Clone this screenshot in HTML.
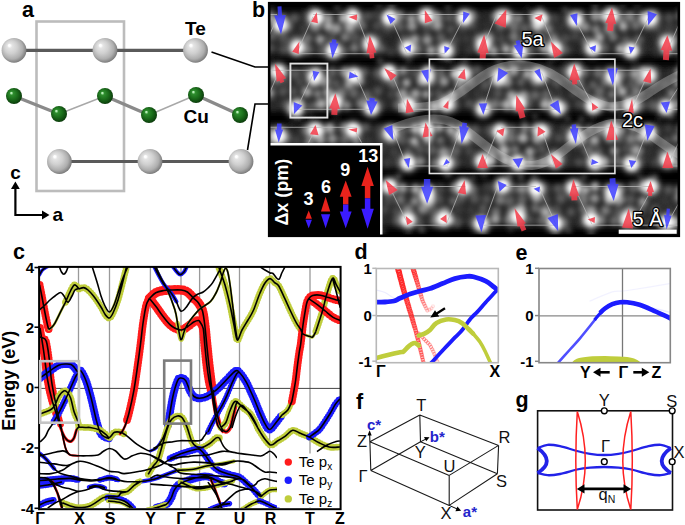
<!DOCTYPE html>
<html><head><meta charset="utf-8"><title>CuTe</title><style>
html,body{margin:0;padding:0;background:#fff;width:685px;height:525px;overflow:hidden}
svg{display:block}
text{font-family:"Liberation Sans",sans-serif}
.lab{font-weight:bold;font-size:21.5px;fill:#000}
.lab2{font-weight:bold;font-size:19px;fill:#000}
.tk{font-weight:bold;font-size:15px}
.kp{font-weight:bold;font-size:16px}
.kp2{font-weight:bold;font-size:16px}
.el{font-weight:bold;font-size:18px}
.lg{font-size:15px}
.bz{font-size:16.5px;fill:#111}
.bs{font-size:15px;font-weight:bold;fill:#2424cc}
.wl{font-size:20px;fill:#fff;stroke:#000;stroke-width:2.6px;paint-order:stroke;stroke-linejoin:round}
.il{font-size:18px;font-weight:bold;fill:#fff}
.in{font-size:18px;font-weight:bold;fill:#fff}
</style></head>
<body><svg width="685" height="525" viewBox="0 0 685 525">
<defs>
<radialGradient id="gte" cx="0.46" cy="0.46" r="0.58" fx="0.3" fy="0.29">
 <stop offset="0" stop-color="#ffffff"/>
 <stop offset="0.07" stop-color="#ffffff"/>
 <stop offset="0.17" stop-color="#e4e4e4"/>
 <stop offset="0.45" stop-color="#d0d0d0"/>
 <stop offset="0.75" stop-color="#aeaeae"/>
 <stop offset="0.92" stop-color="#848484"/>
 <stop offset="1" stop-color="#686868"/>
</radialGradient>
<radialGradient id="gcu" cx="0.46" cy="0.46" r="0.58" fx="0.32" fy="0.3">
 <stop offset="0" stop-color="#e8ffe8"/>
 <stop offset="0.08" stop-color="#a8e8a8"/>
 <stop offset="0.2" stop-color="#2e8e2e"/>
 <stop offset="0.55" stop-color="#1b6e1b"/>
 <stop offset="0.85" stop-color="#0f4a0f"/>
 <stop offset="1" stop-color="#083008"/>
</radialGradient>

<clipPath id="clipb"><rect x="268" y="2" width="412" height="235"/></clipPath>
<filter id="blur4" x="-10%" y="-50%" width="120%" height="200%"><feGaussianBlur stdDeviation="3.5"/></filter>
<filter id="blur2" x="-50%" y="-50%" width="200%" height="200%"><feGaussianBlur stdDeviation="2.9"/></filter>
<filter id="blur3" x="-80%" y="-80%" width="260%" height="260%"><feGaussianBlur stdDeviation="3.5"/></filter>
<clipPath id="clipc"><rect x="39" y="267" width="301.5" height="241"/></clipPath><clipPath id="clipd"><rect x="376.3" y="268.5" width="122" height="94.2"/></clipPath>
<clipPath id="clipe"><rect x="539" y="268.5" width="131.3" height="94.2"/></clipPath></defs>
<rect width="685" height="525" fill="#fff"/>
<text x="22" y="16.6" class="lab">a</text>
<rect x="36.5" y="21.5" width="87.5" height="169.5" fill="none" stroke="#bcbcbc" stroke-width="2.6"/>
<line x1="14" y1="50.3" x2="196" y2="50.3" stroke="#5a5a5a" stroke-width="3.2"/>
<line x1="59" y1="161.5" x2="241" y2="161.5" stroke="#5a5a5a" stroke-width="3.2"/>
<line x1="14" y1="96" x2="59" y2="114" stroke="#8a8a8a" stroke-width="3.4"/>
<line x1="59" y1="114" x2="105" y2="96" stroke="#a8a8a8" stroke-width="1.4"/>
<line x1="105" y1="96" x2="149" y2="115" stroke="#8a8a8a" stroke-width="3.4"/>
<line x1="149" y1="115" x2="196" y2="95" stroke="#a8a8a8" stroke-width="1.4"/>
<line x1="196" y1="95" x2="240" y2="115" stroke="#8a8a8a" stroke-width="3.4"/>
<polyline points="211.5,52 255,67 268.5,67" fill="none" stroke="#000" stroke-width="1.6"/>
<polyline points="247.5,150 255,104 268.5,104" fill="none" stroke="#000" stroke-width="1.6"/>
<circle cx="14" cy="50.3" r="12.4" fill="url(#gte)"/>
<circle cx="105" cy="50.3" r="12.4" fill="url(#gte)"/>
<circle cx="195.5" cy="50.3" r="12.4" fill="url(#gte)"/>
<circle cx="59.4" cy="161.5" r="12.4" fill="url(#gte)"/>
<circle cx="150" cy="161.5" r="12.4" fill="url(#gte)"/>
<circle cx="241" cy="161.5" r="12.4" fill="url(#gte)"/>
<circle cx="14" cy="96" r="8" fill="url(#gcu)"/>
<circle cx="59" cy="114" r="8" fill="url(#gcu)"/>
<circle cx="105" cy="96" r="8" fill="url(#gcu)"/>
<circle cx="149" cy="115" r="8" fill="url(#gcu)"/>
<circle cx="196" cy="95" r="8" fill="url(#gcu)"/>
<circle cx="240" cy="115" r="8" fill="url(#gcu)"/>
<text x="185" y="34.7" class="lab2">Te</text>
<text x="183.5" y="123" class="lab2">Cu</text>
<polyline points="15.4,186 15.4,215 45,215" fill="none" stroke="#000" stroke-width="2.2"/>
<polygon points="15.4,181.5 11,189 19.8,189" fill="#000"/>
<polygon points="49.5,215 42,210.6 42,219.4" fill="#000"/>
<text x="10.3" y="179" class="lab2">c</text>
<text x="52.5" y="221" class="lab2">a</text>
<text x="252" y="17.2" class="lab">b</text>
<g clip-path="url(#clipb)">
<rect x="268" y="2" width="412" height="235" fill="#000"/>
<g filter="url(#blur4)">
<rect x="262" y="11.5" width="425" height="44.2" fill="#262626"/>
<rect x="262" y="67.3" width="425" height="44.0" fill="#262626"/>
<rect x="262" y="124.3" width="425" height="43.7" fill="#262626"/>
<rect x="262" y="183.5" width="425" height="43.7" fill="#262626"/>
</g>
<g filter="url(#blur2)">
<circle cx="270.5" cy="17.9" r="4.6" fill="rgb(164,164,164)"/>
<circle cx="282.2" cy="18.3" r="4.2" fill="rgb(68,68,68)"/>
<circle cx="294.5" cy="18.0" r="4.4" fill="rgb(92,92,92)"/>
<circle cx="305.0" cy="15.4" r="4.9" fill="rgb(41,41,41)"/>
<circle cx="317.3" cy="17.7" r="5.1" fill="rgb(181,181,181)"/>
<circle cx="328.5" cy="18.4" r="4.7" fill="rgb(149,149,149)"/>
<circle cx="342.9" cy="18.0" r="4.5" fill="rgb(169,169,169)"/>
<circle cx="353.4" cy="15.3" r="4.8" fill="rgb(95,95,95)"/>
<circle cx="367.9" cy="16.0" r="4.4" fill="rgb(79,79,79)"/>
<circle cx="375.7" cy="14.8" r="4.4" fill="rgb(61,61,61)"/>
<circle cx="389.3" cy="17.3" r="4.9" fill="rgb(147,147,147)"/>
<circle cx="400.0" cy="15.8" r="5.2" fill="rgb(115,115,115)"/>
<circle cx="411.3" cy="18.3" r="4.4" fill="rgb(160,160,160)"/>
<circle cx="423.7" cy="17.7" r="5.2" fill="rgb(115,115,115)"/>
<circle cx="437.4" cy="17.3" r="5.2" fill="rgb(144,144,144)"/>
<circle cx="449.1" cy="17.8" r="4.3" fill="rgb(95,95,95)"/>
<circle cx="462.4" cy="17.6" r="4.6" fill="rgb(135,135,135)"/>
<circle cx="473.0" cy="15.7" r="5.1" fill="rgb(82,82,82)"/>
<circle cx="485.7" cy="16.0" r="4.5" fill="rgb(40,40,40)"/>
<circle cx="497.2" cy="15.7" r="5.3" fill="rgb(105,105,105)"/>
<circle cx="509.3" cy="17.4" r="5.2" fill="rgb(92,92,92)"/>
<circle cx="518.7" cy="18.4" r="4.4" fill="rgb(131,131,131)"/>
<circle cx="533.8" cy="15.9" r="4.2" fill="rgb(121,121,121)"/>
<circle cx="542.7" cy="18.2" r="4.7" fill="rgb(153,153,153)"/>
<circle cx="554.4" cy="18.4" r="4.6" fill="rgb(66,66,66)"/>
<circle cx="569.1" cy="14.9" r="5.0" fill="rgb(43,43,43)"/>
<circle cx="579.8" cy="15.1" r="4.3" fill="rgb(89,89,89)"/>
<circle cx="595.3" cy="16.3" r="5.2" fill="rgb(149,149,149)"/>
<circle cx="604.7" cy="16.4" r="4.6" fill="rgb(163,163,163)"/>
<circle cx="620.8" cy="18.3" r="4.7" fill="rgb(84,84,84)"/>
<circle cx="630.1" cy="16.5" r="5.2" fill="rgb(133,133,133)"/>
<circle cx="643.2" cy="17.6" r="5.2" fill="rgb(140,140,140)"/>
<circle cx="654.8" cy="15.7" r="4.9" fill="rgb(79,79,79)"/>
<circle cx="669.0" cy="17.6" r="4.5" fill="rgb(77,77,77)"/>
<circle cx="681.1" cy="15.2" r="5.3" fill="rgb(107,107,107)"/>
<circle cx="276.5" cy="28.5" r="5.0" fill="rgb(55,55,55)"/>
<circle cx="288.4" cy="26.6" r="4.6" fill="rgb(86,86,86)"/>
<circle cx="304.0" cy="28.7" r="4.6" fill="rgb(61,61,61)"/>
<circle cx="315.4" cy="27.3" r="5.3" fill="rgb(116,116,116)"/>
<circle cx="328.2" cy="26.3" r="4.6" fill="rgb(177,177,177)"/>
<circle cx="336.6" cy="28.3" r="5.1" fill="rgb(155,155,155)"/>
<circle cx="349.6" cy="27.4" r="5.3" fill="rgb(155,155,155)"/>
<circle cx="361.7" cy="25.9" r="5.1" fill="rgb(104,104,104)"/>
<circle cx="376.7" cy="25.9" r="4.4" fill="rgb(76,76,76)"/>
<circle cx="387.1" cy="28.8" r="5.4" fill="rgb(65,65,65)"/>
<circle cx="399.9" cy="26.9" r="4.8" fill="rgb(93,93,93)"/>
<circle cx="412.0" cy="26.2" r="4.9" fill="rgb(154,154,154)"/>
<circle cx="426.7" cy="28.6" r="4.6" fill="rgb(70,70,70)"/>
<circle cx="437.5" cy="25.4" r="5.2" fill="rgb(158,158,158)"/>
<circle cx="450.6" cy="29.0" r="4.6" fill="rgb(82,82,82)"/>
<circle cx="462.0" cy="28.5" r="5.2" fill="rgb(57,57,57)"/>
<circle cx="473.5" cy="26.7" r="4.8" fill="rgb(58,58,58)"/>
<circle cx="487.5" cy="26.6" r="5.4" fill="rgb(47,47,47)"/>
<circle cx="499.6" cy="28.9" r="4.7" fill="rgb(70,70,70)"/>
<circle cx="514.2" cy="26.7" r="5.0" fill="rgb(111,111,111)"/>
<circle cx="524.7" cy="28.0" r="4.8" fill="rgb(98,98,98)"/>
<circle cx="537.1" cy="26.3" r="5.3" fill="rgb(179,179,179)"/>
<circle cx="548.3" cy="29.0" r="4.5" fill="rgb(133,133,133)"/>
<circle cx="560.0" cy="27.9" r="4.4" fill="rgb(53,53,53)"/>
<circle cx="576.5" cy="28.5" r="4.6" fill="rgb(50,50,50)"/>
<circle cx="585.4" cy="27.1" r="4.9" fill="rgb(138,138,138)"/>
<circle cx="596.1" cy="29.2" r="4.5" fill="rgb(132,132,132)"/>
<circle cx="609.3" cy="28.7" r="5.4" fill="rgb(147,147,147)"/>
<circle cx="623.4" cy="26.4" r="4.3" fill="rgb(184,184,184)"/>
<circle cx="635.7" cy="25.3" r="4.9" fill="rgb(113,113,113)"/>
<circle cx="647.0" cy="25.4" r="5.1" fill="rgb(78,78,78)"/>
<circle cx="656.7" cy="28.0" r="5.0" fill="rgb(64,64,64)"/>
<circle cx="669.4" cy="27.5" r="5.1" fill="rgb(62,62,62)"/>
<circle cx="683.9" cy="28.6" r="5.0" fill="rgb(150,150,150)"/>
<circle cx="271.6" cy="36.5" r="4.6" fill="rgb(92,92,92)"/>
<circle cx="283.7" cy="38.8" r="5.1" fill="rgb(79,79,79)"/>
<circle cx="295.5" cy="38.4" r="4.4" fill="rgb(54,54,54)"/>
<circle cx="307.5" cy="38.4" r="4.8" fill="rgb(112,112,112)"/>
<circle cx="320.2" cy="39.4" r="4.5" fill="rgb(163,163,163)"/>
<circle cx="331.3" cy="36.5" r="4.6" fill="rgb(73,73,73)"/>
<circle cx="345.0" cy="37.1" r="4.3" fill="rgb(132,132,132)"/>
<circle cx="354.8" cy="37.4" r="5.1" fill="rgb(84,84,84)"/>
<circle cx="368.3" cy="39.4" r="4.4" fill="rgb(89,89,89)"/>
<circle cx="379.1" cy="37.8" r="4.3" fill="rgb(48,48,48)"/>
<circle cx="390.4" cy="37.8" r="4.9" fill="rgb(38,38,38)"/>
<circle cx="403.7" cy="38.6" r="4.7" fill="rgb(71,71,71)"/>
<circle cx="414.9" cy="39.0" r="4.6" fill="rgb(153,153,153)"/>
<circle cx="427.2" cy="40.0" r="5.0" fill="rgb(150,150,150)"/>
<circle cx="440.6" cy="37.3" r="4.5" fill="rgb(98,98,98)"/>
<circle cx="454.5" cy="39.7" r="5.4" fill="rgb(68,68,68)"/>
<circle cx="466.3" cy="38.9" r="4.4" fill="rgb(59,59,59)"/>
<circle cx="478.1" cy="38.3" r="4.2" fill="rgb(77,77,77)"/>
<circle cx="488.7" cy="37.5" r="5.3" fill="rgb(119,119,119)"/>
<circle cx="501.3" cy="39.6" r="4.9" fill="rgb(73,73,73)"/>
<circle cx="514.0" cy="36.7" r="5.0" fill="rgb(124,124,124)"/>
<circle cx="527.4" cy="39.0" r="4.8" fill="rgb(155,155,155)"/>
<circle cx="539.8" cy="38.7" r="4.5" fill="rgb(176,176,176)"/>
<circle cx="553.3" cy="37.7" r="4.7" fill="rgb(119,119,119)"/>
<circle cx="565.5" cy="38.3" r="4.7" fill="rgb(75,75,75)"/>
<circle cx="575.3" cy="36.5" r="4.5" fill="rgb(71,71,71)"/>
<circle cx="585.8" cy="39.8" r="4.4" fill="rgb(93,93,93)"/>
<circle cx="599.6" cy="37.4" r="4.6" fill="rgb(167,167,167)"/>
<circle cx="613.1" cy="37.0" r="4.6" fill="rgb(124,124,124)"/>
<circle cx="625.4" cy="39.8" r="4.6" fill="rgb(79,79,79)"/>
<circle cx="638.5" cy="39.2" r="4.3" fill="rgb(102,102,102)"/>
<circle cx="648.0" cy="39.9" r="4.8" fill="rgb(37,37,37)"/>
<circle cx="662.5" cy="38.1" r="5.0" fill="rgb(38,38,38)"/>
<circle cx="674.5" cy="38.1" r="5.1" fill="rgb(85,85,85)"/>
<circle cx="271.1" cy="48.0" r="4.2" fill="rgb(80,80,80)"/>
<circle cx="283.5" cy="49.6" r="4.6" fill="rgb(80,80,80)"/>
<circle cx="295.8" cy="50.8" r="5.4" fill="rgb(81,81,81)"/>
<circle cx="307.9" cy="49.4" r="5.3" fill="rgb(96,96,96)"/>
<circle cx="320.6" cy="50.5" r="4.8" fill="rgb(70,70,70)"/>
<circle cx="334.2" cy="49.8" r="4.9" fill="rgb(74,74,74)"/>
<circle cx="343.0" cy="50.9" r="5.1" fill="rgb(82,82,82)"/>
<circle cx="354.3" cy="47.9" r="4.3" fill="rgb(130,130,130)"/>
<circle cx="368.6" cy="49.5" r="4.3" fill="rgb(77,77,77)"/>
<circle cx="381.8" cy="48.4" r="4.2" fill="rgb(91,91,91)"/>
<circle cx="391.1" cy="51.4" r="4.4" fill="rgb(60,60,60)"/>
<circle cx="406.8" cy="50.1" r="4.9" fill="rgb(81,81,81)"/>
<circle cx="418.1" cy="49.2" r="4.9" fill="rgb(97,97,97)"/>
<circle cx="430.9" cy="50.6" r="4.7" fill="rgb(168,168,168)"/>
<circle cx="445.2" cy="51.7" r="5.0" fill="rgb(109,109,109)"/>
<circle cx="454.4" cy="50.8" r="4.6" fill="rgb(43,43,43)"/>
<circle cx="469.2" cy="49.6" r="4.4" fill="rgb(55,55,55)"/>
<circle cx="482.1" cy="48.7" r="4.7" fill="rgb(172,172,172)"/>
<circle cx="493.8" cy="50.9" r="4.5" fill="rgb(159,159,159)"/>
<circle cx="505.9" cy="49.0" r="4.3" fill="rgb(183,183,183)"/>
<circle cx="518.2" cy="51.5" r="4.2" fill="rgb(141,141,141)"/>
<circle cx="531.7" cy="50.3" r="4.7" fill="rgb(73,73,73)"/>
<circle cx="543.5" cy="48.2" r="4.3" fill="rgb(163,163,163)"/>
<circle cx="555.1" cy="48.4" r="4.4" fill="rgb(141,141,141)"/>
<circle cx="566.6" cy="49.9" r="4.6" fill="rgb(78,78,78)"/>
<circle cx="579.5" cy="48.2" r="4.2" fill="rgb(36,36,36)"/>
<circle cx="595.0" cy="47.8" r="4.5" fill="rgb(180,180,180)"/>
<circle cx="604.8" cy="47.8" r="4.6" fill="rgb(86,86,86)"/>
<circle cx="619.9" cy="48.8" r="4.4" fill="rgb(175,175,175)"/>
<circle cx="630.3" cy="51.5" r="5.1" fill="rgb(150,150,150)"/>
<circle cx="643.3" cy="48.6" r="4.6" fill="rgb(42,42,42)"/>
<circle cx="657.0" cy="51.5" r="4.7" fill="rgb(45,45,45)"/>
<circle cx="666.7" cy="51.0" r="4.9" fill="rgb(132,132,132)"/>
<circle cx="678.3" cy="51.4" r="4.4" fill="rgb(76,76,76)"/>
<circle cx="267.2" cy="71.1" r="4.5" fill="rgb(129,129,129)"/>
<circle cx="281.7" cy="71.8" r="5.1" fill="rgb(57,57,57)"/>
<circle cx="294.9" cy="73.7" r="5.4" fill="rgb(87,87,87)"/>
<circle cx="304.7" cy="71.3" r="4.6" fill="rgb(60,60,60)"/>
<circle cx="316.4" cy="73.2" r="4.4" fill="rgb(82,82,82)"/>
<circle cx="332.3" cy="72.2" r="5.2" fill="rgb(95,95,95)"/>
<circle cx="344.7" cy="71.8" r="4.9" fill="rgb(138,138,138)"/>
<circle cx="355.0" cy="73.6" r="4.9" fill="rgb(135,135,135)"/>
<circle cx="364.8" cy="71.8" r="4.2" fill="rgb(78,78,78)"/>
<circle cx="377.5" cy="73.5" r="5.0" fill="rgb(80,80,80)"/>
<circle cx="388.4" cy="70.9" r="4.9" fill="rgb(158,158,158)"/>
<circle cx="403.3" cy="71.1" r="4.2" fill="rgb(145,145,145)"/>
<circle cx="413.4" cy="72.6" r="4.3" fill="rgb(73,73,73)"/>
<circle cx="428.7" cy="70.4" r="4.7" fill="rgb(161,161,161)"/>
<circle cx="441.2" cy="73.0" r="4.3" fill="rgb(100,100,100)"/>
<circle cx="454.8" cy="74.0" r="4.6" fill="rgb(184,184,184)"/>
<circle cx="466.2" cy="73.9" r="4.5" fill="rgb(70,70,70)"/>
<circle cx="477.3" cy="70.3" r="4.9" fill="rgb(85,85,85)"/>
<circle cx="489.8" cy="71.1" r="5.1" fill="rgb(46,46,46)"/>
<circle cx="500.8" cy="73.1" r="4.7" fill="rgb(55,55,55)"/>
<circle cx="513.7" cy="70.7" r="5.4" fill="rgb(161,161,161)"/>
<circle cx="527.0" cy="73.9" r="4.5" fill="rgb(172,172,172)"/>
<circle cx="536.6" cy="72.9" r="4.7" fill="rgb(150,150,150)"/>
<circle cx="551.8" cy="73.2" r="5.2" fill="rgb(75,75,75)"/>
<circle cx="562.7" cy="71.3" r="4.8" fill="rgb(62,62,62)"/>
<circle cx="576.3" cy="71.0" r="4.9" fill="rgb(80,80,80)"/>
<circle cx="585.7" cy="72.6" r="4.6" fill="rgb(84,84,84)"/>
<circle cx="598.1" cy="73.1" r="4.9" fill="rgb(111,111,111)"/>
<circle cx="608.9" cy="72.4" r="5.3" fill="rgb(77,77,77)"/>
<circle cx="622.1" cy="74.0" r="5.2" fill="rgb(94,94,94)"/>
<circle cx="634.3" cy="73.7" r="4.9" fill="rgb(159,159,159)"/>
<circle cx="642.5" cy="70.9" r="4.4" fill="rgb(156,156,156)"/>
<circle cx="656.4" cy="71.6" r="4.9" fill="rgb(41,41,41)"/>
<circle cx="671.3" cy="74.1" r="5.1" fill="rgb(46,46,46)"/>
<circle cx="680.6" cy="70.6" r="4.3" fill="rgb(181,181,181)"/>
<circle cx="275.8" cy="81.8" r="5.4" fill="rgb(78,78,78)"/>
<circle cx="286.6" cy="83.2" r="4.7" fill="rgb(64,64,64)"/>
<circle cx="299.6" cy="82.2" r="4.2" fill="rgb(78,78,78)"/>
<circle cx="313.8" cy="82.0" r="5.1" fill="rgb(132,132,132)"/>
<circle cx="325.2" cy="81.6" r="5.4" fill="rgb(131,131,131)"/>
<circle cx="336.0" cy="83.6" r="4.5" fill="rgb(88,88,88)"/>
<circle cx="348.7" cy="84.6" r="4.3" fill="rgb(143,143,143)"/>
<circle cx="359.9" cy="81.8" r="4.3" fill="rgb(125,125,125)"/>
<circle cx="374.7" cy="83.1" r="4.4" fill="rgb(39,39,39)"/>
<circle cx="384.5" cy="84.6" r="4.8" fill="rgb(46,46,46)"/>
<circle cx="394.5" cy="84.1" r="4.4" fill="rgb(115,115,115)"/>
<circle cx="406.5" cy="82.7" r="4.2" fill="rgb(173,173,173)"/>
<circle cx="421.4" cy="81.6" r="4.3" fill="rgb(136,136,136)"/>
<circle cx="430.8" cy="82.0" r="4.8" fill="rgb(71,71,71)"/>
<circle cx="444.0" cy="81.5" r="4.8" fill="rgb(157,157,157)"/>
<circle cx="459.2" cy="84.5" r="4.7" fill="rgb(134,134,134)"/>
<circle cx="470.3" cy="82.5" r="4.9" fill="rgb(75,75,75)"/>
<circle cx="485.5" cy="84.5" r="5.2" fill="rgb(86,86,86)"/>
<circle cx="497.7" cy="81.5" r="5.1" fill="rgb(174,174,174)"/>
<circle cx="507.4" cy="82.3" r="5.2" fill="rgb(124,124,124)"/>
<circle cx="521.0" cy="82.0" r="4.5" fill="rgb(94,94,94)"/>
<circle cx="534.8" cy="81.2" r="5.1" fill="rgb(85,85,85)"/>
<circle cx="548.0" cy="81.6" r="5.3" fill="rgb(37,37,37)"/>
<circle cx="556.8" cy="82.7" r="4.8" fill="rgb(88,88,88)"/>
<circle cx="571.4" cy="81.0" r="5.3" fill="rgb(39,39,39)"/>
<circle cx="579.7" cy="83.5" r="4.3" fill="rgb(124,124,124)"/>
<circle cx="593.1" cy="84.8" r="4.4" fill="rgb(97,97,97)"/>
<circle cx="604.2" cy="82.5" r="4.5" fill="rgb(81,81,81)"/>
<circle cx="617.3" cy="84.3" r="4.9" fill="rgb(131,131,131)"/>
<circle cx="631.1" cy="83.8" r="4.5" fill="rgb(87,87,87)"/>
<circle cx="640.5" cy="80.9" r="5.0" fill="rgb(131,131,131)"/>
<circle cx="654.2" cy="84.0" r="4.8" fill="rgb(49,49,49)"/>
<circle cx="665.7" cy="84.4" r="4.5" fill="rgb(67,67,67)"/>
<circle cx="677.7" cy="83.5" r="4.6" fill="rgb(141,141,141)"/>
<circle cx="269.6" cy="93.0" r="4.9" fill="rgb(161,161,161)"/>
<circle cx="282.9" cy="91.7" r="4.4" fill="rgb(89,89,89)"/>
<circle cx="293.7" cy="91.8" r="4.5" fill="rgb(82,82,82)"/>
<circle cx="306.8" cy="92.0" r="4.9" fill="rgb(174,174,174)"/>
<circle cx="317.7" cy="93.7" r="4.2" fill="rgb(133,133,133)"/>
<circle cx="327.9" cy="92.0" r="4.3" fill="rgb(164,164,164)"/>
<circle cx="341.9" cy="92.0" r="5.2" fill="rgb(103,103,103)"/>
<circle cx="353.7" cy="93.0" r="5.2" fill="rgb(102,102,102)"/>
<circle cx="366.2" cy="94.9" r="5.0" fill="rgb(101,101,101)"/>
<circle cx="377.7" cy="91.6" r="4.4" fill="rgb(88,88,88)"/>
<circle cx="391.8" cy="94.2" r="4.3" fill="rgb(70,70,70)"/>
<circle cx="402.6" cy="93.8" r="5.2" fill="rgb(156,156,156)"/>
<circle cx="415.5" cy="93.7" r="4.8" fill="rgb(162,162,162)"/>
<circle cx="426.4" cy="94.2" r="4.3" fill="rgb(159,159,159)"/>
<circle cx="438.6" cy="93.5" r="5.1" fill="rgb(78,78,78)"/>
<circle cx="452.3" cy="94.8" r="4.3" fill="rgb(177,177,177)"/>
<circle cx="462.8" cy="92.6" r="4.6" fill="rgb(83,83,83)"/>
<circle cx="477.8" cy="93.3" r="4.8" fill="rgb(55,55,55)"/>
<circle cx="486.8" cy="93.9" r="5.3" fill="rgb(48,48,48)"/>
<circle cx="498.0" cy="93.1" r="4.6" fill="rgb(89,89,89)"/>
<circle cx="511.1" cy="95.1" r="4.7" fill="rgb(153,153,153)"/>
<circle cx="524.0" cy="95.1" r="4.7" fill="rgb(134,134,134)"/>
<circle cx="535.1" cy="95.2" r="4.9" fill="rgb(104,104,104)"/>
<circle cx="546.3" cy="94.6" r="5.0" fill="rgb(100,100,100)"/>
<circle cx="558.5" cy="93.1" r="4.9" fill="rgb(53,53,53)"/>
<circle cx="573.3" cy="94.0" r="4.5" fill="rgb(68,68,68)"/>
<circle cx="584.7" cy="91.8" r="5.0" fill="rgb(84,84,84)"/>
<circle cx="599.7" cy="91.6" r="5.2" fill="rgb(106,106,106)"/>
<circle cx="612.2" cy="94.5" r="4.4" fill="rgb(119,119,119)"/>
<circle cx="622.4" cy="91.7" r="4.6" fill="rgb(179,179,179)"/>
<circle cx="636.5" cy="91.7" r="5.4" fill="rgb(122,122,122)"/>
<circle cx="649.2" cy="95.0" r="5.3" fill="rgb(37,37,37)"/>
<circle cx="658.6" cy="93.1" r="4.8" fill="rgb(41,41,41)"/>
<circle cx="672.1" cy="93.5" r="4.5" fill="rgb(139,139,139)"/>
<circle cx="273.8" cy="105.3" r="4.4" fill="rgb(41,41,41)"/>
<circle cx="286.2" cy="104.6" r="5.4" fill="rgb(76,76,76)"/>
<circle cx="299.0" cy="103.0" r="4.7" fill="rgb(140,140,140)"/>
<circle cx="311.5" cy="106.5" r="4.7" fill="rgb(87,87,87)"/>
<circle cx="321.0" cy="104.1" r="5.1" fill="rgb(173,173,173)"/>
<circle cx="335.6" cy="106.5" r="4.8" fill="rgb(152,152,152)"/>
<circle cx="347.0" cy="105.4" r="4.5" fill="rgb(134,134,134)"/>
<circle cx="360.9" cy="103.4" r="5.1" fill="rgb(121,121,121)"/>
<circle cx="373.0" cy="104.6" r="5.3" fill="rgb(79,79,79)"/>
<circle cx="381.9" cy="104.6" r="4.4" fill="rgb(50,50,50)"/>
<circle cx="397.3" cy="104.8" r="5.0" fill="rgb(89,89,89)"/>
<circle cx="407.3" cy="103.0" r="4.5" fill="rgb(183,183,183)"/>
<circle cx="418.7" cy="105.1" r="4.4" fill="rgb(85,85,85)"/>
<circle cx="434.3" cy="106.5" r="4.8" fill="rgb(177,177,177)"/>
<circle cx="443.7" cy="104.9" r="4.3" fill="rgb(112,112,112)"/>
<circle cx="454.8" cy="105.5" r="5.4" fill="rgb(58,58,58)"/>
<circle cx="469.1" cy="103.5" r="4.2" fill="rgb(81,81,81)"/>
<circle cx="482.3" cy="106.2" r="5.0" fill="rgb(61,61,61)"/>
<circle cx="495.4" cy="104.1" r="5.3" fill="rgb(113,113,113)"/>
<circle cx="506.6" cy="104.8" r="5.2" fill="rgb(171,171,171)"/>
<circle cx="518.9" cy="104.3" r="4.8" fill="rgb(171,171,171)"/>
<circle cx="529.0" cy="103.6" r="4.8" fill="rgb(70,70,70)"/>
<circle cx="544.7" cy="104.4" r="4.8" fill="rgb(179,179,179)"/>
<circle cx="554.2" cy="103.9" r="5.0" fill="rgb(123,123,123)"/>
<circle cx="564.6" cy="106.6" r="4.5" fill="rgb(77,77,77)"/>
<circle cx="579.2" cy="104.3" r="4.6" fill="rgb(72,72,72)"/>
<circle cx="591.8" cy="105.7" r="5.2" fill="rgb(166,166,166)"/>
<circle cx="602.5" cy="103.1" r="5.2" fill="rgb(137,137,137)"/>
<circle cx="613.7" cy="106.4" r="4.4" fill="rgb(168,168,168)"/>
<circle cx="628.3" cy="102.9" r="4.8" fill="rgb(130,130,130)"/>
<circle cx="641.1" cy="105.3" r="4.9" fill="rgb(84,84,84)"/>
<circle cx="652.5" cy="105.4" r="5.2" fill="rgb(89,89,89)"/>
<circle cx="664.1" cy="104.2" r="4.4" fill="rgb(67,67,67)"/>
<circle cx="675.8" cy="104.4" r="5.3" fill="rgb(117,117,117)"/>
<circle cx="265.8" cy="131.1" r="4.7" fill="rgb(181,181,181)"/>
<circle cx="278.9" cy="130.9" r="4.4" fill="rgb(79,79,79)"/>
<circle cx="291.8" cy="128.1" r="4.5" fill="rgb(36,36,36)"/>
<circle cx="305.5" cy="130.8" r="5.0" fill="rgb(88,88,88)"/>
<circle cx="319.0" cy="130.9" r="5.2" fill="rgb(171,171,171)"/>
<circle cx="329.9" cy="128.1" r="5.1" fill="rgb(175,175,175)"/>
<circle cx="343.4" cy="127.5" r="5.1" fill="rgb(102,102,102)"/>
<circle cx="355.5" cy="130.1" r="4.4" fill="rgb(177,177,177)"/>
<circle cx="366.2" cy="127.3" r="4.4" fill="rgb(87,87,87)"/>
<circle cx="379.4" cy="130.1" r="5.3" fill="rgb(62,62,62)"/>
<circle cx="389.9" cy="131.0" r="5.2" fill="rgb(88,88,88)"/>
<circle cx="403.8" cy="130.2" r="4.6" fill="rgb(89,89,89)"/>
<circle cx="415.0" cy="129.1" r="4.8" fill="rgb(183,183,183)"/>
<circle cx="426.7" cy="128.9" r="5.4" fill="rgb(147,147,147)"/>
<circle cx="439.4" cy="127.7" r="4.2" fill="rgb(175,175,175)"/>
<circle cx="450.6" cy="130.0" r="4.8" fill="rgb(169,169,169)"/>
<circle cx="463.5" cy="128.0" r="4.3" fill="rgb(82,82,82)"/>
<circle cx="475.3" cy="130.0" r="5.1" fill="rgb(84,84,84)"/>
<circle cx="488.5" cy="130.8" r="5.3" fill="rgb(68,68,68)"/>
<circle cx="500.2" cy="129.2" r="4.2" fill="rgb(80,80,80)"/>
<circle cx="512.7" cy="129.6" r="4.7" fill="rgb(89,89,89)"/>
<circle cx="524.8" cy="127.7" r="4.5" fill="rgb(136,136,136)"/>
<circle cx="535.8" cy="128.7" r="4.6" fill="rgb(118,118,118)"/>
<circle cx="552.2" cy="128.7" r="5.4" fill="rgb(40,40,40)"/>
<circle cx="563.5" cy="128.6" r="4.3" fill="rgb(55,55,55)"/>
<circle cx="576.5" cy="129.7" r="5.0" fill="rgb(127,127,127)"/>
<circle cx="589.3" cy="129.3" r="4.5" fill="rgb(109,109,109)"/>
<circle cx="599.9" cy="130.8" r="4.3" fill="rgb(134,134,134)"/>
<circle cx="611.5" cy="129.0" r="4.9" fill="rgb(95,95,95)"/>
<circle cx="621.3" cy="130.4" r="4.6" fill="rgb(126,126,126)"/>
<circle cx="633.3" cy="127.9" r="4.3" fill="rgb(145,145,145)"/>
<circle cx="648.0" cy="130.9" r="4.3" fill="rgb(142,142,142)"/>
<circle cx="657.3" cy="129.0" r="4.6" fill="rgb(40,40,40)"/>
<circle cx="668.4" cy="128.6" r="4.7" fill="rgb(62,62,62)"/>
<circle cx="682.1" cy="129.2" r="4.9" fill="rgb(135,135,135)"/>
<circle cx="272.5" cy="139.1" r="5.2" fill="rgb(110,110,110)"/>
<circle cx="286.4" cy="137.8" r="4.6" fill="rgb(85,85,85)"/>
<circle cx="296.4" cy="140.3" r="5.4" fill="rgb(63,63,63)"/>
<circle cx="309.4" cy="141.3" r="4.6" fill="rgb(128,128,128)"/>
<circle cx="320.7" cy="139.8" r="4.7" fill="rgb(157,157,157)"/>
<circle cx="332.3" cy="138.9" r="4.8" fill="rgb(148,148,148)"/>
<circle cx="344.3" cy="139.4" r="5.0" fill="rgb(94,94,94)"/>
<circle cx="356.2" cy="139.6" r="4.2" fill="rgb(134,134,134)"/>
<circle cx="367.7" cy="141.1" r="4.9" fill="rgb(56,56,56)"/>
<circle cx="380.0" cy="138.2" r="4.2" fill="rgb(66,66,66)"/>
<circle cx="392.3" cy="139.2" r="5.1" fill="rgb(56,56,56)"/>
<circle cx="402.9" cy="140.1" r="5.1" fill="rgb(85,85,85)"/>
<circle cx="414.2" cy="141.3" r="4.3" fill="rgb(185,185,185)"/>
<circle cx="428.0" cy="139.0" r="4.6" fill="rgb(176,176,176)"/>
<circle cx="440.3" cy="140.2" r="4.3" fill="rgb(109,109,109)"/>
<circle cx="453.7" cy="138.3" r="5.1" fill="rgb(71,71,71)"/>
<circle cx="466.6" cy="139.6" r="5.1" fill="rgb(82,82,82)"/>
<circle cx="476.9" cy="140.1" r="4.3" fill="rgb(71,71,71)"/>
<circle cx="486.2" cy="138.3" r="4.3" fill="rgb(44,44,44)"/>
<circle cx="501.2" cy="140.3" r="4.8" fill="rgb(148,148,148)"/>
<circle cx="511.7" cy="138.4" r="4.8" fill="rgb(111,111,111)"/>
<circle cx="523.0" cy="138.0" r="5.1" fill="rgb(177,177,177)"/>
<circle cx="536.5" cy="139.6" r="4.4" fill="rgb(144,144,144)"/>
<circle cx="546.8" cy="139.7" r="4.4" fill="rgb(50,50,50)"/>
<circle cx="558.9" cy="138.0" r="4.4" fill="rgb(81,81,81)"/>
<circle cx="571.3" cy="139.3" r="5.0" fill="rgb(74,74,74)"/>
<circle cx="582.5" cy="139.7" r="4.6" fill="rgb(150,150,150)"/>
<circle cx="594.4" cy="140.3" r="4.9" fill="rgb(172,172,172)"/>
<circle cx="609.8" cy="137.4" r="5.3" fill="rgb(130,130,130)"/>
<circle cx="619.5" cy="138.6" r="4.9" fill="rgb(91,91,91)"/>
<circle cx="631.0" cy="138.7" r="5.2" fill="rgb(130,130,130)"/>
<circle cx="640.8" cy="137.8" r="4.9" fill="rgb(140,140,140)"/>
<circle cx="654.1" cy="139.5" r="5.3" fill="rgb(36,36,36)"/>
<circle cx="666.5" cy="141.0" r="4.4" fill="rgb(80,80,80)"/>
<circle cx="676.5" cy="138.3" r="4.6" fill="rgb(115,115,115)"/>
<circle cx="269.9" cy="150.7" r="4.7" fill="rgb(118,118,118)"/>
<circle cx="284.6" cy="152.7" r="4.7" fill="rgb(44,44,44)"/>
<circle cx="298.2" cy="151.2" r="5.1" fill="rgb(38,38,38)"/>
<circle cx="306.5" cy="150.8" r="5.1" fill="rgb(134,134,134)"/>
<circle cx="319.4" cy="151.5" r="4.9" fill="rgb(125,125,125)"/>
<circle cx="333.7" cy="152.5" r="5.2" fill="rgb(160,160,160)"/>
<circle cx="342.9" cy="151.8" r="4.9" fill="rgb(170,170,170)"/>
<circle cx="357.6" cy="149.5" r="4.8" fill="rgb(132,132,132)"/>
<circle cx="369.0" cy="151.0" r="5.3" fill="rgb(65,65,65)"/>
<circle cx="381.6" cy="149.4" r="5.1" fill="rgb(55,55,55)"/>
<circle cx="394.2" cy="151.9" r="5.0" fill="rgb(63,63,63)"/>
<circle cx="408.0" cy="151.5" r="4.2" fill="rgb(88,88,88)"/>
<circle cx="419.9" cy="149.0" r="5.2" fill="rgb(84,84,84)"/>
<circle cx="431.6" cy="150.1" r="5.3" fill="rgb(93,93,93)"/>
<circle cx="443.6" cy="151.8" r="5.4" fill="rgb(138,138,138)"/>
<circle cx="455.4" cy="150.7" r="5.4" fill="rgb(98,98,98)"/>
<circle cx="469.1" cy="151.1" r="4.6" fill="rgb(70,70,70)"/>
<circle cx="479.3" cy="149.8" r="4.4" fill="rgb(37,37,37)"/>
<circle cx="491.5" cy="151.4" r="5.2" fill="rgb(99,99,99)"/>
<circle cx="503.8" cy="150.4" r="5.3" fill="rgb(184,184,184)"/>
<circle cx="514.9" cy="149.4" r="4.2" fill="rgb(125,125,125)"/>
<circle cx="529.9" cy="151.8" r="4.5" fill="rgb(168,168,168)"/>
<circle cx="541.6" cy="149.2" r="5.0" fill="rgb(83,83,83)"/>
<circle cx="554.7" cy="152.2" r="4.3" fill="rgb(52,52,52)"/>
<circle cx="565.5" cy="152.3" r="5.1" fill="rgb(54,54,54)"/>
<circle cx="578.7" cy="150.5" r="4.3" fill="rgb(46,46,46)"/>
<circle cx="588.2" cy="150.3" r="5.2" fill="rgb(103,103,103)"/>
<circle cx="598.5" cy="150.6" r="4.2" fill="rgb(82,82,82)"/>
<circle cx="614.5" cy="151.0" r="4.4" fill="rgb(150,150,150)"/>
<circle cx="626.2" cy="148.8" r="4.7" fill="rgb(80,80,80)"/>
<circle cx="636.4" cy="150.0" r="5.3" fill="rgb(164,164,164)"/>
<circle cx="647.9" cy="151.1" r="5.4" fill="rgb(50,50,50)"/>
<circle cx="662.2" cy="151.5" r="4.9" fill="rgb(67,67,67)"/>
<circle cx="673.6" cy="151.6" r="4.8" fill="rgb(136,136,136)"/>
<circle cx="274.7" cy="163.3" r="4.8" fill="rgb(78,78,78)"/>
<circle cx="289.2" cy="161.6" r="4.5" fill="rgb(51,51,51)"/>
<circle cx="300.8" cy="161.9" r="4.9" fill="rgb(80,80,80)"/>
<circle cx="313.9" cy="163.4" r="4.3" fill="rgb(125,125,125)"/>
<circle cx="325.1" cy="163.2" r="4.5" fill="rgb(76,76,76)"/>
<circle cx="334.7" cy="161.8" r="4.5" fill="rgb(114,114,114)"/>
<circle cx="349.8" cy="162.3" r="5.3" fill="rgb(127,127,127)"/>
<circle cx="362.1" cy="163.2" r="4.4" fill="rgb(180,180,180)"/>
<circle cx="370.8" cy="161.5" r="4.8" fill="rgb(183,183,183)"/>
<circle cx="386.9" cy="162.6" r="5.2" fill="rgb(58,58,58)"/>
<circle cx="395.9" cy="160.9" r="5.0" fill="rgb(52,52,52)"/>
<circle cx="408.0" cy="160.4" r="4.6" fill="rgb(165,165,165)"/>
<circle cx="420.6" cy="161.4" r="4.7" fill="rgb(136,136,136)"/>
<circle cx="434.3" cy="163.4" r="4.9" fill="rgb(98,98,98)"/>
<circle cx="445.5" cy="163.3" r="4.3" fill="rgb(182,182,182)"/>
<circle cx="456.4" cy="162.6" r="4.9" fill="rgb(68,68,68)"/>
<circle cx="468.1" cy="162.0" r="4.6" fill="rgb(47,47,47)"/>
<circle cx="479.9" cy="161.3" r="5.3" fill="rgb(55,55,55)"/>
<circle cx="491.5" cy="160.6" r="4.6" fill="rgb(170,170,170)"/>
<circle cx="505.3" cy="160.6" r="4.3" fill="rgb(184,184,184)"/>
<circle cx="516.4" cy="160.3" r="5.4" fill="rgb(115,115,115)"/>
<circle cx="530.6" cy="161.6" r="4.8" fill="rgb(159,159,159)"/>
<circle cx="542.3" cy="162.3" r="5.4" fill="rgb(126,126,126)"/>
<circle cx="557.3" cy="160.5" r="5.1" fill="rgb(36,36,36)"/>
<circle cx="569.3" cy="162.0" r="4.8" fill="rgb(45,45,45)"/>
<circle cx="579.3" cy="162.4" r="4.2" fill="rgb(84,84,84)"/>
<circle cx="594.7" cy="160.2" r="5.0" fill="rgb(125,125,125)"/>
<circle cx="604.2" cy="162.0" r="5.4" fill="rgb(155,155,155)"/>
<circle cx="616.9" cy="161.3" r="5.0" fill="rgb(106,106,106)"/>
<circle cx="628.6" cy="162.2" r="5.2" fill="rgb(147,147,147)"/>
<circle cx="641.6" cy="159.8" r="5.1" fill="rgb(55,55,55)"/>
<circle cx="654.3" cy="162.3" r="4.8" fill="rgb(60,60,60)"/>
<circle cx="664.0" cy="160.1" r="5.2" fill="rgb(39,39,39)"/>
<circle cx="679.1" cy="163.6" r="4.9" fill="rgb(152,152,152)"/>
<circle cx="269.5" cy="187.5" r="4.6" fill="rgb(117,117,117)"/>
<circle cx="282.5" cy="187.3" r="5.1" fill="rgb(68,68,68)"/>
<circle cx="293.8" cy="189.4" r="4.3" fill="rgb(80,80,80)"/>
<circle cx="307.6" cy="187.4" r="5.0" fill="rgb(43,43,43)"/>
<circle cx="319.4" cy="187.4" r="4.4" fill="rgb(84,84,84)"/>
<circle cx="332.0" cy="186.9" r="4.3" fill="rgb(159,159,159)"/>
<circle cx="345.2" cy="187.4" r="4.9" fill="rgb(96,96,96)"/>
<circle cx="356.1" cy="186.9" r="4.8" fill="rgb(125,125,125)"/>
<circle cx="369.1" cy="188.9" r="4.9" fill="rgb(66,66,66)"/>
<circle cx="381.2" cy="189.0" r="4.4" fill="rgb(76,76,76)"/>
<circle cx="389.2" cy="187.2" r="4.7" fill="rgb(74,74,74)"/>
<circle cx="402.9" cy="188.2" r="4.7" fill="rgb(157,157,157)"/>
<circle cx="415.5" cy="189.2" r="4.6" fill="rgb(174,174,174)"/>
<circle cx="428.3" cy="189.5" r="5.1" fill="rgb(183,183,183)"/>
<circle cx="440.5" cy="188.6" r="4.4" fill="rgb(72,72,72)"/>
<circle cx="454.2" cy="188.1" r="4.6" fill="rgb(112,112,112)"/>
<circle cx="462.3" cy="189.2" r="4.7" fill="rgb(104,104,104)"/>
<circle cx="473.3" cy="190.1" r="4.8" fill="rgb(89,89,89)"/>
<circle cx="487.7" cy="187.5" r="5.1" fill="rgb(62,62,62)"/>
<circle cx="500.9" cy="190.4" r="4.3" fill="rgb(94,94,94)"/>
<circle cx="513.6" cy="188.9" r="5.1" fill="rgb(74,74,74)"/>
<circle cx="522.1" cy="188.9" r="4.6" fill="rgb(148,148,148)"/>
<circle cx="532.8" cy="186.5" r="5.0" fill="rgb(126,126,126)"/>
<circle cx="546.5" cy="188.3" r="4.8" fill="rgb(51,51,51)"/>
<circle cx="558.0" cy="188.6" r="4.6" fill="rgb(90,90,90)"/>
<circle cx="568.8" cy="187.8" r="4.3" fill="rgb(71,71,71)"/>
<circle cx="585.6" cy="189.8" r="4.3" fill="rgb(175,175,175)"/>
<circle cx="595.0" cy="186.6" r="4.5" fill="rgb(184,184,184)"/>
<circle cx="607.8" cy="189.3" r="4.3" fill="rgb(114,114,114)"/>
<circle cx="620.8" cy="188.8" r="4.5" fill="rgb(104,104,104)"/>
<circle cx="633.3" cy="187.2" r="5.4" fill="rgb(100,100,100)"/>
<circle cx="643.4" cy="186.6" r="4.9" fill="rgb(163,163,163)"/>
<circle cx="654.2" cy="186.6" r="4.8" fill="rgb(73,73,73)"/>
<circle cx="668.5" cy="190.0" r="4.4" fill="rgb(92,92,92)"/>
<circle cx="679.7" cy="190.4" r="4.3" fill="rgb(138,138,138)"/>
<circle cx="278.9" cy="200.7" r="4.6" fill="rgb(79,79,79)"/>
<circle cx="288.7" cy="200.5" r="4.6" fill="rgb(86,86,86)"/>
<circle cx="303.6" cy="201.6" r="5.4" fill="rgb(53,53,53)"/>
<circle cx="314.2" cy="200.7" r="4.3" fill="rgb(79,79,79)"/>
<circle cx="329.3" cy="201.5" r="5.2" fill="rgb(77,77,77)"/>
<circle cx="340.7" cy="199.6" r="4.8" fill="rgb(180,180,180)"/>
<circle cx="352.1" cy="200.3" r="5.2" fill="rgb(103,103,103)"/>
<circle cx="361.1" cy="198.8" r="4.7" fill="rgb(154,154,154)"/>
<circle cx="376.6" cy="200.6" r="4.3" fill="rgb(58,58,58)"/>
<circle cx="388.6" cy="200.5" r="5.3" fill="rgb(71,71,71)"/>
<circle cx="400.2" cy="199.7" r="5.1" fill="rgb(113,113,113)"/>
<circle cx="414.6" cy="201.1" r="4.3" fill="rgb(140,140,140)"/>
<circle cx="428.2" cy="201.7" r="5.3" fill="rgb(175,175,175)"/>
<circle cx="439.0" cy="199.5" r="5.3" fill="rgb(75,75,75)"/>
<circle cx="453.3" cy="200.9" r="4.4" fill="rgb(102,102,102)"/>
<circle cx="461.4" cy="199.2" r="4.3" fill="rgb(82,82,82)"/>
<circle cx="474.7" cy="198.8" r="4.9" fill="rgb(88,88,88)"/>
<circle cx="486.5" cy="199.3" r="4.5" fill="rgb(87,87,87)"/>
<circle cx="499.9" cy="200.3" r="4.7" fill="rgb(126,126,126)"/>
<circle cx="509.4" cy="201.1" r="5.4" fill="rgb(96,96,96)"/>
<circle cx="522.0" cy="199.4" r="4.7" fill="rgb(104,104,104)"/>
<circle cx="536.3" cy="198.1" r="4.4" fill="rgb(147,147,147)"/>
<circle cx="545.6" cy="200.4" r="4.7" fill="rgb(77,77,77)"/>
<circle cx="560.9" cy="198.2" r="5.2" fill="rgb(92,92,92)"/>
<circle cx="573.9" cy="199.7" r="4.4" fill="rgb(53,53,53)"/>
<circle cx="583.5" cy="199.1" r="4.8" fill="rgb(126,126,126)"/>
<circle cx="594.6" cy="198.4" r="4.7" fill="rgb(150,150,150)"/>
<circle cx="609.4" cy="199.2" r="5.0" fill="rgb(168,168,168)"/>
<circle cx="619.2" cy="200.3" r="5.3" fill="rgb(141,141,141)"/>
<circle cx="630.4" cy="199.4" r="5.0" fill="rgb(88,88,88)"/>
<circle cx="643.0" cy="201.6" r="4.5" fill="rgb(161,161,161)"/>
<circle cx="656.5" cy="200.1" r="4.4" fill="rgb(44,44,44)"/>
<circle cx="665.2" cy="200.6" r="5.4" fill="rgb(53,53,53)"/>
<circle cx="679.4" cy="197.8" r="4.9" fill="rgb(146,146,146)"/>
<circle cx="273.0" cy="211.8" r="4.3" fill="rgb(92,92,92)"/>
<circle cx="284.9" cy="209.0" r="4.8" fill="rgb(39,39,39)"/>
<circle cx="297.5" cy="209.6" r="4.4" fill="rgb(63,63,63)"/>
<circle cx="310.8" cy="211.0" r="4.4" fill="rgb(144,144,144)"/>
<circle cx="320.6" cy="209.2" r="4.3" fill="rgb(88,88,88)"/>
<circle cx="336.5" cy="211.3" r="4.5" fill="rgb(98,98,98)"/>
<circle cx="346.5" cy="211.5" r="5.2" fill="rgb(125,125,125)"/>
<circle cx="361.9" cy="211.3" r="4.8" fill="rgb(101,101,101)"/>
<circle cx="370.5" cy="211.8" r="5.2" fill="rgb(77,77,77)"/>
<circle cx="384.4" cy="209.7" r="4.3" fill="rgb(72,72,72)"/>
<circle cx="396.5" cy="211.4" r="4.9" fill="rgb(70,70,70)"/>
<circle cx="407.9" cy="208.9" r="5.2" fill="rgb(112,112,112)"/>
<circle cx="423.0" cy="208.9" r="5.2" fill="rgb(143,143,143)"/>
<circle cx="432.9" cy="210.3" r="5.4" fill="rgb(79,79,79)"/>
<circle cx="445.0" cy="211.1" r="4.4" fill="rgb(106,106,106)"/>
<circle cx="458.3" cy="209.6" r="5.0" fill="rgb(58,58,58)"/>
<circle cx="471.2" cy="210.4" r="4.4" fill="rgb(59,59,59)"/>
<circle cx="483.1" cy="208.6" r="4.4" fill="rgb(91,91,91)"/>
<circle cx="495.9" cy="211.7" r="4.7" fill="rgb(113,113,113)"/>
<circle cx="511.8" cy="212.1" r="4.9" fill="rgb(101,101,101)"/>
<circle cx="520.9" cy="208.7" r="4.7" fill="rgb(153,153,153)"/>
<circle cx="535.5" cy="208.3" r="4.7" fill="rgb(108,108,108)"/>
<circle cx="545.5" cy="211.6" r="5.1" fill="rgb(175,175,175)"/>
<circle cx="556.2" cy="210.0" r="5.2" fill="rgb(79,79,79)"/>
<circle cx="571.0" cy="212.0" r="4.4" fill="rgb(88,88,88)"/>
<circle cx="584.2" cy="208.5" r="5.3" fill="rgb(106,106,106)"/>
<circle cx="591.8" cy="209.5" r="4.3" fill="rgb(144,144,144)"/>
<circle cx="605.6" cy="210.5" r="4.8" fill="rgb(127,127,127)"/>
<circle cx="617.6" cy="211.6" r="5.2" fill="rgb(75,75,75)"/>
<circle cx="630.0" cy="211.1" r="5.1" fill="rgb(118,118,118)"/>
<circle cx="641.2" cy="209.2" r="4.9" fill="rgb(88,88,88)"/>
<circle cx="655.0" cy="209.7" r="5.2" fill="rgb(83,83,83)"/>
<circle cx="670.0" cy="208.9" r="4.3" fill="rgb(53,53,53)"/>
<circle cx="682.3" cy="209.1" r="5.3" fill="rgb(86,86,86)"/>
<circle cx="274.4" cy="220.8" r="4.9" fill="rgb(76,76,76)"/>
<circle cx="284.2" cy="222.2" r="4.4" fill="rgb(79,79,79)"/>
<circle cx="298.6" cy="222.2" r="4.4" fill="rgb(170,170,170)"/>
<circle cx="309.7" cy="220.1" r="4.8" fill="rgb(109,109,109)"/>
<circle cx="325.6" cy="219.5" r="4.4" fill="rgb(137,137,137)"/>
<circle cx="336.4" cy="221.3" r="4.8" fill="rgb(108,108,108)"/>
<circle cx="349.7" cy="219.0" r="4.6" fill="rgb(132,132,132)"/>
<circle cx="358.9" cy="220.8" r="5.1" fill="rgb(81,81,81)"/>
<circle cx="372.8" cy="219.6" r="4.4" fill="rgb(48,48,48)"/>
<circle cx="381.7" cy="219.5" r="4.7" fill="rgb(46,46,46)"/>
<circle cx="397.1" cy="220.4" r="5.0" fill="rgb(80,80,80)"/>
<circle cx="409.4" cy="221.0" r="5.1" fill="rgb(101,101,101)"/>
<circle cx="419.7" cy="221.6" r="4.8" fill="rgb(70,70,70)"/>
<circle cx="434.4" cy="221.0" r="5.3" fill="rgb(88,88,88)"/>
<circle cx="448.2" cy="219.6" r="4.4" fill="rgb(181,181,181)"/>
<circle cx="457.1" cy="222.1" r="5.3" fill="rgb(84,84,84)"/>
<circle cx="470.2" cy="221.6" r="4.2" fill="rgb(56,56,56)"/>
<circle cx="481.1" cy="222.4" r="4.9" fill="rgb(62,62,62)"/>
<circle cx="495.5" cy="219.2" r="4.6" fill="rgb(167,167,167)"/>
<circle cx="509.3" cy="219.7" r="5.4" fill="rgb(114,114,114)"/>
<circle cx="517.4" cy="220.1" r="4.5" fill="rgb(94,94,94)"/>
<circle cx="530.8" cy="220.2" r="4.3" fill="rgb(72,72,72)"/>
<circle cx="541.4" cy="220.8" r="4.3" fill="rgb(108,108,108)"/>
<circle cx="550.9" cy="220.3" r="5.0" fill="rgb(139,139,139)"/>
<circle cx="565.5" cy="222.6" r="4.4" fill="rgb(81,81,81)"/>
<circle cx="578.9" cy="222.3" r="4.9" fill="rgb(42,42,42)"/>
<circle cx="589.5" cy="219.6" r="5.3" fill="rgb(124,124,124)"/>
<circle cx="601.7" cy="220.4" r="4.7" fill="rgb(111,111,111)"/>
<circle cx="614.1" cy="220.8" r="4.8" fill="rgb(103,103,103)"/>
<circle cx="626.1" cy="222.0" r="5.2" fill="rgb(155,155,155)"/>
<circle cx="635.3" cy="222.6" r="4.2" fill="rgb(151,151,151)"/>
<circle cx="648.5" cy="222.5" r="5.0" fill="rgb(58,58,58)"/>
<circle cx="660.7" cy="221.5" r="4.9" fill="rgb(85,85,85)"/>
<circle cx="675.2" cy="222.2" r="4.6" fill="rgb(160,160,160)"/>
<circle cx="271.7" cy="9.3" r="3.1" fill="rgb(47,47,47)"/>
<circle cx="312.6" cy="8.8" r="3.0" fill="rgb(38,38,38)"/>
<circle cx="337.3" cy="8.6" r="2.8" fill="rgb(73,73,73)"/>
<circle cx="351.5" cy="9.0" r="2.6" fill="rgb(67,67,67)"/>
<circle cx="379.0" cy="6.4" r="2.9" fill="rgb(56,56,56)"/>
<circle cx="391.8" cy="6.6" r="3.5" fill="rgb(70,70,70)"/>
<circle cx="448.1" cy="8.4" r="3.1" fill="rgb(64,64,64)"/>
<circle cx="527.6" cy="9.3" r="2.8" fill="rgb(32,32,32)"/>
<circle cx="540.1" cy="9.4" r="2.8" fill="rgb(66,66,66)"/>
<circle cx="564.7" cy="10.0" r="3.1" fill="rgb(69,69,69)"/>
<circle cx="595.1" cy="6.5" r="3.3" fill="rgb(71,71,71)"/>
<circle cx="622.8" cy="7.0" r="3.0" fill="rgb(54,54,54)"/>
<circle cx="637.1" cy="7.5" r="3.1" fill="rgb(46,46,46)"/>
<circle cx="679.6" cy="10.2" r="3.2" fill="rgb(37,37,37)"/>
<circle cx="269.5" cy="60.3" r="3.2" fill="rgb(31,31,31)"/>
<circle cx="380.0" cy="61.2" r="3.1" fill="rgb(79,79,79)"/>
<circle cx="408.8" cy="61.1" r="2.8" fill="rgb(53,53,53)"/>
<circle cx="450.3" cy="60.7" r="3.1" fill="rgb(34,34,34)"/>
<circle cx="464.6" cy="60.3" r="3.5" fill="rgb(54,54,54)"/>
<circle cx="499.0" cy="61.6" r="3.1" fill="rgb(80,80,80)"/>
<circle cx="509.8" cy="60.4" r="2.8" fill="rgb(67,67,67)"/>
<circle cx="550.0" cy="63.6" r="2.7" fill="rgb(53,53,53)"/>
<circle cx="565.4" cy="63.1" r="2.7" fill="rgb(35,35,35)"/>
<circle cx="579.8" cy="63.1" r="2.7" fill="rgb(43,43,43)"/>
<circle cx="634.9" cy="62.9" r="2.7" fill="rgb(40,40,40)"/>
<circle cx="681.8" cy="61.0" r="3.6" fill="rgb(61,61,61)"/>
<circle cx="299.4" cy="119.4" r="2.8" fill="rgb(32,32,32)"/>
<circle cx="310.6" cy="117.0" r="2.6" fill="rgb(34,34,34)"/>
<circle cx="336.5" cy="117.9" r="2.8" fill="rgb(37,37,37)"/>
<circle cx="434.2" cy="119.0" r="3.3" fill="rgb(65,65,65)"/>
<circle cx="524.0" cy="117.1" r="3.1" fill="rgb(45,45,45)"/>
<circle cx="534.8" cy="116.5" r="2.9" fill="rgb(66,66,66)"/>
<circle cx="567.8" cy="118.8" r="2.9" fill="rgb(75,75,75)"/>
<circle cx="581.2" cy="119.5" r="3.5" fill="rgb(66,66,66)"/>
<circle cx="591.9" cy="118.0" r="2.9" fill="rgb(32,32,32)"/>
<circle cx="620.0" cy="117.0" r="2.8" fill="rgb(61,61,61)"/>
<circle cx="659.0" cy="119.4" r="2.9" fill="rgb(33,33,33)"/>
<circle cx="671.4" cy="116.7" r="2.7" fill="rgb(74,74,74)"/>
<circle cx="681.6" cy="119.1" r="3.2" fill="rgb(31,31,31)"/>
<circle cx="268.2" cy="174.3" r="2.6" fill="rgb(62,62,62)"/>
<circle cx="291.7" cy="175.6" r="3.5" fill="rgb(33,33,33)"/>
<circle cx="372.5" cy="177.2" r="3.0" fill="rgb(48,48,48)"/>
<circle cx="398.6" cy="176.4" r="3.4" fill="rgb(76,76,76)"/>
<circle cx="448.2" cy="174.7" r="3.3" fill="rgb(74,74,74)"/>
<circle cx="473.5" cy="177.6" r="3.2" fill="rgb(54,54,54)"/>
<circle cx="484.0" cy="175.4" r="3.5" fill="rgb(49,49,49)"/>
<circle cx="509.4" cy="176.5" r="3.5" fill="rgb(74,74,74)"/>
<circle cx="520.8" cy="177.4" r="3.5" fill="rgb(77,77,77)"/>
<circle cx="533.9" cy="177.5" r="3.6" fill="rgb(65,65,65)"/>
<circle cx="583.8" cy="177.3" r="3.4" fill="rgb(66,66,66)"/>
<circle cx="639.9" cy="177.4" r="3.1" fill="rgb(60,60,60)"/>
<circle cx="654.8" cy="177.1" r="3.1" fill="rgb(69,69,69)"/>
<circle cx="268.1" cy="232.1" r="3.0" fill="rgb(37,37,37)"/>
<circle cx="302.5" cy="230.4" r="2.7" fill="rgb(80,80,80)"/>
<circle cx="344.8" cy="230.1" r="3.1" fill="rgb(72,72,72)"/>
<circle cx="359.4" cy="230.9" r="3.5" fill="rgb(36,36,36)"/>
<circle cx="381.8" cy="231.6" r="3.1" fill="rgb(67,67,67)"/>
<circle cx="408.8" cy="232.3" r="3.3" fill="rgb(43,43,43)"/>
<circle cx="421.7" cy="229.3" r="3.6" fill="rgb(78,78,78)"/>
<circle cx="484.1" cy="231.7" r="3.1" fill="rgb(70,70,70)"/>
<circle cx="510.5" cy="229.3" r="2.7" fill="rgb(55,55,55)"/>
<circle cx="555.3" cy="232.8" r="2.8" fill="rgb(52,52,52)"/>
<circle cx="568.5" cy="230.0" r="3.3" fill="rgb(77,77,77)"/>
<circle cx="591.1" cy="233.0" r="3.4" fill="rgb(69,69,69)"/>
<circle cx="679.7" cy="232.0" r="3.5" fill="rgb(52,52,52)"/>
</g>
<g filter="url(#blur3)">
<circle cx="280.5" cy="24.9" r="8" fill="#ffffff"/>
<circle cx="315.6" cy="17.4" r="8" fill="#ffffff"/>
<circle cx="352.8" cy="17.2" r="8" fill="#ffffff"/>
<circle cx="297.4" cy="47.1" r="8" fill="#ffffff"/>
<circle cx="333.1" cy="50.6" r="8" fill="#ffffff"/>
<circle cx="370.6" cy="44.1" r="8" fill="#ffffff"/>
<circle cx="389.8" cy="18.1" r="8" fill="#ffffff"/>
<circle cx="426.7" cy="16.0" r="8" fill="#ffffff"/>
<circle cx="464.8" cy="17.8" r="8" fill="#ffffff"/>
<circle cx="407.9" cy="47.9" r="8" fill="#ffffff"/>
<circle cx="445.9" cy="50.3" r="8" fill="#ffffff"/>
<circle cx="503.3" cy="17.4" r="8" fill="#ffffff"/>
<circle cx="539.7" cy="18.8" r="8" fill="#ffffff"/>
<circle cx="483.6" cy="43.7" r="8" fill="#ffffff"/>
<circle cx="520.1" cy="51.4" r="8" fill="#ffffff"/>
<circle cx="554.6" cy="48.5" r="8" fill="#ffffff"/>
<circle cx="575.3" cy="20.1" r="8" fill="#ffffff"/>
<circle cx="611.4" cy="15.6" r="8" fill="#ffffff"/>
<circle cx="650.2" cy="18.9" r="8" fill="#ffffff"/>
<circle cx="592.5" cy="48.2" r="8" fill="#ffffff"/>
<circle cx="631.1" cy="50.4" r="8" fill="#ffffff"/>
<circle cx="667.0" cy="42.8" r="8" fill="#ffffff"/>
<circle cx="278.1" cy="71.7" r="8" fill="#ffffff"/>
<circle cx="315.0" cy="76.2" r="8" fill="#ffffff"/>
<circle cx="353.8" cy="75.9" r="8" fill="#ffffff"/>
<circle cx="296.0" cy="108.8" r="8" fill="#ffffff"/>
<circle cx="335.0" cy="100.9" r="8" fill="#ffffff"/>
<circle cx="371.5" cy="108.0" r="8" fill="#ffffff"/>
<circle cx="388.9" cy="73.0" r="8" fill="#ffffff"/>
<circle cx="426.9" cy="76.3" r="8" fill="#ffffff"/>
<circle cx="463.2" cy="73.8" r="8" fill="#ffffff"/>
<circle cx="408.4" cy="105.6" r="8" fill="#ffffff"/>
<circle cx="447.1" cy="104.1" r="8" fill="#ffffff"/>
<circle cx="500.2" cy="76.0" r="8" fill="#ffffff"/>
<circle cx="539.7" cy="75.9" r="8" fill="#ffffff"/>
<circle cx="483.2" cy="109.0" r="8" fill="#ffffff"/>
<circle cx="518.4" cy="102.6" r="8" fill="#ffffff"/>
<circle cx="557.4" cy="108.2" r="8" fill="#ffffff"/>
<circle cx="574.4" cy="71.8" r="8" fill="#ffffff"/>
<circle cx="612.6" cy="76.8" r="8" fill="#ffffff"/>
<circle cx="648.9" cy="75.3" r="8" fill="#ffffff"/>
<circle cx="593.6" cy="106.0" r="8" fill="#ffffff"/>
<circle cx="631.5" cy="105.8" r="8" fill="#ffffff"/>
<circle cx="666.0" cy="107.5" r="8" fill="#ffffff"/>
<circle cx="278.9" cy="136.0" r="8" fill="#ffffff"/>
<circle cx="314.9" cy="129.9" r="8" fill="#ffffff"/>
<circle cx="352.8" cy="129.9" r="8" fill="#ffffff"/>
<circle cx="390.7" cy="133.5" r="8" fill="#ffffff"/>
<circle cx="426.5" cy="129.6" r="8" fill="#ffffff"/>
<circle cx="462.9" cy="135.4" r="8" fill="#ffffff"/>
<circle cx="407.9" cy="163.2" r="8" fill="#ffffff"/>
<circle cx="445.6" cy="163.2" r="8" fill="#ffffff"/>
<circle cx="500.1" cy="131.6" r="8" fill="#ffffff"/>
<circle cx="541.6" cy="131.6" r="8" fill="#ffffff"/>
<circle cx="482.6" cy="161.0" r="8" fill="#ffffff"/>
<circle cx="518.2" cy="163.2" r="8" fill="#ffffff"/>
<circle cx="555.0" cy="160.2" r="8" fill="#ffffff"/>
<circle cx="575.0" cy="136.2" r="8" fill="#ffffff"/>
<circle cx="611.6" cy="130.3" r="8" fill="#ffffff"/>
<circle cx="648.5" cy="132.9" r="8" fill="#ffffff"/>
<circle cx="595.0" cy="162.3" r="8" fill="#ffffff"/>
<circle cx="631.9" cy="164.2" r="8" fill="#ffffff"/>
<circle cx="667.6" cy="159.8" r="8" fill="#ffffff"/>
<circle cx="389.5" cy="186.2" r="8" fill="#ffffff"/>
<circle cx="427.1" cy="195.2" r="8" fill="#ffffff"/>
<circle cx="463.4" cy="186.8" r="8" fill="#ffffff"/>
<circle cx="407.8" cy="219.7" r="8" fill="#ffffff"/>
<circle cx="443.4" cy="218.8" r="8" fill="#ffffff"/>
<circle cx="502.8" cy="185.7" r="8" fill="#ffffff"/>
<circle cx="536.7" cy="189.2" r="8" fill="#ffffff"/>
<circle cx="481.1" cy="223.8" r="8" fill="#ffffff"/>
<circle cx="518.1" cy="216.4" r="8" fill="#ffffff"/>
<circle cx="555.4" cy="223.5" r="8" fill="#ffffff"/>
<circle cx="573.8" cy="187.7" r="8" fill="#ffffff"/>
<circle cx="613.2" cy="192.7" r="8" fill="#ffffff"/>
<circle cx="650.4" cy="186.4" r="8" fill="#ffffff"/>
<circle cx="591.2" cy="219.8" r="8" fill="#ffffff"/>
<circle cx="628.1" cy="218.3" r="8" fill="#ffffff"/>
<circle cx="667.2" cy="222.5" r="8" fill="#ffffff"/>
</g>
<g filter="url(#blur2)">
<circle cx="280.5" cy="24.9" r="4.5" fill="#ffffff"/>
<circle cx="315.6" cy="17.4" r="4.5" fill="#ffffff"/>
<circle cx="352.8" cy="17.2" r="4.5" fill="#ffffff"/>
<circle cx="297.4" cy="47.1" r="4.5" fill="#ffffff"/>
<circle cx="333.1" cy="50.6" r="4.5" fill="#ffffff"/>
<circle cx="370.6" cy="44.1" r="4.5" fill="#ffffff"/>
<circle cx="389.8" cy="18.1" r="4.5" fill="#ffffff"/>
<circle cx="426.7" cy="16.0" r="4.5" fill="#ffffff"/>
<circle cx="464.8" cy="17.8" r="4.5" fill="#ffffff"/>
<circle cx="407.9" cy="47.9" r="4.5" fill="#ffffff"/>
<circle cx="445.9" cy="50.3" r="4.5" fill="#ffffff"/>
<circle cx="503.3" cy="17.4" r="4.5" fill="#ffffff"/>
<circle cx="539.7" cy="18.8" r="4.5" fill="#ffffff"/>
<circle cx="483.6" cy="43.7" r="4.5" fill="#ffffff"/>
<circle cx="520.1" cy="51.4" r="4.5" fill="#ffffff"/>
<circle cx="554.6" cy="48.5" r="4.5" fill="#ffffff"/>
<circle cx="575.3" cy="20.1" r="4.5" fill="#ffffff"/>
<circle cx="611.4" cy="15.6" r="4.5" fill="#ffffff"/>
<circle cx="650.2" cy="18.9" r="4.5" fill="#ffffff"/>
<circle cx="592.5" cy="48.2" r="4.5" fill="#ffffff"/>
<circle cx="631.1" cy="50.4" r="4.5" fill="#ffffff"/>
<circle cx="667.0" cy="42.8" r="4.5" fill="#ffffff"/>
<circle cx="278.1" cy="71.7" r="4.5" fill="#ffffff"/>
<circle cx="315.0" cy="76.2" r="4.5" fill="#ffffff"/>
<circle cx="353.8" cy="75.9" r="4.5" fill="#ffffff"/>
<circle cx="296.0" cy="108.8" r="4.5" fill="#ffffff"/>
<circle cx="335.0" cy="100.9" r="4.5" fill="#ffffff"/>
<circle cx="371.5" cy="108.0" r="4.5" fill="#ffffff"/>
<circle cx="388.9" cy="73.0" r="4.5" fill="#ffffff"/>
<circle cx="426.9" cy="76.3" r="4.5" fill="#ffffff"/>
<circle cx="463.2" cy="73.8" r="4.5" fill="#ffffff"/>
<circle cx="408.4" cy="105.6" r="4.5" fill="#ffffff"/>
<circle cx="447.1" cy="104.1" r="4.5" fill="#ffffff"/>
<circle cx="500.2" cy="76.0" r="4.5" fill="#ffffff"/>
<circle cx="539.7" cy="75.9" r="4.5" fill="#ffffff"/>
<circle cx="483.2" cy="109.0" r="4.5" fill="#ffffff"/>
<circle cx="518.4" cy="102.6" r="4.5" fill="#ffffff"/>
<circle cx="557.4" cy="108.2" r="4.5" fill="#ffffff"/>
<circle cx="574.4" cy="71.8" r="4.5" fill="#ffffff"/>
<circle cx="612.6" cy="76.8" r="4.5" fill="#ffffff"/>
<circle cx="648.9" cy="75.3" r="4.5" fill="#ffffff"/>
<circle cx="593.6" cy="106.0" r="4.5" fill="#ffffff"/>
<circle cx="631.5" cy="105.8" r="4.5" fill="#ffffff"/>
<circle cx="666.0" cy="107.5" r="4.5" fill="#ffffff"/>
<circle cx="278.9" cy="136.0" r="4.5" fill="#ffffff"/>
<circle cx="314.9" cy="129.9" r="4.5" fill="#ffffff"/>
<circle cx="352.8" cy="129.9" r="4.5" fill="#ffffff"/>
<circle cx="390.7" cy="133.5" r="4.5" fill="#ffffff"/>
<circle cx="426.5" cy="129.6" r="4.5" fill="#ffffff"/>
<circle cx="462.9" cy="135.4" r="4.5" fill="#ffffff"/>
<circle cx="407.9" cy="163.2" r="4.5" fill="#ffffff"/>
<circle cx="445.6" cy="163.2" r="4.5" fill="#ffffff"/>
<circle cx="500.1" cy="131.6" r="4.5" fill="#ffffff"/>
<circle cx="541.6" cy="131.6" r="4.5" fill="#ffffff"/>
<circle cx="482.6" cy="161.0" r="4.5" fill="#ffffff"/>
<circle cx="518.2" cy="163.2" r="4.5" fill="#ffffff"/>
<circle cx="555.0" cy="160.2" r="4.5" fill="#ffffff"/>
<circle cx="575.0" cy="136.2" r="4.5" fill="#ffffff"/>
<circle cx="611.6" cy="130.3" r="4.5" fill="#ffffff"/>
<circle cx="648.5" cy="132.9" r="4.5" fill="#ffffff"/>
<circle cx="595.0" cy="162.3" r="4.5" fill="#ffffff"/>
<circle cx="631.9" cy="164.2" r="4.5" fill="#ffffff"/>
<circle cx="667.6" cy="159.8" r="4.5" fill="#ffffff"/>
<circle cx="389.5" cy="186.2" r="4.5" fill="#ffffff"/>
<circle cx="427.1" cy="195.2" r="4.5" fill="#ffffff"/>
<circle cx="463.4" cy="186.8" r="4.5" fill="#ffffff"/>
<circle cx="407.8" cy="219.7" r="4.5" fill="#ffffff"/>
<circle cx="443.4" cy="218.8" r="4.5" fill="#ffffff"/>
<circle cx="502.8" cy="185.7" r="4.5" fill="#ffffff"/>
<circle cx="536.7" cy="189.2" r="4.5" fill="#ffffff"/>
<circle cx="481.1" cy="223.8" r="4.5" fill="#ffffff"/>
<circle cx="518.1" cy="216.4" r="4.5" fill="#ffffff"/>
<circle cx="555.4" cy="223.5" r="4.5" fill="#ffffff"/>
<circle cx="573.8" cy="187.7" r="4.5" fill="#ffffff"/>
<circle cx="613.2" cy="192.7" r="4.5" fill="#ffffff"/>
<circle cx="650.4" cy="186.4" r="4.5" fill="#ffffff"/>
<circle cx="591.2" cy="219.8" r="4.5" fill="#ffffff"/>
<circle cx="628.1" cy="218.3" r="4.5" fill="#ffffff"/>
<circle cx="667.2" cy="222.5" r="4.5" fill="#ffffff"/>
</g>
<path d="M268,14.5H277M313,14.5H357M388,14.5H464.6M498.7,14.5H541.6M572.6,14.5H649M297,53.7H373M406.4,53.7H444.7M480.3,53.7H560M592.7,53.7H631.3M665.7,53.7H680M277,18.4L268,38.3M313,16.5L297,52.7M357,16.5L371,52.7M390,16.5L406.4,52.7M464.6,16.5L446,52.7M496,16.5L480.3,52.7M541.6,16.5L557,52.7M573.4,16.5L592.7,52.7M649,16.5L631.3,52.7M679,24.3L667.4,50.4M268,70.3H354M385,70.3H464.6M506,70.3H537M575,70.3H650.6M297,109.3H371M408.7,109.3H446.2M483.4,109.3H557M594.4,109.3H633.8M667.4,109.3H680M276,78L268,97M314,72.3L297,108.3M354.6,72.3L370.7,108.3M391,72.3L406.4,108.3M461.6,72.3L446.2,108.3M494.9,72.3L483.4,108.3M541.6,72.3L555.4,108.3M575,72.3L594.4,108.3M649,72.3L632,108.3M680,85L665.7,107M268,127.3H357M392.6,127.3H463M501,127.3H538.6M570,127.3H650.6M406.4,166.0H447.8M483.4,166.0H553.9M591.9,166.0H633.8M664,166.0H680M313,134L308.6,142.5M356,132.5L361.5,142.5M392.6,129.3L406.4,165.0M460,129.3L447.8,165.0M498,129.3L483.4,165.0M541.6,129.3L553.9,165.0M576.8,129.3L591.9,165.0M648,129.3L633.8,165.0M680,140L670,160M387,186.5H465.4M504.5,186.5H536M572.6,186.5H650.6M408,225.2H446.3M483.8,225.2H555.8M592.7,225.2H680M390.3,188.5L408,224.2M460.8,188.5L446.3,224.2M496.8,188.5L483.8,224.2M539.7,188.5L555.8,224.2M575,188.5L591.9,224.2M648,196L637.2,215.4M680,201L670,218.7" fill="none" stroke="#b8b8b8" stroke-opacity="0.75" stroke-width="1"/>
<path d="M398,108 C410,107.5 425,108.5 440,104 C455,98 468,86 483,76 C495,68 508,65 519,65 C531,65 545,69 560,79 C575,90 592,104 608,106.5 C622,108 636,102 650,92 C662,84 672,78 684,73" fill="none" stroke="#dcdcdc" stroke-opacity="0.32" stroke-width="9"/>
<path d="M388,131 C398,126 412,121 426,119.5 C436,118.5 446,119 456,124 C470,132 484,146 500,156 C512,163 522,165.5 532,165.5 C544,165 556,157 568,147 C582,136 596,126 612,123.5 C626,122 640,127 652,136 C664,145 674,152 684,157" fill="none" stroke="#dcdcdc" stroke-opacity="0.32" stroke-width="9"/>
<polygon points="281.0,34.5 274.2,15.6 278.0,15.4 277.5,6.4 281.5,6.2 282.0,15.2 285.8,15.0" fill="#3c3cff" fill-opacity="0.85"/>
<polygon points="316.7,12.3 317.9,23.2 311.1,21.8" fill="#f23a48" fill-opacity="0.85"/>
<polygon points="348.5,16.9 357.2,14.6 356.8,20.6" fill="#f23a48" fill-opacity="0.85"/>
<polygon points="299.4,41.4 298.8,53.9 292.2,51.7" fill="#f23a48" fill-opacity="0.85"/>
<polygon points="332.4,58.2 329.3,42.5 331.6,42.8 332.0,39.3 336.5,39.7 336.2,43.2 338.5,43.5" fill="#3c3cff" fill-opacity="0.85"/>
<polygon points="369.6,35.3 376.5,52.4 373.8,52.7 374.4,57.9 369.8,58.4 369.2,53.1 366.5,53.4" fill="#f23a48" fill-opacity="0.85"/>
<polygon points="386.5,14.6 395.5,19.1 390.5,23.9" fill="#3c3cff" fill-opacity="0.85"/>
<polygon points="424.8,10.0 432.4,20.8 424.8,23.2" fill="#f23a48" fill-opacity="0.85"/>
<polygon points="463.0,23.0 463.2,11.5 469.8,13.7" fill="#3c3cff" fill-opacity="0.85"/>
<polygon points="404.9,47.5 411.2,44.5 410.4,51.9" fill="#3c3cff" fill-opacity="0.85"/>
<polygon points="444.7,53.6 444.2,46.0 449.8,48.0" fill="#3c3cff" fill-opacity="0.85"/>
<polygon points="506.4,9.2 505.8,27.8 494.6,23.6" fill="#f23a48" fill-opacity="0.85"/>
<polygon points="540.9,21.5 534.4,17.9 542.6,14.3" fill="#f23a48" fill-opacity="0.85"/>
<polygon points="484.2,34.5 488.7,53.3 486.0,53.1 485.6,59.1 479.6,58.7 480.0,52.7 477.3,52.5" fill="#f23a48" fill-opacity="0.85"/>
<polygon points="521.7,58.2 513.6,45.6 516.6,45.0 515.6,41.1 519.5,40.1 520.4,44.0 523.4,43.4" fill="#3c3cff" fill-opacity="0.85"/>
<polygon points="550.8,41.4 562.9,53.1 554.1,57.9" fill="#f23a48" fill-opacity="0.85"/>
<polygon points="576.8,26.0 570.1,15.1 577.5,13.3" fill="#3c3cff" fill-opacity="0.85"/>
<polygon points="612.0,7.6 616.2,23.9 613.7,23.7 613.1,31.2 607.1,30.7 607.7,23.3 605.2,23.1" fill="#f23a48" fill-opacity="0.85"/>
<polygon points="648.1,25.2 647.6,11.0 657.0,14.2" fill="#3c3cff" fill-opacity="0.85"/>
<polygon points="589.3,47.8 596.0,45.3 595.2,51.9" fill="#3c3cff" fill-opacity="0.85"/>
<polygon points="630.5,53.7 628.7,46.5 634.7,47.5" fill="#3c3cff" fill-opacity="0.85"/>
<polygon points="667.4,35.3 672.3,50.7 669.5,50.6 668.9,60.2 662.9,59.8 663.5,50.2 660.7,50.1" fill="#f23a48" fill-opacity="0.85"/>
<polygon points="274.9,63.4 286.1,78.2 283.3,79.3 284.2,81.7 280.5,83.2 279.5,80.7 276.7,81.8" fill="#f23a48" fill-opacity="0.85"/>
<polygon points="314.0,81.0 312.6,70.7 319.4,72.1" fill="#3c3cff" fill-opacity="0.85"/>
<polygon points="358.4,76.5 348.7,78.8 349.7,71.8" fill="#3c3cff" fill-opacity="0.85"/>
<polygon points="294.0,114.0 293.7,102.0 302.3,105.4" fill="#3c3cff" fill-opacity="0.85"/>
<polygon points="335.4,93.3 339.9,108.9 337.6,108.8 337.3,115.1 331.3,114.8 331.6,108.4 329.3,108.3" fill="#f23a48" fill-opacity="0.85"/>
<polygon points="371.0,115.0 366.3,100.6 369.4,100.8 369.6,97.8 374.9,98.2 374.6,101.2 377.7,101.4" fill="#3c3cff" fill-opacity="0.85"/>
<polygon points="384.2,68.0 396.6,75.2 390.8,80.8" fill="#f23a48" fill-opacity="0.85"/>
<polygon points="427.8,82.6 421.1,70.7 430.9,69.3" fill="#3c3cff" fill-opacity="0.85"/>
<polygon points="464.6,68.8 465.8,79.8 457.8,77.6" fill="#f23a48" fill-opacity="0.85"/>
<polygon points="407.0,98.7 413.9,111.7 405.7,113.3" fill="#f23a48" fill-opacity="0.85"/>
<polygon points="448.5,100.2 448.3,108.9 443.1,107.1" fill="#f23a48" fill-opacity="0.85"/>
<polygon points="497.2,81.8 498.4,67.7 508.2,72.9" fill="#3c3cff" fill-opacity="0.85"/>
<polygon points="542.4,81.8 534.3,71.2 539.7,68.8" fill="#3c3cff" fill-opacity="0.85"/>
<polygon points="483.4,114.8 478.8,103.4 487.2,103.2" fill="#3c3cff" fill-opacity="0.85"/>
<polygon points="516.3,94.9 525.3,108.9 523.4,109.4 525.5,117.1 519.7,118.7 517.6,111.0 515.7,111.5" fill="#f23a48" fill-opacity="0.85"/>
<polygon points="560.8,114.0 549.7,105.0 558.3,100.0" fill="#3c3cff" fill-opacity="0.85"/>
<polygon points="574.2,63.4 580.0,80.1 577.1,80.1 577.2,84.3 572.2,84.5 572.1,80.3 569.2,80.3" fill="#f23a48" fill-opacity="0.85"/>
<polygon points="612.8,85.2 607.1,68.5 617.9,68.3" fill="#3c3cff" fill-opacity="0.85"/>
<polygon points="650.6,68.4 651.3,83.3 643.1,81.3" fill="#f23a48" fill-opacity="0.85"/>
<polygon points="591.9,102.8 598.4,107.6 592.2,110.8" fill="#f23a48" fill-opacity="0.85"/>
<polygon points="632.1,98.6 633.8,113.2 628.0,112.8" fill="#f23a48" fill-opacity="0.85"/>
<polygon points="666.6,113.0 660.8,102.5 670.0,101.5" fill="#3c3cff" fill-opacity="0.85"/>
<polygon points="278.7,142.5 275.0,129.4 276.8,129.4 277.0,123.4 281.6,123.6 281.4,129.6 283.2,129.6" fill="#3c3cff" fill-opacity="0.85"/>
<polygon points="315.5,124.9 318.6,135.3 310.0,134.3" fill="#f23a48" fill-opacity="0.85"/>
<polygon points="348.5,129.5 357.2,128.1 356.8,132.5" fill="#f23a48" fill-opacity="0.85"/>
<polygon points="393.4,140.2 383.7,128.5 392.3,125.1" fill="#3c3cff" fill-opacity="0.85"/>
<polygon points="425.5,122.6 432.5,136.0 422.5,137.4" fill="#f23a48" fill-opacity="0.85"/>
<polygon points="461.6,144.0 459.3,126.1 461.9,126.4 462.5,122.5 467.1,123.2 466.5,127.2 469.1,127.5" fill="#3c3cff" fill-opacity="0.85"/>
<polygon points="408.7,168.0 404.0,159.0 410.2,158.0" fill="#3c3cff" fill-opacity="0.85"/>
<polygon points="443.2,165.5 446.4,159.0 449.8,162.6" fill="#3c3cff" fill-opacity="0.85"/>
<polygon points="496.4,131.0 504.5,128.1 503.1,136.3" fill="#f23a48" fill-opacity="0.85"/>
<polygon points="545.5,131.8 537.4,136.4 538.0,126.4" fill="#f23a48" fill-opacity="0.85"/>
<polygon points="482.6,154.0 488.0,168.0 477.2,168.0" fill="#f23a48" fill-opacity="0.85"/>
<polygon points="518.6,168.0 512.5,158.9 523.1,158.1" fill="#3c3cff" fill-opacity="0.85"/>
<polygon points="550.8,154.0 562.5,164.0 555.9,168.6" fill="#f23a48" fill-opacity="0.85"/>
<polygon points="575.9,144.0 570.0,129.0 572.1,128.7 571.6,124.8 575.9,124.3 576.3,128.3 578.4,128.0" fill="#3c3cff" fill-opacity="0.85"/>
<polygon points="611.2,120.6 618.0,139.8 606.0,140.2" fill="#f23a48" fill-opacity="0.85"/>
<polygon points="647.3,140.7 644.8,124.4 654.6,126.0" fill="#3c3cff" fill-opacity="0.85"/>
<polygon points="598.6,162.6 591.2,165.0 591.8,159.0" fill="#3c3cff" fill-opacity="0.85"/>
<polygon points="631.3,168.0 628.8,159.9 636.2,161.1" fill="#3c3cff" fill-opacity="0.85"/>
<polygon points="667.4,151.6 673.3,167.9 662.3,168.1" fill="#f23a48" fill-opacity="0.85"/>
<polygon points="385.7,180.0 397.7,189.9 389.1,195.1" fill="#f23a48" fill-opacity="0.85"/>
<polygon points="427.1,203.7 421.0,186.8 423.9,186.8 423.9,179.0 430.3,179.0 430.3,186.8 433.2,186.8" fill="#3c3cff" fill-opacity="0.85"/>
<polygon points="464.7,180.0 466.1,194.5 457.9,192.9" fill="#f23a48" fill-opacity="0.85"/>
<polygon points="405.7,216.0 412.7,221.7 407.1,224.9" fill="#f23a48" fill-opacity="0.85"/>
<polygon points="440.1,219.0 446.4,214.5 446.8,222.9" fill="#f23a48" fill-opacity="0.85"/>
<polygon points="506.8,185.0 499.6,191.7 497.8,181.1" fill="#3c3cff" fill-opacity="0.85"/>
<polygon points="533.6,188.8 540.0,186.5 539.4,192.5" fill="#3c3cff" fill-opacity="0.85"/>
<polygon points="481.5,232.4 475.4,215.4 486.0,215.0" fill="#3c3cff" fill-opacity="0.85"/>
<polygon points="514.5,207.9 525.8,223.3 524.0,224.0 526.3,229.6 521.7,231.5 519.4,226.0 517.6,226.7" fill="#f23a48" fill-opacity="0.85"/>
<polygon points="558.1,231.0 547.5,217.9 557.9,214.1" fill="#3c3cff" fill-opacity="0.85"/>
<polygon points="573.4,179.3 579.2,195.8 577.1,195.9 577.4,200.2 571.5,200.4 571.3,196.1 569.2,196.2" fill="#f23a48" fill-opacity="0.85"/>
<polygon points="613.7,201.0 607.0,184.6 609.9,184.5 609.5,178.5 615.4,178.1 615.7,184.1 618.6,184.0" fill="#3c3cff" fill-opacity="0.85"/>
<polygon points="650.6,181.0 654.0,192.0 652.2,192.0 652.1,196.0 648.1,195.8 648.2,191.8 646.4,191.8" fill="#f23a48" fill-opacity="0.85"/>
<polygon points="587.7,219.6 595.0,217.0 594.6,223.0" fill="#f23a48" fill-opacity="0.85"/>
<polygon points="628.8,208.6 633.0,228.4 622.0,227.6" fill="#f23a48" fill-opacity="0.85"/>
<polygon points="666.6,229.6 664.0,215.1 666.2,215.3 666.7,208.5 670.0,208.8 669.4,215.5 671.6,215.7" fill="#3c3cff" fill-opacity="0.85"/>
<rect x="290.4" y="63.6" width="37" height="54" fill="none" stroke="#e0e0e0" stroke-width="1.9"/>
<rect x="429.4" y="59.2" width="185.5" height="114.3" fill="none" stroke="#e4e4e4" stroke-width="1.6"/>
<text x="521.5" y="45.8" class="wl">5a</text>
<text x="622" y="127.3" class="wl">2c</text>
<text x="632.5" y="226.3" class="wl">5 Å</text>
<rect x="618.7" y="229.6" width="58" height="4.2" fill="#fff"/>
<rect x="268" y="143" width="114.5" height="96" fill="#fff"/>
<rect x="268" y="145.5" width="112" height="93" fill="#000"/>
<text transform="translate(287.6,225.6) rotate(-90)" class="il">Δx (pm)</text>
<text x="303.6" y="205" class="in">3</text>
<text x="321" y="193.2" class="in">6</text>
<text x="340.2" y="175.8" class="in">9</text>
<text x="358.3" y="162.1" class="in">13</text>
<polygon points="308.7,210.6 311.9,218.8 305.5,218.8" fill="#e8231c"/>
<polygon points="308.7,228.2 311.9,219.8 305.5,219.8" fill="#3b1cff"/>
<polygon points="325.6,196.8 330.20000000000005,211.5 321.0,211.5" fill="#e8231c"/>
<polygon points="325.6,228.2 330.20000000000005,214.2 321.0,214.2" fill="#3b1cff"/>
<polygon points="345.7,180.4 351.65,196.8 348.4,196.8 348.4,204.6 343.0,204.6 343.0,196.8 339.75,196.8" fill="#e8231c"/>
<polygon points="345.7,228.2 351.65,211.5 348.4,211.5 348.4,204.6 343.0,204.6 343.0,211.5 339.75,211.5" fill="#3b1cff"/>
<polygon points="367.6,166.7 373.85,185.9 370.35,185.9 370.35,198.3 364.85,198.3 364.85,185.9 361.35,185.9" fill="#e8231c"/>
<polygon points="367.6,228.8 373.85,208.7 370.35,208.7 370.35,198.3 364.85,198.3 364.85,208.7 361.35,208.7" fill="#3b1cff"/>
</g>
<rect x="269.2" y="3.2" width="409.6" height="232.6" fill="none" stroke="#000" stroke-width="2.6"/>
<text x="13" y="258.5" class="lab">c</text>
<line x1="78.5" y1="267" x2="78.5" y2="508" stroke="#9a9a9a" stroke-width="1.3"/>
<line x1="109.5" y1="267" x2="109.5" y2="508" stroke="#9a9a9a" stroke-width="1.3"/>
<line x1="150.4" y1="267" x2="150.4" y2="508" stroke="#9a9a9a" stroke-width="1.3"/>
<line x1="181" y1="267" x2="181" y2="508" stroke="#9a9a9a" stroke-width="1.3"/>
<line x1="199.6" y1="267" x2="199.6" y2="508" stroke="#9a9a9a" stroke-width="1.3"/>
<line x1="239.5" y1="267" x2="239.5" y2="508" stroke="#9a9a9a" stroke-width="1.3"/>
<line x1="269.6" y1="267" x2="269.6" y2="508" stroke="#9a9a9a" stroke-width="1.3"/>
<line x1="310" y1="267" x2="310" y2="508" stroke="#9a9a9a" stroke-width="1.3"/>
<line x1="39" y1="388.4" x2="340.5" y2="388.4" stroke="#444" stroke-width="1"/>
<g clip-path="url(#clipc)">
<path d="M39.4,275.0C39.8,274.2 41.1,271.7 42.0,270.5C42.9,269.3 44.1,268.7 45.0,268.0C45.9,267.3 47.1,266.8 47.5,266.5" fill="none" stroke="#1c1cff" stroke-width="3.50" stroke-linecap="round" stroke-linejoin="round"/>
<path d="M79.0,289.0C79.8,288.8 82.3,287.4 83.8,287.6C85.3,287.8 86.4,288.6 88.0,290.0C89.6,291.4 91.3,293.2 93.5,296.0C95.7,298.8 99.0,303.8 101.0,307.0C103.0,310.2 104.1,313.2 105.5,315.0C106.9,316.8 108.2,318.3 109.4,318.0C110.7,317.7 111.6,316.0 113.0,313.0C114.4,310.0 116.5,304.7 118.0,300.0C119.5,295.3 120.8,289.5 122.0,285.0C123.2,280.5 124.2,276.0 125.0,273.0C125.8,270.0 126.2,268.0 126.5,267.0" fill="none" stroke="#bfcd3c" stroke-width="5.38" stroke-linecap="round" stroke-linejoin="round"/>
<path d="M79.0,289.0C79.8,288.8 82.3,287.4 83.8,287.6C85.3,287.8 86.4,288.6 88.0,290.0C89.6,291.4 91.3,293.2 93.5,296.0C95.7,298.8 99.0,303.8 101.0,307.0C103.0,310.2 104.1,313.2 105.5,315.0C106.9,316.8 108.2,318.3 109.4,318.0C110.7,317.7 111.6,316.0 113.0,313.0C114.4,310.0 116.5,304.7 118.0,300.0C119.5,295.3 120.8,289.5 122.0,285.0C123.2,280.5 124.2,276.0 125.0,273.0C125.8,270.0 126.2,268.0 126.5,267.0" fill="none" stroke="#bfcd3c" stroke-width="6.72" stroke-linecap="round" stroke-dasharray="0 2.8"/>
<path d="M39.6,285.0C40.0,287.0 41.1,292.3 42.0,297.0C42.9,301.7 44.1,308.3 45.0,313.0C45.9,317.7 46.9,322.2 47.5,325.0C48.1,327.8 48.6,328.8 48.8,329.5" fill="none" stroke="#ff1c1c" stroke-width="6.27" stroke-linecap="round" stroke-linejoin="round"/>
<path d="M39.6,285.0C40.0,287.0 41.1,292.3 42.0,297.0C42.9,301.7 44.1,308.3 45.0,313.0C45.9,317.7 46.9,322.2 47.5,325.0C48.1,327.8 48.6,328.8 48.8,329.5" fill="none" stroke="#ff1c1c" stroke-width="7.84" stroke-linecap="round" stroke-dasharray="0 2.8"/>
<path d="M48.8,329.5C49.3,329.1 51.0,328.1 52.0,327.0C53.0,325.9 53.6,325.4 55.1,322.8C56.6,320.2 59.1,314.8 60.8,311.4C62.5,308.0 64.6,303.8 65.4,302.3" fill="none" stroke="#bfcd3c" stroke-width="2.50" stroke-linecap="round" stroke-linejoin="round"/>
<path d="M65.4,302.3C66.2,300.6 68.6,294.9 70.0,292.0C71.4,289.1 72.9,286.2 74.0,285.2C75.1,284.2 75.7,285.4 76.5,286.0C77.3,286.6 78.6,288.5 79.0,289.0" fill="none" stroke="#bfcd3c" stroke-width="5.38" stroke-linecap="round" stroke-linejoin="round"/>
<path d="M65.4,302.3C66.2,300.6 68.6,294.9 70.0,292.0C71.4,289.1 72.9,286.2 74.0,285.2C75.1,284.2 75.7,285.4 76.5,286.0C77.3,286.6 78.6,288.5 79.0,289.0" fill="none" stroke="#bfcd3c" stroke-width="6.72" stroke-linecap="round" stroke-dasharray="0 2.8"/>
<path d="M40.0,328.0C40.6,331.7 42.2,341.3 43.5,350.0C44.8,358.7 46.2,371.7 47.6,380.0C49.0,388.3 50.3,393.7 52.0,400.0C53.7,406.3 56.7,414.8 57.6,417.7" fill="none" stroke="#ff1c1c" stroke-width="6.27" stroke-linecap="round" stroke-linejoin="round"/>
<path d="M40.0,328.0C40.6,331.7 42.2,341.3 43.5,350.0C44.8,358.7 46.2,371.7 47.6,380.0C49.0,388.3 50.3,393.7 52.0,400.0C53.7,406.3 56.7,414.8 57.6,417.7" fill="none" stroke="#ff1c1c" stroke-width="7.84" stroke-linecap="round" stroke-dasharray="0 2.8"/>
<path d="M57.6,417.7C58.2,419.6 59.7,425.6 61.0,429.0C62.3,432.4 63.7,435.8 65.2,437.9C66.7,440.0 68.7,441.6 70.2,441.6C71.7,441.6 73.0,439.9 74.0,438.0C75.0,436.1 75.7,431.8 76.5,430.0C77.3,428.2 78.6,427.5 79.0,427.0" fill="none" stroke="#ff1c1c" stroke-width="3.00" stroke-linecap="round" stroke-linejoin="round"/>
<path d="M40.0,337.0C40.8,337.3 43.8,337.8 45.0,339.0C46.2,340.2 46.3,340.5 47.0,344.0C47.7,347.5 48.7,354.0 49.4,360.0C50.1,366.0 50.5,373.3 51.4,380.0C52.3,386.7 53.9,394.2 55.0,400.0C56.1,405.8 57.0,410.8 58.0,415.0C59.0,419.2 60.2,423.3 60.7,425.0" fill="none" stroke="#ff1c1c" stroke-width="5.38" stroke-linecap="round" stroke-linejoin="round"/>
<path d="M40.0,337.0C40.8,337.3 43.8,337.8 45.0,339.0C46.2,340.2 46.3,340.5 47.0,344.0C47.7,347.5 48.7,354.0 49.4,360.0C50.1,366.0 50.5,373.3 51.4,380.0C52.3,386.7 53.9,394.2 55.0,400.0C56.1,405.8 57.0,410.8 58.0,415.0C59.0,419.2 60.2,423.3 60.7,425.0" fill="none" stroke="#ff1c1c" stroke-width="6.72" stroke-linecap="round" stroke-dasharray="0 2.8"/>
<path d="M60.7,425.0C61.0,426.5 61.5,430.2 62.3,434.0C63.1,437.8 64.5,444.8 65.5,448.0C66.5,451.2 67.2,451.8 68.0,453.0C68.8,454.2 68.7,454.5 70.4,455.0C72.2,455.5 77.2,455.7 78.5,455.8" fill="none" stroke="#ff1c1c" stroke-width="2.00" stroke-linecap="round" stroke-linejoin="round"/>
<path d="M40.0,378.0C41.4,377.0 45.2,374.1 48.3,372.0C51.4,369.9 55.6,366.6 58.6,365.3C61.6,364.0 63.9,364.1 66.0,364.0C68.1,363.9 69.7,364.1 71.0,364.6C72.3,365.1 73.0,365.9 74.0,367.0C75.0,368.1 76.2,370.1 77.0,371.0C77.8,371.9 78.7,372.2 79.0,372.5" fill="none" stroke="#1c1cff" stroke-width="6.27" stroke-linecap="round" stroke-linejoin="round"/>
<path d="M40.0,378.0C41.4,377.0 45.2,374.1 48.3,372.0C51.4,369.9 55.6,366.6 58.6,365.3C61.6,364.0 63.9,364.1 66.0,364.0C68.1,363.9 69.7,364.1 71.0,364.6C72.3,365.1 73.0,365.9 74.0,367.0C75.0,368.1 76.2,370.1 77.0,371.0C77.8,371.9 78.7,372.2 79.0,372.5" fill="none" stroke="#1c1cff" stroke-width="7.84" stroke-linecap="round" stroke-dasharray="0 2.8"/>
<path d="M54.0,421.3C54.8,420.0 56.7,416.9 58.6,413.3C60.5,409.7 63.1,404.5 65.4,399.6C67.7,394.7 70.5,387.9 72.3,384.0C74.1,380.1 74.9,377.9 76.0,376.0C77.1,374.1 78.5,373.1 79.0,372.5" fill="none" stroke="#1c1cff" stroke-width="5.38" stroke-linecap="round" stroke-linejoin="round"/>
<path d="M54.0,421.3C54.8,420.0 56.7,416.9 58.6,413.3C60.5,409.7 63.1,404.5 65.4,399.6C67.7,394.7 70.5,387.9 72.3,384.0C74.1,380.1 74.9,377.9 76.0,376.0C77.1,374.1 78.5,373.1 79.0,372.5" fill="none" stroke="#1c1cff" stroke-width="6.72" stroke-linecap="round" stroke-dasharray="0 2.8"/>
<path d="M79.0,372.5C79.3,372.2 79.8,369.6 81.0,371.0C82.2,372.4 84.3,376.2 86.0,380.7C87.7,385.2 89.4,391.3 91.1,397.9C92.8,404.5 94.8,414.3 96.3,420.1C97.8,425.9 99.0,430.0 100.4,432.8C101.9,435.6 103.5,436.1 105.0,437.0C106.5,437.9 108.7,438.2 109.4,438.5" fill="none" stroke="#1c1cff" stroke-width="6.27" stroke-linecap="round" stroke-linejoin="round"/>
<path d="M79.0,372.5C79.3,372.2 79.8,369.6 81.0,371.0C82.2,372.4 84.3,376.2 86.0,380.7C87.7,385.2 89.4,391.3 91.1,397.9C92.8,404.5 94.8,414.3 96.3,420.1C97.8,425.9 99.0,430.0 100.4,432.8C101.9,435.6 103.5,436.1 105.0,437.0C106.5,437.9 108.7,438.2 109.4,438.5" fill="none" stroke="#1c1cff" stroke-width="7.84" stroke-linecap="round" stroke-dasharray="0 2.8"/>
<path d="M40.0,414.0C41.1,413.6 44.6,412.4 46.6,411.6C48.6,410.8 50.3,410.1 51.7,409.0C53.1,407.9 53.9,406.9 55.1,404.7C56.3,402.5 57.6,398.3 59.0,396.0C60.4,393.7 62.4,391.7 63.7,391.0C65.0,390.3 65.8,390.9 67.0,392.0C68.2,393.1 69.4,394.6 70.6,397.9C71.8,401.2 72.9,407.9 74.0,411.6C75.1,415.3 76.6,417.4 77.4,420.0C78.2,422.6 78.7,425.8 79.0,427.0" fill="none" stroke="#bfcd3c" stroke-width="5.38" stroke-linecap="round" stroke-linejoin="round"/>
<path d="M40.0,414.0C41.1,413.6 44.6,412.4 46.6,411.6C48.6,410.8 50.3,410.1 51.7,409.0C53.1,407.9 53.9,406.9 55.1,404.7C56.3,402.5 57.6,398.3 59.0,396.0C60.4,393.7 62.4,391.7 63.7,391.0C65.0,390.3 65.8,390.9 67.0,392.0C68.2,393.1 69.4,394.6 70.6,397.9C71.8,401.2 72.9,407.9 74.0,411.6C75.1,415.3 76.6,417.4 77.4,420.0C78.2,422.6 78.7,425.8 79.0,427.0" fill="none" stroke="#bfcd3c" stroke-width="6.72" stroke-linecap="round" stroke-dasharray="0 2.8"/>
<path d="M79.0,427.0C80.0,427.1 83.5,427.4 85.3,427.5C87.1,427.6 87.6,427.1 90.0,427.5C92.4,427.9 96.8,428.7 99.5,429.9C102.2,431.1 104.3,433.4 106.0,434.7C107.7,436.0 108.0,437.9 109.4,437.5C110.8,437.1 112.6,433.2 114.5,432.3C116.4,431.4 119.4,432.0 121.0,432.3C122.6,432.6 123.5,433.7 124.0,434.0" fill="none" stroke="#bfcd3c" stroke-width="5.38" stroke-linecap="round" stroke-linejoin="round"/>
<path d="M79.0,427.0C80.0,427.1 83.5,427.4 85.3,427.5C87.1,427.6 87.6,427.1 90.0,427.5C92.4,427.9 96.8,428.7 99.5,429.9C102.2,431.1 104.3,433.4 106.0,434.7C107.7,436.0 108.0,437.9 109.4,437.5C110.8,437.1 112.6,433.2 114.5,432.3C116.4,431.4 119.4,432.0 121.0,432.3C122.6,432.6 123.5,433.7 124.0,434.0" fill="none" stroke="#bfcd3c" stroke-width="6.72" stroke-linecap="round" stroke-dasharray="0 2.8"/>
<path d="M120.0,434.0C120.4,433.5 121.7,432.3 122.5,431.0C123.3,429.7 124.2,427.8 125.0,426.0C125.8,424.2 126.7,421.0 127.0,420.0" fill="none" stroke="#ff1c1c" stroke-width="2.50" stroke-linecap="round" stroke-linejoin="round"/>
<path d="M127.0,420.0C127.3,418.8 127.8,417.9 129.0,413.0C130.2,408.1 132.6,397.6 133.9,390.3C135.2,383.0 136.0,376.9 137.1,369.3C138.2,361.8 139.4,352.9 140.4,345.0C141.4,337.1 142.2,328.7 143.2,322.0C144.2,315.3 145.2,308.9 146.3,305.0C147.4,301.1 149.0,299.5 149.5,298.4" fill="none" stroke="#ff1c1c" stroke-width="6.27" stroke-linecap="round" stroke-linejoin="round"/>
<path d="M127.0,420.0C127.3,418.8 127.8,417.9 129.0,413.0C130.2,408.1 132.6,397.6 133.9,390.3C135.2,383.0 136.0,376.9 137.1,369.3C138.2,361.8 139.4,352.9 140.4,345.0C141.4,337.1 142.2,328.7 143.2,322.0C144.2,315.3 145.2,308.9 146.3,305.0C147.4,301.1 149.0,299.5 149.5,298.4" fill="none" stroke="#ff1c1c" stroke-width="7.84" stroke-linecap="round" stroke-dasharray="0 2.8"/>
<path d="M149.5,298.4C150.6,297.5 153.4,294.1 155.8,292.8C158.2,291.5 161.1,291.0 163.7,290.5C166.3,290.0 168.7,290.1 171.6,290.0C174.5,289.9 178.5,289.7 181.1,290.0C183.7,290.3 185.3,290.6 187.4,292.0C189.5,293.4 192.0,296.6 193.8,298.4C195.7,300.2 197.1,300.9 198.5,303.0C199.9,305.1 201.4,307.0 202.5,311.0C203.6,315.0 204.3,321.3 205.0,327.0C205.7,332.7 206.1,338.5 206.8,345.0C207.5,351.5 208.1,358.5 209.0,366.0C209.9,373.5 211.5,386.0 212.0,390.0" fill="none" stroke="#ff1c1c" stroke-width="7.62" stroke-linecap="round" stroke-linejoin="round"/>
<path d="M149.5,298.4C150.6,297.5 153.4,294.1 155.8,292.8C158.2,291.5 161.1,291.0 163.7,290.5C166.3,290.0 168.7,290.1 171.6,290.0C174.5,289.9 178.5,289.7 181.1,290.0C183.7,290.3 185.3,290.6 187.4,292.0C189.5,293.4 192.0,296.6 193.8,298.4C195.7,300.2 197.1,300.9 198.5,303.0C199.9,305.1 201.4,307.0 202.5,311.0C203.6,315.0 204.3,321.3 205.0,327.0C205.7,332.7 206.1,338.5 206.8,345.0C207.5,351.5 208.1,358.5 209.0,366.0C209.9,373.5 211.5,386.0 212.0,390.0" fill="none" stroke="#ff1c1c" stroke-width="9.52" stroke-linecap="round" stroke-dasharray="0 2.8"/>
<path d="M213.0,390.0C213.4,392.5 214.0,399.1 215.2,405.0C216.4,410.9 218.5,420.9 220.2,425.3C221.9,429.7 223.7,431.2 225.3,431.6C226.9,432.1 228.8,430.3 230.0,428.0C231.2,425.7 231.9,421.4 232.8,417.7C233.7,414.0 234.7,408.8 235.5,406.0C236.3,403.2 237.2,401.8 237.5,401.0" fill="none" stroke="#ff1c1c" stroke-width="4.00" stroke-linecap="round" stroke-linejoin="round"/>
<path d="M149.5,298.4C150.6,299.7 153.4,303.1 155.8,306.3C158.2,309.5 161.1,314.0 163.7,317.3C166.3,320.6 168.7,323.9 171.6,326.0C174.5,328.1 178.5,329.9 181.1,330.0C183.7,330.1 185.3,328.1 187.4,326.8C189.5,325.5 192.0,323.1 193.8,322.0C195.7,320.9 197.5,320.5 198.5,320.5C199.5,320.5 199.2,320.7 200.0,322.0C200.8,323.3 202.4,324.6 203.2,328.4C204.0,332.2 204.2,339.0 204.8,345.0C205.4,351.0 206.1,358.7 206.8,364.5C207.5,370.3 208.2,375.4 209.0,380.0C209.8,384.6 211.2,390.0 211.7,392.0" fill="none" stroke="#ff1c1c" stroke-width="7.17" stroke-linecap="round" stroke-linejoin="round"/>
<path d="M149.5,298.4C150.6,299.7 153.4,303.1 155.8,306.3C158.2,309.5 161.1,314.0 163.7,317.3C166.3,320.6 168.7,323.9 171.6,326.0C174.5,328.1 178.5,329.9 181.1,330.0C183.7,330.1 185.3,328.1 187.4,326.8C189.5,325.5 192.0,323.1 193.8,322.0C195.7,320.9 197.5,320.5 198.5,320.5C199.5,320.5 199.2,320.7 200.0,322.0C200.8,323.3 202.4,324.6 203.2,328.4C204.0,332.2 204.2,339.0 204.8,345.0C205.4,351.0 206.1,358.7 206.8,364.5C207.5,370.3 208.2,375.4 209.0,380.0C209.8,384.6 211.2,390.0 211.7,392.0" fill="none" stroke="#ff1c1c" stroke-width="8.96" stroke-linecap="round" stroke-dasharray="0 2.8"/>
<path d="M211.7,392.0C212.2,395.0 213.5,404.4 214.5,410.0C215.5,415.6 216.3,421.6 217.7,425.3C219.1,429.0 222.0,430.9 222.8,432.0" fill="none" stroke="#ff1c1c" stroke-width="2.50" stroke-linecap="round" stroke-linejoin="round"/>
<path d="M155.8,266.7C156.7,268.6 159.2,274.3 161.0,278.0C162.8,281.7 164.6,283.7 166.9,288.9C169.2,294.1 173.0,303.7 174.8,309.4C176.6,315.1 177.1,320.7 177.5,323.0" fill="none" stroke="#bfcd3c" stroke-width="2.00" stroke-linecap="round" stroke-linejoin="round"/>
<path d="M177.5,323.0C178.1,325.8 179.7,338.0 180.8,339.5C181.9,341.0 183.5,333.2 184.0,332.0" fill="none" stroke="#bfcd3c" stroke-width="4.50" stroke-linecap="round" stroke-linejoin="round"/>
<path d="M184.0,332.0C184.3,331.2 185.0,328.9 186.0,327.0C187.0,325.1 187.8,323.4 190.0,320.5C192.2,317.6 196.1,312.6 199.5,309.4C202.9,306.2 207.8,304.2 210.5,301.5C213.2,298.8 214.3,296.2 216.0,293.0C217.7,289.8 219.2,285.5 220.5,282.0C221.8,278.5 222.6,274.3 223.5,272.0C224.4,269.7 225.1,268.1 225.8,268.3C226.6,268.5 227.2,269.7 228.0,273.0C228.8,276.3 229.7,282.2 230.5,288.0C231.3,293.8 232.2,301.5 233.0,308.0C233.8,314.5 234.6,321.7 235.3,327.0C236.0,332.3 237.0,337.8 237.3,340.0" fill="none" stroke="#bfcd3c" stroke-width="2.00" stroke-linecap="round" stroke-linejoin="round"/>
<path d="M154.2,266.7C154.8,267.9 156.4,271.1 158.0,274.0C159.6,276.9 161.4,280.8 163.7,284.1C166.0,287.4 169.5,290.7 171.6,293.6C173.7,296.5 175.6,300.2 176.4,301.5" fill="none" stroke="#1c1cff" stroke-width="4.00" stroke-linecap="round" stroke-linejoin="round"/>
<path d="M173.2,267.0C173.8,267.8 175.8,270.7 177.0,272.0C178.2,273.3 179.1,274.6 180.3,274.6C181.5,274.6 182.9,273.3 184.0,272.0C185.1,270.7 186.2,267.8 186.6,267.0" fill="none" stroke="#1c1cff" stroke-width="4.00" stroke-linecap="round" stroke-linejoin="round"/>
<path d="M219.0,268.0C220.0,270.8 223.2,278.8 225.0,285.0C226.8,291.2 228.5,298.3 230.0,305.0C231.5,311.7 232.8,319.2 234.0,325.0C235.2,330.8 236.0,339.2 237.3,340.0C238.6,340.8 240.2,333.3 242.0,330.0C243.8,326.7 246.1,323.2 248.0,320.0C249.9,316.8 251.2,315.3 253.2,310.8C255.2,306.3 258.0,297.6 260.0,293.0C262.0,288.4 263.3,285.4 265.0,283.0C266.7,280.6 268.4,278.7 270.0,278.6C271.6,278.5 273.2,281.4 274.6,282.6C276.0,283.8 277.0,283.3 278.6,285.7C280.2,288.1 282.0,292.6 284.0,296.8C286.0,301.0 288.4,306.5 290.5,311.0C292.6,315.5 295.1,320.7 296.8,323.7C298.5,326.7 300.1,328.3 300.7,329.2" fill="none" stroke="#bfcd3c" stroke-width="5.38" stroke-linecap="round" stroke-linejoin="round"/>
<path d="M219.0,268.0C220.0,270.8 223.2,278.8 225.0,285.0C226.8,291.2 228.5,298.3 230.0,305.0C231.5,311.7 232.8,319.2 234.0,325.0C235.2,330.8 236.0,339.2 237.3,340.0C238.6,340.8 240.2,333.3 242.0,330.0C243.8,326.7 246.1,323.2 248.0,320.0C249.9,316.8 251.2,315.3 253.2,310.8C255.2,306.3 258.0,297.6 260.0,293.0C262.0,288.4 263.3,285.4 265.0,283.0C266.7,280.6 268.4,278.7 270.0,278.6C271.6,278.5 273.2,281.4 274.6,282.6C276.0,283.8 277.0,283.3 278.6,285.7C280.2,288.1 282.0,292.6 284.0,296.8C286.0,301.0 288.4,306.5 290.5,311.0C292.6,315.5 295.1,320.7 296.8,323.7C298.5,326.7 300.1,328.3 300.7,329.2" fill="none" stroke="#bfcd3c" stroke-width="6.72" stroke-linecap="round" stroke-dasharray="0 2.8"/>
<path d="M300.7,329.2C301.1,330.0 301.6,332.8 303.0,334.0C304.4,335.2 307.8,335.8 309.4,336.3C311.0,336.8 311.5,337.8 312.6,337.0C313.7,336.2 315.3,332.5 315.8,331.6" fill="none" stroke="#bfcd3c" stroke-width="3.00" stroke-linecap="round" stroke-linejoin="round"/>
<path d="M315.8,331.6C316.8,328.4 320.1,318.9 322.0,312.6C323.9,306.3 325.2,299.3 327.0,293.6C328.8,287.9 330.9,279.8 332.5,278.3C334.1,276.8 335.0,282.4 336.3,284.7C337.6,287.0 339.6,290.8 340.3,292.0" fill="none" stroke="#bfcd3c" stroke-width="5.38" stroke-linecap="round" stroke-linejoin="round"/>
<path d="M315.8,331.6C316.8,328.4 320.1,318.9 322.0,312.6C323.9,306.3 325.2,299.3 327.0,293.6C328.8,287.9 330.9,279.8 332.5,278.3C334.1,276.8 335.0,282.4 336.3,284.7C337.6,287.0 339.6,290.8 340.3,292.0" fill="none" stroke="#bfcd3c" stroke-width="6.72" stroke-linecap="round" stroke-dasharray="0 2.8"/>
<path d="M309.4,299.2C310.7,300.1 314.7,302.7 317.3,304.7C319.9,306.7 322.6,308.9 325.2,311.0C327.8,313.1 330.6,315.7 333.1,317.3C335.6,318.9 339.1,320.0 340.3,320.5" fill="none" stroke="#ff1c1c" stroke-width="6.27" stroke-linecap="round" stroke-linejoin="round"/>
<path d="M309.4,299.2C310.7,300.1 314.7,302.7 317.3,304.7C319.9,306.7 322.6,308.9 325.2,311.0C327.8,313.1 330.6,315.7 333.1,317.3C335.6,318.9 339.1,320.0 340.3,320.5" fill="none" stroke="#ff1c1c" stroke-width="7.84" stroke-linecap="round" stroke-dasharray="0 2.8"/>
<path d="M150.4,451.0C151.4,450.4 154.5,449.9 156.6,447.7C158.7,445.5 161.1,441.8 163.0,438.0C164.9,434.2 167.2,427.2 168.0,425.0" fill="none" stroke="#1c1cff" stroke-width="3.00" stroke-linecap="round" stroke-linejoin="round"/>
<path d="M168.0,425.0C168.8,420.3 171.2,404.4 172.8,397.0C174.4,389.6 176.2,383.8 177.6,380.6C179.0,377.4 179.7,378.0 181.0,378.0C182.3,378.0 184.2,378.4 185.7,380.6C187.2,382.8 188.6,388.4 190.0,391.0C191.4,393.6 192.4,395.3 194.0,396.5C195.6,397.7 197.1,398.3 199.3,398.3C201.5,398.3 204.4,397.7 207.3,396.3C210.2,394.9 213.6,392.4 216.7,389.7C219.8,387.0 222.9,383.4 226.0,380.3C229.1,377.2 233.1,372.3 235.3,371.0C237.5,369.7 237.5,370.5 239.3,372.3C241.1,374.1 244.1,378.4 246.0,381.7C247.9,385.0 249.5,388.8 251.0,392.0C252.5,395.2 253.6,397.7 255.0,401.0C256.4,404.3 257.8,408.1 259.5,412.0C261.2,415.9 263.5,421.3 265.2,424.2C266.9,427.1 268.0,429.8 269.8,429.5C271.6,429.2 273.9,425.1 275.9,422.7C277.9,420.3 281.0,416.3 282.0,415.0" fill="none" stroke="#1c1cff" stroke-width="6.27" stroke-linecap="round" stroke-linejoin="round"/>
<path d="M168.0,425.0C168.8,420.3 171.2,404.4 172.8,397.0C174.4,389.6 176.2,383.8 177.6,380.6C179.0,377.4 179.7,378.0 181.0,378.0C182.3,378.0 184.2,378.4 185.7,380.6C187.2,382.8 188.6,388.4 190.0,391.0C191.4,393.6 192.4,395.3 194.0,396.5C195.6,397.7 197.1,398.3 199.3,398.3C201.5,398.3 204.4,397.7 207.3,396.3C210.2,394.9 213.6,392.4 216.7,389.7C219.8,387.0 222.9,383.4 226.0,380.3C229.1,377.2 233.1,372.3 235.3,371.0C237.5,369.7 237.5,370.5 239.3,372.3C241.1,374.1 244.1,378.4 246.0,381.7C247.9,385.0 249.5,388.8 251.0,392.0C252.5,395.2 253.6,397.7 255.0,401.0C256.4,404.3 257.8,408.1 259.5,412.0C261.2,415.9 263.5,421.3 265.2,424.2C266.9,427.1 268.0,429.8 269.8,429.5C271.6,429.2 273.9,425.1 275.9,422.7C277.9,420.3 281.0,416.3 282.0,415.0" fill="none" stroke="#1c1cff" stroke-width="7.84" stroke-linecap="round" stroke-dasharray="0 2.8"/>
<path d="M208.0,432.0C208.6,430.8 209.9,427.8 211.3,425.0C212.8,422.2 214.5,419.1 216.7,415.0C218.9,410.9 222.0,405.9 224.7,400.3C227.4,394.8 230.7,386.1 232.7,381.7C234.7,377.3 235.6,375.2 236.7,373.7C237.8,372.2 238.6,372.7 239.0,372.5" fill="none" stroke="#1c1cff" stroke-width="4.48" stroke-linecap="round" stroke-linejoin="round"/>
<path d="M208.0,432.0C208.6,430.8 209.9,427.8 211.3,425.0C212.8,422.2 214.5,419.1 216.7,415.0C218.9,410.9 222.0,405.9 224.7,400.3C227.4,394.8 230.7,386.1 232.7,381.7C234.7,377.3 235.6,375.2 236.7,373.7C237.8,372.2 238.6,372.7 239.0,372.5" fill="none" stroke="#1c1cff" stroke-width="5.60" stroke-linecap="round" stroke-dasharray="0 2.8"/>
<path d="M282.0,415.0C283.0,414.1 286.4,412.0 288.0,409.7C289.6,407.4 291.2,402.7 291.9,401.3" fill="none" stroke="#bfcd3c" stroke-width="4.93" stroke-linecap="round" stroke-linejoin="round"/>
<path d="M282.0,415.0C283.0,414.1 286.4,412.0 288.0,409.7C289.6,407.4 291.2,402.7 291.9,401.3" fill="none" stroke="#bfcd3c" stroke-width="6.16" stroke-linecap="round" stroke-dasharray="0 2.8"/>
<path d="M291.9,401.3C292.3,399.2 293.6,392.6 294.2,389.0C294.8,385.4 295.1,384.0 295.7,380.0C296.2,376.0 296.9,369.7 297.5,365.0C298.1,360.3 298.8,355.5 299.3,352.0C299.8,348.5 300.1,348.5 300.7,344.0C301.3,339.5 302.3,330.0 303.0,325.0C303.7,320.0 304.1,317.5 304.7,314.0C305.3,310.5 305.9,306.5 306.5,304.0C307.1,301.5 307.5,300.4 308.5,299.0C309.5,297.6 310.6,296.1 312.6,295.5C314.6,294.9 317.9,294.8 320.5,295.2C323.1,295.6 325.8,296.8 328.4,297.6C331.0,298.4 334.3,299.5 336.3,300.0C338.3,300.5 339.6,300.6 340.3,300.7" fill="none" stroke="#ff1c1c" stroke-width="6.27" stroke-linecap="round" stroke-linejoin="round"/>
<path d="M291.9,401.3C292.3,399.2 293.6,392.6 294.2,389.0C294.8,385.4 295.1,384.0 295.7,380.0C296.2,376.0 296.9,369.7 297.5,365.0C298.1,360.3 298.8,355.5 299.3,352.0C299.8,348.5 300.1,348.5 300.7,344.0C301.3,339.5 302.3,330.0 303.0,325.0C303.7,320.0 304.1,317.5 304.7,314.0C305.3,310.5 305.9,306.5 306.5,304.0C307.1,301.5 307.5,300.4 308.5,299.0C309.5,297.6 310.6,296.1 312.6,295.5C314.6,294.9 317.9,294.8 320.5,295.2C323.1,295.6 325.8,296.8 328.4,297.6C331.0,298.4 334.3,299.5 336.3,300.0C338.3,300.5 339.6,300.6 340.3,300.7" fill="none" stroke="#ff1c1c" stroke-width="7.84" stroke-linecap="round" stroke-dasharray="0 2.8"/>
<path d="M148.2,474.3C149.0,472.9 151.5,468.6 153.1,466.2C154.7,463.8 156.4,463.5 158.0,459.7C159.6,455.9 161.2,448.9 162.8,443.5C164.4,438.1 166.2,431.4 167.7,427.4C169.2,423.4 170.1,421.2 171.7,419.3C173.3,417.4 175.7,416.3 177.4,416.0C179.2,415.7 180.6,415.8 182.2,417.7C183.8,419.6 185.5,423.4 187.1,427.4C188.7,431.4 190.4,438.7 192.0,441.9C193.6,445.1 195.2,445.9 196.8,446.8C198.4,447.8 199.4,448.2 201.6,447.6C203.8,447.1 207.3,445.1 209.7,443.5C212.1,441.9 214.6,438.8 216.2,437.9C217.8,437.0 218.9,437.9 219.4,437.9" fill="none" stroke="#bfcd3c" stroke-width="5.38" stroke-linecap="round" stroke-linejoin="round"/>
<path d="M148.2,474.3C149.0,472.9 151.5,468.6 153.1,466.2C154.7,463.8 156.4,463.5 158.0,459.7C159.6,455.9 161.2,448.9 162.8,443.5C164.4,438.1 166.2,431.4 167.7,427.4C169.2,423.4 170.1,421.2 171.7,419.3C173.3,417.4 175.7,416.3 177.4,416.0C179.2,415.7 180.6,415.8 182.2,417.7C183.8,419.6 185.5,423.4 187.1,427.4C188.7,431.4 190.4,438.7 192.0,441.9C193.6,445.1 195.2,445.9 196.8,446.8C198.4,447.8 199.4,448.2 201.6,447.6C203.8,447.1 207.3,445.1 209.7,443.5C212.1,441.9 214.6,438.8 216.2,437.9C217.8,437.0 218.9,437.9 219.4,437.9" fill="none" stroke="#bfcd3c" stroke-width="6.72" stroke-linecap="round" stroke-dasharray="0 2.8"/>
<path d="M221.0,427.4C221.8,426.6 224.3,425.4 225.9,422.5C227.5,419.6 228.7,413.5 230.3,410.0C231.9,406.5 233.2,401.8 235.3,401.4C237.4,401.0 240.5,405.7 242.9,407.7C245.3,409.7 247.9,411.0 250.0,413.5C252.1,416.0 254.0,420.0 255.5,422.8C257.0,425.6 256.7,426.7 259.1,430.3C261.5,433.9 266.8,442.9 269.8,444.7C272.9,446.5 274.9,442.4 277.4,441.0C279.9,439.6 282.4,438.2 285.0,436.4C287.6,434.6 290.1,430.8 292.7,430.3C295.2,429.8 297.5,432.2 300.3,433.3C303.1,434.4 306.4,435.6 309.4,437.1C312.4,438.6 315.2,440.9 318.5,442.5C321.8,444.1 325.6,446.2 329.2,447.0C332.8,447.8 338.1,447.0 339.9,447.0" fill="none" stroke="#bfcd3c" stroke-width="5.38" stroke-linecap="round" stroke-linejoin="round"/>
<path d="M221.0,427.4C221.8,426.6 224.3,425.4 225.9,422.5C227.5,419.6 228.7,413.5 230.3,410.0C231.9,406.5 233.2,401.8 235.3,401.4C237.4,401.0 240.5,405.7 242.9,407.7C245.3,409.7 247.9,411.0 250.0,413.5C252.1,416.0 254.0,420.0 255.5,422.8C257.0,425.6 256.7,426.7 259.1,430.3C261.5,433.9 266.8,442.9 269.8,444.7C272.9,446.5 274.9,442.4 277.4,441.0C279.9,439.6 282.4,438.2 285.0,436.4C287.6,434.6 290.1,430.8 292.7,430.3C295.2,429.8 297.5,432.2 300.3,433.3C303.1,434.4 306.4,435.6 309.4,437.1C312.4,438.6 315.2,440.9 318.5,442.5C321.8,444.1 325.6,446.2 329.2,447.0C332.8,447.8 338.1,447.0 339.9,447.0" fill="none" stroke="#bfcd3c" stroke-width="6.72" stroke-linecap="round" stroke-dasharray="0 2.8"/>
<path d="M309.4,437.1C310.3,436.4 313.2,434.4 315.0,433.0C316.8,431.6 317.6,431.7 320.0,428.7C322.4,425.7 326.6,419.1 329.2,415.0C331.8,410.9 333.5,407.1 335.3,404.4C337.1,401.7 339.1,399.9 339.9,399.0" fill="none" stroke="#1c1cff" stroke-width="5.38" stroke-linecap="round" stroke-linejoin="round"/>
<path d="M309.4,437.1C310.3,436.4 313.2,434.4 315.0,433.0C316.8,431.6 317.6,431.7 320.0,428.7C322.4,425.7 326.6,419.1 329.2,415.0C331.8,410.9 333.5,407.1 335.3,404.4C337.1,401.7 339.1,399.9 339.9,399.0" fill="none" stroke="#1c1cff" stroke-width="6.72" stroke-linecap="round" stroke-dasharray="0 2.8"/>
<path d="M39.6,453.3C40.7,454.2 43.6,456.4 46.0,459.0C48.4,461.6 52.8,467.1 54.2,468.7" fill="none" stroke="#1c1cff" stroke-width="4.00" stroke-linecap="round" stroke-linejoin="round"/>
<path d="M100.0,479.5C101.5,479.3 106.3,478.3 109.3,478.4C112.3,478.5 116.5,479.7 118.0,480.0" fill="none" stroke="#1c1cff" stroke-width="4.00" stroke-linecap="round" stroke-linejoin="round"/>
<path d="M140.4,481.7C142.1,481.4 147.7,480.6 150.4,480.0C153.1,479.4 154.2,479.2 156.6,478.4C159.0,477.6 161.2,476.5 164.7,475.2C168.2,473.9 175.4,471.1 177.6,470.3" fill="none" stroke="#1c1cff" stroke-width="4.00" stroke-linecap="round" stroke-linejoin="round"/>
<path d="M39.6,480.5C41.0,480.4 44.7,480.2 47.7,480.0C50.7,479.8 53.6,479.3 57.4,479.0C61.2,478.7 66.9,478.2 70.4,478.4C73.9,478.6 77.2,479.7 78.5,480.0" fill="none" stroke="#1c1cff" stroke-width="5.38" stroke-linecap="round" stroke-linejoin="round"/>
<path d="M39.6,480.5C41.0,480.4 44.7,480.2 47.7,480.0C50.7,479.8 53.6,479.3 57.4,479.0C61.2,478.7 66.9,478.2 70.4,478.4C73.9,478.6 77.2,479.7 78.5,480.0" fill="none" stroke="#1c1cff" stroke-width="6.72" stroke-linecap="round" stroke-dasharray="0 2.8"/>
<path d="M100.0,480.0C100.8,479.8 103.5,478.9 105.0,478.5C106.5,478.1 107.8,477.5 109.3,477.5C110.8,477.5 112.5,477.9 114.0,478.3C115.5,478.7 117.3,479.7 118.0,480.0" fill="none" stroke="#1c1cff" stroke-width="4.48" stroke-linecap="round" stroke-linejoin="round"/>
<path d="M100.0,480.0C100.8,479.8 103.5,478.9 105.0,478.5C106.5,478.1 107.8,477.5 109.3,477.5C110.8,477.5 112.5,477.9 114.0,478.3C115.5,478.7 117.3,479.7 118.0,480.0" fill="none" stroke="#1c1cff" stroke-width="5.60" stroke-linecap="round" stroke-dasharray="0 2.8"/>
<path d="M39.6,486.0C41.0,485.8 45.1,485.4 47.7,485.0C50.3,484.6 52.6,484.0 55.0,483.5C57.4,483.0 60.8,482.2 62.0,482.0" fill="none" stroke="#1c1cff" stroke-width="4.48" stroke-linecap="round" stroke-linejoin="round"/>
<path d="M39.6,486.0C41.0,485.8 45.1,485.4 47.7,485.0C50.3,484.6 52.6,484.0 55.0,483.5C57.4,483.0 60.8,482.2 62.0,482.0" fill="none" stroke="#1c1cff" stroke-width="5.60" stroke-linecap="round" stroke-dasharray="0 2.8"/>
<path d="M52.6,481.7C53.4,483.6 56.0,489.2 57.4,493.0C58.8,496.8 59.9,501.9 60.7,504.4C61.5,506.9 61.8,507.4 62.0,508.0" fill="none" stroke="#ff1c1c" stroke-width="2.50" stroke-linecap="round" stroke-linejoin="round"/>
<path d="M62.3,502.7C63.6,503.2 67.7,505.2 70.4,506.0C73.1,506.8 75.3,507.6 78.5,507.6C81.7,507.6 85.8,507.6 89.8,506.0C93.8,504.4 99.5,499.5 102.8,497.9C106.0,496.3 106.8,496.6 109.3,496.3C111.8,496.0 116.0,496.9 118.0,496.3C120.0,495.8 119.4,493.8 121.0,493.0C122.6,492.2 125.2,492.6 127.4,491.4C129.6,490.2 131.8,487.4 133.9,485.7C136.0,484.0 139.0,481.8 140.0,481.0" fill="none" stroke="#bfcd3c" stroke-width="5.38" stroke-linecap="round" stroke-linejoin="round"/>
<path d="M62.3,502.7C63.6,503.2 67.7,505.2 70.4,506.0C73.1,506.8 75.3,507.6 78.5,507.6C81.7,507.6 85.8,507.6 89.8,506.0C93.8,504.4 99.5,499.5 102.8,497.9C106.0,496.3 106.8,496.6 109.3,496.3C111.8,496.0 116.0,496.9 118.0,496.3C120.0,495.8 119.4,493.8 121.0,493.0C122.6,492.2 125.2,492.6 127.4,491.4C129.6,490.2 131.8,487.4 133.9,485.7C136.0,484.0 139.0,481.8 140.0,481.0" fill="none" stroke="#bfcd3c" stroke-width="6.72" stroke-linecap="round" stroke-dasharray="0 2.8"/>
<path d="M89.0,487.2C90.0,486.9 92.9,485.8 94.7,485.7C96.5,485.6 98.3,485.9 100.0,486.3C101.7,486.7 104.2,487.7 105.0,488.0" fill="none" stroke="#1c1cff" stroke-width="4.50" stroke-linecap="round" stroke-linejoin="round"/>
<path d="M39.6,505.0C40.7,504.5 43.6,502.8 46.0,502.0C48.4,501.2 52.7,500.3 54.0,500.0" fill="none" stroke="#1c1cff" stroke-width="5.38" stroke-linecap="round" stroke-linejoin="round"/>
<path d="M39.6,505.0C40.7,504.5 43.6,502.8 46.0,502.0C48.4,501.2 52.7,500.3 54.0,500.0" fill="none" stroke="#1c1cff" stroke-width="6.72" stroke-linecap="round" stroke-dasharray="0 2.8"/>
<path d="M108.0,497.9C109.3,498.0 113.3,498.2 116.0,498.7C118.7,499.2 121.8,499.8 124.2,501.0C126.7,502.2 129.1,504.5 130.7,506.0C132.3,507.5 133.4,509.3 134.0,510.0" fill="none" stroke="#1c1cff" stroke-width="5.38" stroke-linecap="round" stroke-linejoin="round"/>
<path d="M108.0,497.9C109.3,498.0 113.3,498.2 116.0,498.7C118.7,499.2 121.8,499.8 124.2,501.0C126.7,502.2 129.1,504.5 130.7,506.0C132.3,507.5 133.4,509.3 134.0,510.0" fill="none" stroke="#1c1cff" stroke-width="6.72" stroke-linecap="round" stroke-dasharray="0 2.8"/>
<path d="M108.0,501.0C110.2,501.3 117.2,501.6 121.0,502.7C124.8,503.8 129.1,506.8 130.7,507.6" fill="none" stroke="#bfcd3c" stroke-width="4.00" stroke-linecap="round" stroke-linejoin="round"/>
<path d="M170.0,458.5C171.3,457.9 175.2,456.1 177.9,455.0C180.6,453.9 183.8,452.9 186.4,452.1C189.0,451.3 191.4,450.5 193.6,450.0C195.8,449.5 197.4,448.5 199.3,449.3C201.2,450.1 202.9,452.4 205.0,455.0C207.1,457.6 209.7,462.4 212.1,465.0C214.5,467.6 216.4,469.1 219.3,470.7C222.2,472.2 226.0,473.2 229.3,474.3C232.6,475.4 236.5,475.7 239.3,477.1C242.1,478.5 243.8,480.8 246.0,482.7C248.2,484.6 250.7,486.7 252.7,488.7C254.7,490.7 256.6,493.4 258.0,494.7C259.4,496.0 260.5,496.4 261.0,496.7" fill="none" stroke="#1c1cff" stroke-width="5.38" stroke-linecap="round" stroke-linejoin="round"/>
<path d="M170.0,458.5C171.3,457.9 175.2,456.1 177.9,455.0C180.6,453.9 183.8,452.9 186.4,452.1C189.0,451.3 191.4,450.5 193.6,450.0C195.8,449.5 197.4,448.5 199.3,449.3C201.2,450.1 202.9,452.4 205.0,455.0C207.1,457.6 209.7,462.4 212.1,465.0C214.5,467.6 216.4,469.1 219.3,470.7C222.2,472.2 226.0,473.2 229.3,474.3C232.6,475.4 236.5,475.7 239.3,477.1C242.1,478.5 243.8,480.8 246.0,482.7C248.2,484.6 250.7,486.7 252.7,488.7C254.7,490.7 256.6,493.4 258.0,494.7C259.4,496.0 260.5,496.4 261.0,496.7" fill="none" stroke="#1c1cff" stroke-width="6.72" stroke-linecap="round" stroke-dasharray="0 2.8"/>
<path d="M261.0,496.7C261.6,496.1 263.2,494.5 264.7,493.4C266.2,492.3 267.9,490.7 270.0,490.0C272.1,489.3 275.8,489.5 277.0,489.4" fill="none" stroke="#bfcd3c" stroke-width="4.48" stroke-linecap="round" stroke-linejoin="round"/>
<path d="M261.0,496.7C261.6,496.1 263.2,494.5 264.7,493.4C266.2,492.3 267.9,490.7 270.0,490.0C272.1,489.3 275.8,489.5 277.0,489.4" fill="none" stroke="#bfcd3c" stroke-width="5.60" stroke-linecap="round" stroke-dasharray="0 2.8"/>
<path d="M177.6,470.3C180.3,470.1 188.5,470.1 193.6,469.3C198.7,468.5 203.2,466.6 207.9,465.7C212.7,464.8 217.8,464.3 222.1,463.6C226.4,462.9 231.7,461.8 233.6,461.4" fill="none" stroke="#bfcd3c" stroke-width="4.00" stroke-linecap="round" stroke-linejoin="round"/>
<path d="M156.6,507.6C158.2,507.1 163.9,506.0 166.3,504.4C168.7,502.8 169.8,500.3 171.2,497.9C172.5,495.5 172.9,492.2 174.4,489.8C175.9,487.4 177.2,485.5 180.4,483.6C183.6,481.7 189.5,479.8 193.6,478.6C197.7,477.4 201.9,476.5 205.0,476.4C208.1,476.3 209.7,476.9 212.1,477.9C214.5,478.8 217.2,481.1 219.3,482.1C221.5,483.1 224.1,483.7 225.0,484.0" fill="none" stroke="#1c1cff" stroke-width="6.27" stroke-linecap="round" stroke-linejoin="round"/>
<path d="M156.6,507.6C158.2,507.1 163.9,506.0 166.3,504.4C168.7,502.8 169.8,500.3 171.2,497.9C172.5,495.5 172.9,492.2 174.4,489.8C175.9,487.4 177.2,485.5 180.4,483.6C183.6,481.7 189.5,479.8 193.6,478.6C197.7,477.4 201.9,476.5 205.0,476.4C208.1,476.3 209.7,476.9 212.1,477.9C214.5,478.8 217.2,481.1 219.3,482.1C221.5,483.1 224.1,483.7 225.0,484.0" fill="none" stroke="#1c1cff" stroke-width="7.84" stroke-linecap="round" stroke-dasharray="0 2.8"/>
<path d="M180.4,482.1C182.6,483.1 190.2,486.8 193.6,487.9C197.0,489.0 198.0,488.8 200.7,488.6C203.4,488.5 205.9,487.9 210.0,487.0C214.1,486.1 221.5,484.0 225.3,483.0C229.1,482.0 231.7,481.3 233.0,481.0" fill="none" stroke="#bfcd3c" stroke-width="4.48" stroke-linecap="round" stroke-linejoin="round"/>
<path d="M180.4,482.1C182.6,483.1 190.2,486.8 193.6,487.9C197.0,489.0 198.0,488.8 200.7,488.6C203.4,488.5 205.9,487.9 210.0,487.0C214.1,486.1 221.5,484.0 225.3,483.0C229.1,482.0 231.7,481.3 233.0,481.0" fill="none" stroke="#bfcd3c" stroke-width="5.60" stroke-linecap="round" stroke-dasharray="0 2.8"/>
<path d="M210.7,479.3C211.4,481.0 213.6,485.7 215.0,489.3C216.4,492.9 218.1,497.2 219.3,500.7C220.5,504.1 221.6,508.4 222.1,510.0" fill="none" stroke="#ff1c1c" stroke-width="2.50" stroke-linecap="round" stroke-linejoin="round"/>
<path d="M238.0,512.0C238.9,511.5 241.2,510.3 243.4,509.0C245.6,507.7 248.7,505.4 251.4,504.0C254.1,502.6 258.1,501.2 259.4,500.7" fill="none" stroke="#bfcd3c" stroke-width="4.48" stroke-linecap="round" stroke-linejoin="round"/>
<path d="M238.0,512.0C238.9,511.5 241.2,510.3 243.4,509.0C245.6,507.7 248.7,505.4 251.4,504.0C254.1,502.6 258.1,501.2 259.4,500.7" fill="none" stroke="#bfcd3c" stroke-width="5.60" stroke-linecap="round" stroke-dasharray="0 2.8"/>
<path d="M259.4,500.7C260.3,501.0 262.9,501.9 264.7,502.7C266.5,503.5 268.2,504.5 270.0,505.4C271.8,506.3 274.1,507.2 275.4,508.0C276.7,508.8 277.6,509.7 278.0,510.0" fill="none" stroke="#1c1cff" stroke-width="4.48" stroke-linecap="round" stroke-linejoin="round"/>
<path d="M259.4,500.7C260.3,501.0 262.9,501.9 264.7,502.7C266.5,503.5 268.2,504.5 270.0,505.4C271.8,506.3 274.1,507.2 275.4,508.0C276.7,508.8 277.6,509.7 278.0,510.0" fill="none" stroke="#1c1cff" stroke-width="5.60" stroke-linecap="round" stroke-dasharray="0 2.8"/>
<path d="M205.0,512.0C206.4,511.3 210.8,509.1 213.6,507.9C216.4,506.7 219.4,505.7 222.1,505.0C224.8,504.3 228.7,503.8 230.0,503.5" fill="none" stroke="#1c1cff" stroke-width="4.48" stroke-linecap="round" stroke-linejoin="round"/>
<path d="M205.0,512.0C206.4,511.3 210.8,509.1 213.6,507.9C216.4,506.7 219.4,505.7 222.1,505.0C224.8,504.3 228.7,503.8 230.0,503.5" fill="none" stroke="#1c1cff" stroke-width="5.60" stroke-linecap="round" stroke-dasharray="0 2.8"/>
<path d="M148.0,510.0C149.4,509.6 153.5,508.5 156.6,507.6C159.7,506.7 164.7,504.9 166.3,504.4" fill="none" stroke="#bfcd3c" stroke-width="4.48" stroke-linecap="round" stroke-linejoin="round"/>
<path d="M148.0,510.0C149.4,509.6 153.5,508.5 156.6,507.6C159.7,506.7 164.7,504.9 166.3,504.4" fill="none" stroke="#bfcd3c" stroke-width="5.60" stroke-linecap="round" stroke-dasharray="0 2.8"/>
<path d="M39.4,275.0C39.8,274.2 41.1,271.7 42.0,270.5C42.9,269.3 44.1,268.7 45.0,268.0C45.9,267.3 47.1,266.8 47.5,266.5M59.4,267.0C59.8,267.8 60.8,270.8 61.5,272.0C62.2,273.2 63.0,274.2 63.8,274.2C64.5,274.2 65.3,273.2 66.0,272.0C66.7,270.8 67.7,267.8 68.0,267.0M92.3,267.0C93.1,269.5 95.5,277.2 97.0,282.0C98.5,286.8 99.7,292.0 101.0,296.0C102.3,300.0 103.6,303.3 105.0,306.0C106.4,308.7 107.9,312.2 109.4,312.0C110.9,311.8 112.4,308.7 114.0,305.0C115.6,301.3 117.5,294.5 119.0,290.0C120.5,285.5 121.5,281.8 123.0,278.0C124.5,274.2 126.9,268.8 127.7,267.0M79.0,289.0C79.8,288.8 82.3,287.4 83.8,287.6C85.3,287.8 86.4,288.6 88.0,290.0C89.6,291.4 91.3,293.2 93.5,296.0C95.7,298.8 99.0,303.8 101.0,307.0C103.0,310.2 104.1,313.2 105.5,315.0C106.9,316.8 108.2,318.3 109.4,318.0C110.7,317.7 111.6,316.0 113.0,313.0C114.4,310.0 116.5,304.7 118.0,300.0C119.5,295.3 120.8,289.5 122.0,285.0C123.2,280.5 124.2,276.0 125.0,273.0C125.8,270.0 126.2,268.0 126.5,267.0M39.4,310.0C40.3,309.2 43.2,306.7 45.0,305.0C46.8,303.3 48.3,301.5 50.0,300.0C51.7,298.5 53.2,297.2 55.0,296.0C56.8,294.8 59.1,292.5 60.6,292.5C62.1,292.5 62.8,294.4 64.0,296.0C65.2,297.6 66.7,302.2 68.0,302.2C69.3,302.2 70.8,298.0 72.0,296.0C73.2,294.0 73.8,291.2 75.0,290.0C76.2,288.8 78.3,288.8 79.0,288.5M39.6,285.0C40.0,287.0 41.1,292.3 42.0,297.0C42.9,301.7 44.1,308.3 45.0,313.0C45.9,317.7 46.9,322.2 47.5,325.0C48.1,327.8 48.6,328.8 48.8,329.5M48.8,329.5C49.3,329.1 51.0,328.1 52.0,327.0C53.0,325.9 53.6,325.4 55.1,322.8C56.6,320.2 59.1,314.8 60.8,311.4C62.5,308.0 64.6,303.8 65.4,302.3M65.4,302.3C66.2,300.6 68.6,294.9 70.0,292.0C71.4,289.1 72.9,286.2 74.0,285.2C75.1,284.2 75.7,285.4 76.5,286.0C77.3,286.6 78.6,288.5 79.0,289.0M40.0,328.0C40.6,331.7 42.2,341.3 43.5,350.0C44.8,358.7 46.2,371.7 47.6,380.0C49.0,388.3 50.3,393.7 52.0,400.0C53.7,406.3 56.7,414.8 57.6,417.7M57.6,417.7C58.2,419.6 59.7,425.6 61.0,429.0C62.3,432.4 63.7,435.8 65.2,437.9C66.7,440.0 68.7,441.6 70.2,441.6C71.7,441.6 73.0,439.9 74.0,438.0C75.0,436.1 75.7,431.8 76.5,430.0C77.3,428.2 78.6,427.5 79.0,427.0M40.0,337.0C40.8,337.3 43.8,337.8 45.0,339.0C46.2,340.2 46.3,340.5 47.0,344.0C47.7,347.5 48.7,354.0 49.4,360.0C50.1,366.0 50.5,373.3 51.4,380.0C52.3,386.7 53.9,394.2 55.0,400.0C56.1,405.8 57.0,410.8 58.0,415.0C59.0,419.2 60.2,423.3 60.7,425.0M60.7,425.0C61.0,426.5 61.5,430.2 62.3,434.0C63.1,437.8 64.5,444.8 65.5,448.0C66.5,451.2 67.2,451.8 68.0,453.0C68.8,454.2 68.7,454.5 70.4,455.0C72.2,455.5 77.2,455.7 78.5,455.8M78.5,455.8C79.8,455.8 83.3,455.9 86.6,455.8C89.8,455.7 95.3,455.7 98.0,455.0C100.7,454.3 100.9,452.8 102.8,451.7C104.7,450.6 107.1,448.6 109.3,448.5C111.5,448.4 113.2,449.2 115.7,451.0C118.2,452.8 121.4,458.2 124.2,459.0C127.0,459.8 129.6,456.8 132.3,455.8C135.0,454.9 137.4,453.4 140.4,453.3C143.4,453.2 147.2,453.9 150.4,455.0C153.6,456.1 156.6,458.1 159.8,459.8C163.0,461.6 167.0,464.1 169.5,465.5C172.0,466.9 173.2,467.3 175.0,468.5C176.8,469.7 177.3,471.9 180.4,472.9C183.5,473.9 189.0,473.9 193.6,474.3C198.2,474.7 203.2,474.6 207.9,475.0C212.7,475.4 217.8,475.9 222.1,476.4C226.4,476.9 230.7,477.5 233.6,477.9C236.5,478.3 237.6,478.3 239.3,478.7C241.0,479.1 242.1,478.8 244.0,480.0C245.9,481.2 249.0,485.3 251.0,486.0C253.0,486.7 254.8,484.8 256.0,484.0C257.2,483.2 256.6,482.3 258.0,481.4C259.4,480.5 262.7,478.9 264.7,478.7C266.7,478.5 267.9,479.6 270.0,480.0C272.1,480.4 275.8,481.2 277.0,481.4M40.0,378.0C41.4,377.0 45.2,374.1 48.3,372.0C51.4,369.9 55.6,366.6 58.6,365.3C61.6,364.0 63.9,364.1 66.0,364.0C68.1,363.9 69.7,364.1 71.0,364.6C72.3,365.1 73.0,365.9 74.0,367.0C75.0,368.1 76.2,370.1 77.0,371.0C77.8,371.9 78.7,372.2 79.0,372.5M40.0,442.0C40.8,441.2 43.6,438.9 45.0,437.0C46.4,435.1 47.2,432.3 48.3,430.4C49.4,428.4 50.8,426.8 51.7,425.3C52.7,423.8 53.6,422.0 54.0,421.3M54.0,421.3C54.8,420.0 56.7,416.9 58.6,413.3C60.5,409.7 63.1,404.5 65.4,399.6C67.7,394.7 70.5,387.9 72.3,384.0C74.1,380.1 74.9,377.9 76.0,376.0C77.1,374.1 78.5,373.1 79.0,372.5M79.0,372.5C79.3,372.2 79.8,369.6 81.0,371.0C82.2,372.4 84.3,376.2 86.0,380.7C87.7,385.2 89.4,391.3 91.1,397.9C92.8,404.5 94.8,414.3 96.3,420.1C97.8,425.9 99.0,430.0 100.4,432.8C101.9,435.6 103.5,436.1 105.0,437.0C106.5,437.9 108.7,438.2 109.4,438.5M40.0,414.0C41.1,413.6 44.6,412.4 46.6,411.6C48.6,410.8 50.3,410.1 51.7,409.0C53.1,407.9 53.9,406.9 55.1,404.7C56.3,402.5 57.6,398.3 59.0,396.0C60.4,393.7 62.4,391.7 63.7,391.0C65.0,390.3 65.8,390.9 67.0,392.0C68.2,393.1 69.4,394.6 70.6,397.9C71.8,401.2 72.9,407.9 74.0,411.6C75.1,415.3 76.6,417.4 77.4,420.0C78.2,422.6 78.7,425.8 79.0,427.0M79.0,427.0C80.0,427.1 83.5,427.4 85.3,427.5C87.1,427.6 87.6,427.1 90.0,427.5C92.4,427.9 96.8,428.7 99.5,429.9C102.2,431.1 104.3,433.4 106.0,434.7C107.7,436.0 108.0,437.9 109.4,437.5C110.8,437.1 112.6,433.2 114.5,432.3C116.4,431.4 119.4,432.0 121.0,432.3C122.6,432.6 123.5,433.7 124.0,434.0M124.0,434.0C124.6,434.4 125.2,434.6 127.4,436.3C129.6,438.0 133.8,442.1 137.1,444.4C140.3,446.7 144.7,449.0 146.9,450.1C149.1,451.2 149.8,450.9 150.4,451.0M120.0,434.0C120.4,433.5 121.7,432.3 122.5,431.0C123.3,429.7 124.2,427.8 125.0,426.0C125.8,424.2 126.7,421.0 127.0,420.0M127.0,420.0C127.3,418.8 127.8,417.9 129.0,413.0C130.2,408.1 132.6,397.6 133.9,390.3C135.2,383.0 136.0,376.9 137.1,369.3C138.2,361.8 139.4,352.9 140.4,345.0C141.4,337.1 142.2,328.7 143.2,322.0C144.2,315.3 145.2,308.9 146.3,305.0C147.4,301.1 149.0,299.5 149.5,298.4M149.5,298.4C150.6,297.5 153.4,294.1 155.8,292.8C158.2,291.5 161.1,291.0 163.7,290.5C166.3,290.0 168.7,290.1 171.6,290.0C174.5,289.9 178.5,289.7 181.1,290.0C183.7,290.3 185.3,290.6 187.4,292.0C189.5,293.4 192.0,296.6 193.8,298.4C195.7,300.2 197.1,300.9 198.5,303.0C199.9,305.1 201.4,307.0 202.5,311.0C203.6,315.0 204.3,321.3 205.0,327.0C205.7,332.7 206.1,338.5 206.8,345.0C207.5,351.5 208.1,358.5 209.0,366.0C209.9,373.5 211.5,386.0 212.0,390.0M213.0,390.0C213.4,392.5 214.0,399.1 215.2,405.0C216.4,410.9 218.5,420.9 220.2,425.3C221.9,429.7 223.7,431.2 225.3,431.6C226.9,432.1 228.8,430.3 230.0,428.0C231.2,425.7 231.9,421.4 232.8,417.7C233.7,414.0 234.7,408.8 235.5,406.0C236.3,403.2 237.2,401.8 237.5,401.0M149.5,298.4C150.6,299.7 153.4,303.1 155.8,306.3C158.2,309.5 161.1,314.0 163.7,317.3C166.3,320.6 168.7,323.9 171.6,326.0C174.5,328.1 178.5,329.9 181.1,330.0C183.7,330.1 185.3,328.1 187.4,326.8C189.5,325.5 192.0,323.1 193.8,322.0C195.7,320.9 197.5,320.5 198.5,320.5C199.5,320.5 199.2,320.7 200.0,322.0C200.8,323.3 202.4,324.6 203.2,328.4C204.0,332.2 204.2,339.0 204.8,345.0C205.4,351.0 206.1,358.7 206.8,364.5C207.5,370.3 208.2,375.4 209.0,380.0C209.8,384.6 211.2,390.0 211.7,392.0M211.7,392.0C212.2,395.0 213.5,404.4 214.5,410.0C215.5,415.6 216.3,421.6 217.7,425.3C219.1,429.0 222.0,430.9 222.8,432.0M155.8,266.7C156.7,268.6 159.2,274.3 161.0,278.0C162.8,281.7 164.6,283.7 166.9,288.9C169.2,294.1 173.0,303.7 174.8,309.4C176.6,315.1 177.1,320.7 177.5,323.0M177.5,323.0C178.1,325.8 179.7,338.0 180.8,339.5C181.9,341.0 183.5,333.2 184.0,332.0M184.0,332.0C184.3,331.2 185.0,328.9 186.0,327.0C187.0,325.1 187.8,323.4 190.0,320.5C192.2,317.6 196.1,312.6 199.5,309.4C202.9,306.2 207.8,304.2 210.5,301.5C213.2,298.8 214.3,296.2 216.0,293.0C217.7,289.8 219.2,285.5 220.5,282.0C221.8,278.5 222.6,274.3 223.5,272.0C224.4,269.7 225.1,268.1 225.8,268.3C226.6,268.5 227.2,269.7 228.0,273.0C228.8,276.3 229.7,282.2 230.5,288.0C231.3,293.8 232.2,301.5 233.0,308.0C233.8,314.5 234.6,321.7 235.3,327.0C236.0,332.3 237.0,337.8 237.3,340.0M154.2,266.7C154.8,267.9 156.4,271.1 158.0,274.0C159.6,276.9 161.4,280.8 163.7,284.1C166.0,287.4 169.5,290.7 171.6,293.6C173.7,296.5 175.6,300.2 176.4,301.5M176.4,301.5C177.1,303.1 179.2,309.9 180.8,311.0C182.4,312.1 183.9,309.9 185.8,307.8C187.7,305.7 190.3,300.6 192.2,298.4C194.1,296.2 195.2,295.6 197.0,294.5C198.8,293.4 201.4,293.1 203.2,292.0C205.0,290.9 206.4,289.6 208.0,288.0C209.6,286.4 210.9,285.4 212.7,282.6C214.5,279.9 217.6,274.1 219.0,271.5C220.4,268.9 220.7,267.8 221.0,267.0M173.2,267.0C173.8,267.8 175.8,270.7 177.0,272.0C178.2,273.3 179.1,274.6 180.3,274.6C181.5,274.6 182.9,273.3 184.0,272.0C185.1,270.7 186.2,267.8 186.6,267.0M219.0,268.0C220.0,270.8 223.2,278.8 225.0,285.0C226.8,291.2 228.5,298.3 230.0,305.0C231.5,311.7 232.8,319.2 234.0,325.0C235.2,330.8 236.0,339.2 237.3,340.0C238.6,340.8 240.2,333.3 242.0,330.0C243.8,326.7 246.1,323.2 248.0,320.0C249.9,316.8 251.2,315.3 253.2,310.8C255.2,306.3 258.0,297.6 260.0,293.0C262.0,288.4 263.3,285.4 265.0,283.0C266.7,280.6 268.4,278.7 270.0,278.6C271.6,278.5 273.2,281.4 274.6,282.6C276.0,283.8 277.0,283.3 278.6,285.7C280.2,288.1 282.0,292.6 284.0,296.8C286.0,301.0 288.4,306.5 290.5,311.0C292.6,315.5 295.1,320.7 296.8,323.7C298.5,326.7 300.1,328.3 300.7,329.2M300.7,329.2C301.1,330.0 301.6,332.8 303.0,334.0C304.4,335.2 307.8,335.8 309.4,336.3C311.0,336.8 311.5,337.8 312.6,337.0C313.7,336.2 315.3,332.5 315.8,331.6M315.8,331.6C316.8,328.4 320.1,318.9 322.0,312.6C323.9,306.3 325.2,299.3 327.0,293.6C328.8,287.9 330.9,279.8 332.5,278.3C334.1,276.8 335.0,282.4 336.3,284.7C337.6,287.0 339.6,290.8 340.3,292.0M260.5,267.0C261.2,267.5 263.4,269.0 265.0,270.0C266.6,271.0 269.0,272.4 270.3,273.0C271.6,273.6 271.6,272.4 273.0,273.5C274.4,274.6 277.1,279.5 278.6,279.4C280.1,279.3 280.7,275.1 281.8,273.0C282.9,270.9 284.5,267.8 285.0,266.7M332.5,278.3C333.1,280.4 334.7,286.1 336.0,291.0C337.3,295.9 339.6,305.0 340.3,307.8M309.4,299.2C310.7,300.1 314.7,302.7 317.3,304.7C319.9,306.7 322.6,308.9 325.2,311.0C327.8,313.1 330.6,315.7 333.1,317.3C335.6,318.9 339.1,320.0 340.3,320.5M150.4,451.0C151.4,450.4 154.5,449.9 156.6,447.7C158.7,445.5 161.1,441.8 163.0,438.0C164.9,434.2 167.2,427.2 168.0,425.0M168.0,425.0C168.8,420.3 171.2,404.4 172.8,397.0C174.4,389.6 176.2,383.8 177.6,380.6C179.0,377.4 179.7,378.0 181.0,378.0C182.3,378.0 184.2,378.4 185.7,380.6C187.2,382.8 188.6,388.4 190.0,391.0C191.4,393.6 192.4,395.3 194.0,396.5C195.6,397.7 197.1,398.3 199.3,398.3C201.5,398.3 204.4,397.7 207.3,396.3C210.2,394.9 213.6,392.4 216.7,389.7C219.8,387.0 222.9,383.4 226.0,380.3C229.1,377.2 233.1,372.3 235.3,371.0C237.5,369.7 237.5,370.5 239.3,372.3C241.1,374.1 244.1,378.4 246.0,381.7C247.9,385.0 249.5,388.8 251.0,392.0C252.5,395.2 253.6,397.7 255.0,401.0C256.4,404.3 257.8,408.1 259.5,412.0C261.2,415.9 263.5,421.3 265.2,424.2C266.9,427.1 268.0,429.8 269.8,429.5C271.6,429.2 273.9,425.1 275.9,422.7C277.9,420.3 281.0,416.3 282.0,415.0M208.0,432.0C208.6,430.8 209.9,427.8 211.3,425.0C212.8,422.2 214.5,419.1 216.7,415.0C218.9,410.9 222.0,405.9 224.7,400.3C227.4,394.8 230.7,386.1 232.7,381.7C234.7,377.3 235.6,375.2 236.7,373.7C237.8,372.2 238.6,372.7 239.0,372.5M232.0,428.0C232.7,425.8 234.6,418.7 236.0,415.0C237.4,411.3 239.2,406.9 240.7,405.7C242.2,404.5 243.1,405.9 245.0,408.0C246.9,410.1 249.7,414.3 252.0,418.0C254.3,421.7 257.0,426.7 259.0,430.0C261.0,433.3 262.2,435.6 264.0,438.0C265.8,440.4 268.8,443.6 269.8,444.7M282.0,415.0C283.0,414.1 286.4,412.0 288.0,409.7C289.6,407.4 291.2,402.7 291.9,401.3M291.9,401.3C292.3,399.2 293.6,392.6 294.2,389.0C294.8,385.4 295.1,384.0 295.7,380.0C296.2,376.0 296.9,369.7 297.5,365.0C298.1,360.3 298.8,355.5 299.3,352.0C299.8,348.5 300.1,348.5 300.7,344.0C301.3,339.5 302.3,330.0 303.0,325.0C303.7,320.0 304.1,317.5 304.7,314.0C305.3,310.5 305.9,306.5 306.5,304.0C307.1,301.5 307.5,300.4 308.5,299.0C309.5,297.6 310.6,296.1 312.6,295.5C314.6,294.9 317.9,294.8 320.5,295.2C323.1,295.6 325.8,296.8 328.4,297.6C331.0,298.4 334.3,299.5 336.3,300.0C338.3,300.5 339.6,300.6 340.3,300.7M148.2,474.3C149.0,472.9 151.5,468.6 153.1,466.2C154.7,463.8 156.4,463.5 158.0,459.7C159.6,455.9 161.2,448.9 162.8,443.5C164.4,438.1 166.2,431.4 167.7,427.4C169.2,423.4 170.1,421.2 171.7,419.3C173.3,417.4 175.7,416.3 177.4,416.0C179.2,415.7 180.6,415.8 182.2,417.7C183.8,419.6 185.5,423.4 187.1,427.4C188.7,431.4 190.4,438.7 192.0,441.9C193.6,445.1 195.2,445.9 196.8,446.8C198.4,447.8 199.4,448.2 201.6,447.6C203.8,447.1 207.3,445.1 209.7,443.5C212.1,441.9 214.6,438.8 216.2,437.9C217.8,437.0 218.9,437.9 219.4,437.9M219.4,437.9C220.1,439.3 222.2,444.3 223.6,446.4C225.0,448.5 226.3,449.7 227.9,450.7C229.5,451.7 231.1,451.9 233.0,452.3C234.9,452.8 238.2,453.2 239.3,453.4M221.0,427.4C221.8,426.6 224.3,425.4 225.9,422.5C227.5,419.6 228.7,413.5 230.3,410.0C231.9,406.5 233.2,401.8 235.3,401.4C237.4,401.0 240.5,405.7 242.9,407.7C245.3,409.7 247.9,411.0 250.0,413.5C252.1,416.0 254.0,420.0 255.5,422.8C257.0,425.6 256.7,426.7 259.1,430.3C261.5,433.9 266.8,442.9 269.8,444.7C272.9,446.5 274.9,442.4 277.4,441.0C279.9,439.6 282.4,438.2 285.0,436.4C287.6,434.6 290.1,430.8 292.7,430.3C295.2,429.8 297.5,432.2 300.3,433.3C303.1,434.4 306.4,435.6 309.4,437.1C312.4,438.6 315.2,440.9 318.5,442.5C321.8,444.1 325.6,446.2 329.2,447.0C332.8,447.8 338.1,447.0 339.9,447.0M309.4,437.1C310.3,436.4 313.2,434.4 315.0,433.0C316.8,431.6 317.6,431.7 320.0,428.7C322.4,425.7 326.6,419.1 329.2,415.0C331.8,410.9 333.5,407.1 335.3,404.4C337.1,401.7 339.1,399.9 339.9,399.0M317.0,451.6C318.5,450.6 323.1,447.1 326.2,445.5C329.2,443.9 333.0,442.4 335.3,441.7C337.6,440.9 339.1,441.1 339.9,441.0M39.6,455.8C41.5,455.4 47.2,454.1 51.0,453.3C54.8,452.5 59.8,451.1 62.3,450.9C64.8,450.7 64.7,451.3 66.0,452.0C67.3,452.7 69.7,454.5 70.4,455.0M39.6,453.3C40.7,454.2 43.6,456.4 46.0,459.0C48.4,461.6 52.8,467.1 54.2,468.7M54.2,468.7C55.3,469.5 58.0,472.4 60.7,473.6C63.4,474.8 67.4,475.2 70.4,476.0C73.4,476.8 75.0,477.7 78.5,478.4C82.0,479.1 87.8,479.8 91.4,480.0C95.0,480.2 98.6,479.6 100.0,479.5M100.0,479.5C101.5,479.3 106.3,478.3 109.3,478.4C112.3,478.5 116.5,479.7 118.0,480.0M118.0,480.0C119.6,480.3 123.7,481.4 127.4,481.7C131.1,482.0 138.2,481.7 140.4,481.7M140.4,481.7C142.1,481.4 147.7,480.6 150.4,480.0C153.1,479.4 154.2,479.2 156.6,478.4C159.0,477.6 161.2,476.5 164.7,475.2C168.2,473.9 175.4,471.1 177.6,470.3M39.6,462.2C42.0,462.5 49.6,463.3 54.2,463.9C58.8,464.4 63.0,465.9 67.1,465.5C71.1,465.1 75.2,461.9 78.5,461.4C81.8,460.8 83.1,461.3 86.6,462.2C90.1,463.1 95.7,465.5 99.5,467.0C103.3,468.5 106.2,470.4 109.3,471.2C112.4,472.0 115.5,471.6 118.0,472.0C120.5,472.4 120.5,473.7 124.2,473.6C127.9,473.5 136.0,472.0 140.4,471.2C144.8,470.4 147.2,469.6 150.4,468.7C153.6,467.8 156.6,467.0 159.8,465.5C163.0,464.0 166.2,461.2 169.5,459.8C172.8,458.4 176.2,457.9 179.3,457.4C182.4,456.9 186.6,456.7 188.0,456.6M39.6,473.6C41.5,473.6 47.2,474.2 51.0,473.6C54.8,473.1 59.1,471.8 62.3,470.3C65.5,468.8 67.7,466.2 70.4,464.7C73.1,463.2 77.2,461.9 78.5,461.4M39.6,480.5C41.0,480.4 44.7,480.2 47.7,480.0C50.7,479.8 53.6,479.3 57.4,479.0C61.2,478.7 66.9,478.2 70.4,478.4C73.9,478.6 77.2,479.7 78.5,480.0M78.5,480.0C80.7,480.2 87.8,481.0 91.4,481.0C95.0,481.0 98.6,480.2 100.0,480.0M100.0,480.0C100.8,479.8 103.5,478.9 105.0,478.5C106.5,478.1 107.8,477.5 109.3,477.5C110.8,477.5 112.5,477.9 114.0,478.3C115.5,478.7 117.3,479.7 118.0,480.0M39.6,486.0C41.0,485.8 45.1,485.4 47.7,485.0C50.3,484.6 52.6,484.0 55.0,483.5C57.4,483.0 60.8,482.2 62.0,482.0M39.6,477.6C41.0,477.7 45.3,477.4 47.7,478.4C50.1,479.3 51.8,481.8 54.2,483.3C56.6,484.8 59.6,486.4 62.3,487.3C65.0,488.2 67.7,488.3 70.4,489.0C73.1,489.7 75.8,491.3 78.5,491.4C81.2,491.5 83.6,490.6 86.6,489.8C89.6,489.0 93.6,486.6 96.3,486.5C99.0,486.4 100.6,488.3 102.8,489.0C105.0,489.7 106.8,490.2 109.3,490.6C111.8,491.0 115.0,491.3 118.0,491.4C121.0,491.5 124.8,492.3 127.4,491.4C130.1,490.4 131.7,487.3 133.9,485.7C136.1,484.1 139.3,482.4 140.4,481.7M47.7,478.4C48.8,479.8 52.0,482.7 54.2,486.5C56.4,490.3 59.4,497.4 60.7,501.0C62.1,504.6 62.0,506.8 62.3,508.0M52.6,481.7C53.4,483.6 56.0,489.2 57.4,493.0C58.8,496.8 59.9,501.9 60.7,504.4C61.5,506.9 61.8,507.4 62.0,508.0M47.7,508.0C48.9,507.2 52.6,504.4 55.0,503.0C57.4,501.6 59.8,500.8 62.3,499.5C64.8,498.2 67.3,496.4 70.0,495.0C72.7,493.6 77.1,492.0 78.5,491.4M62.3,502.7C63.6,503.2 67.7,505.2 70.4,506.0C73.1,506.8 75.3,507.6 78.5,507.6C81.7,507.6 85.8,507.6 89.8,506.0C93.8,504.4 99.5,499.5 102.8,497.9C106.0,496.3 106.8,496.6 109.3,496.3C111.8,496.0 116.0,496.9 118.0,496.3C120.0,495.8 119.4,493.8 121.0,493.0C122.6,492.2 125.2,492.6 127.4,491.4C129.6,490.2 131.8,487.4 133.9,485.7C136.0,484.0 139.0,481.8 140.0,481.0M89.0,487.2C90.0,486.9 92.9,485.8 94.7,485.7C96.5,485.6 98.3,485.9 100.0,486.3C101.7,486.7 104.2,487.7 105.0,488.0M39.6,505.0C40.7,504.5 43.6,502.8 46.0,502.0C48.4,501.2 52.7,500.3 54.0,500.0M108.0,497.9C109.3,498.0 113.3,498.2 116.0,498.7C118.7,499.2 121.8,499.8 124.2,501.0C126.7,502.2 129.1,504.5 130.7,506.0C132.3,507.5 133.4,509.3 134.0,510.0M108.0,501.0C110.2,501.3 117.2,501.6 121.0,502.7C124.8,503.8 129.1,506.8 130.7,507.6M153.3,448.5C155.2,447.6 161.6,443.9 164.7,442.8C167.8,441.7 169.4,442.4 172.0,442.0C174.6,441.6 175.8,440.9 180.4,440.7C185.0,440.5 195.4,441.3 199.3,440.7C203.2,440.1 202.3,438.4 203.6,437.0C204.9,435.6 206.4,432.8 207.0,432.0M188.0,456.6C188.9,456.5 190.3,456.0 193.6,455.7C196.9,455.4 203.2,455.7 207.9,455.0C212.7,454.3 218.1,451.9 222.1,451.4C226.1,450.9 229.2,451.8 232.1,452.1C235.0,452.4 236.3,453.0 239.3,453.4C242.3,453.8 246.4,454.3 250.0,454.7C253.6,455.1 258.0,456.2 260.7,456.0C263.4,455.8 264.4,454.2 266.0,453.4C267.6,452.6 268.7,451.2 270.0,451.3C271.3,451.4 272.8,452.9 274.0,454.0C275.2,455.1 276.5,457.3 277.0,458.0M150.4,455.0C151.7,455.8 155.6,458.1 158.0,459.5C160.4,460.9 162.4,462.7 165.0,463.6C167.6,464.5 171.0,465.0 173.6,465.0C176.2,465.0 177.1,464.1 180.4,463.6C183.7,463.1 189.0,462.2 193.6,462.1C198.2,462.0 203.2,462.4 207.9,462.9C212.7,463.4 217.8,465.2 222.1,465.0C226.4,464.8 230.7,462.0 233.6,461.4C236.5,460.8 236.6,460.9 239.3,461.1C242.0,461.3 246.9,461.6 250.0,462.7C253.1,463.8 255.6,466.4 258.0,468.0C260.4,469.6 262.7,471.3 264.7,472.0C266.7,472.7 267.9,471.9 270.0,472.0C272.1,472.1 275.8,472.6 277.0,472.7M170.0,458.5C171.3,457.9 175.2,456.1 177.9,455.0C180.6,453.9 183.8,452.9 186.4,452.1C189.0,451.3 191.4,450.5 193.6,450.0C195.8,449.5 197.4,448.5 199.3,449.3C201.2,450.1 202.9,452.4 205.0,455.0C207.1,457.6 209.7,462.4 212.1,465.0C214.5,467.6 216.4,469.1 219.3,470.7C222.2,472.2 226.0,473.2 229.3,474.3C232.6,475.4 236.5,475.7 239.3,477.1C242.1,478.5 243.8,480.8 246.0,482.7C248.2,484.6 250.7,486.7 252.7,488.7C254.7,490.7 256.6,493.4 258.0,494.7C259.4,496.0 260.5,496.4 261.0,496.7M261.0,496.7C261.6,496.1 263.2,494.5 264.7,493.4C266.2,492.3 267.9,490.7 270.0,490.0C272.1,489.3 275.8,489.5 277.0,489.4M177.6,470.3C180.3,470.1 188.5,470.1 193.6,469.3C198.7,468.5 203.2,466.6 207.9,465.7C212.7,464.8 217.8,464.3 222.1,463.6C226.4,462.9 231.7,461.8 233.6,461.4M150.4,478.4C151.4,477.9 154.2,475.5 156.6,475.2C159.0,474.9 160.7,476.2 164.7,476.8C168.7,477.4 175.6,478.4 180.4,478.6C185.2,478.8 189.0,478.0 193.6,477.9C198.2,477.8 203.2,477.2 207.9,477.9C212.7,478.6 217.8,480.9 222.1,482.1C226.4,483.3 230.6,484.2 233.6,485.0C236.6,485.8 237.3,486.3 240.0,487.0C242.7,487.7 247.0,488.4 250.0,489.4C253.0,490.4 256.0,491.9 258.0,493.0C260.0,494.1 261.3,495.5 262.0,496.0M156.6,507.6C158.2,507.1 163.9,506.0 166.3,504.4C168.7,502.8 169.8,500.3 171.2,497.9C172.5,495.5 172.9,492.2 174.4,489.8C175.9,487.4 177.2,485.5 180.4,483.6C183.6,481.7 189.5,479.8 193.6,478.6C197.7,477.4 201.9,476.5 205.0,476.4C208.1,476.3 209.7,476.9 212.1,477.9C214.5,478.8 217.2,481.1 219.3,482.1C221.5,483.1 224.1,483.7 225.0,484.0M150.4,484.1C152.2,484.2 157.7,484.6 161.4,484.9C165.1,485.2 169.6,485.4 172.8,485.7C176.0,485.9 176.9,486.2 180.4,486.4C183.9,486.6 189.0,487.1 193.6,487.1C198.2,487.1 203.2,486.9 207.9,486.4C212.7,485.9 217.3,485.5 222.1,484.3C226.8,483.1 233.5,480.2 236.4,479.3C239.3,478.4 238.8,478.8 239.3,478.7M180.4,482.1C182.6,483.1 190.2,486.8 193.6,487.9C197.0,489.0 198.0,488.8 200.7,488.6C203.4,488.5 205.9,487.9 210.0,487.0C214.1,486.1 221.5,484.0 225.3,483.0C229.1,482.0 231.7,481.3 233.0,481.0M210.7,479.3C211.4,481.0 213.6,485.7 215.0,489.3C216.4,492.9 218.1,497.2 219.3,500.7C220.5,504.1 221.6,508.4 222.1,510.0M207.9,482.1C209.3,484.2 214.0,490.4 216.4,495.0C218.8,499.6 221.2,507.5 222.1,510.0M215.0,510.0C216.7,508.7 221.4,505.0 225.0,502.0C228.6,499.0 233.1,494.1 236.4,492.0C239.7,489.9 242.7,489.7 245.0,489.3C247.3,488.9 249.2,489.4 250.0,489.4M238.0,512.0C238.9,511.5 241.2,510.3 243.4,509.0C245.6,507.7 248.7,505.4 251.4,504.0C254.1,502.6 258.1,501.2 259.4,500.7M259.4,500.7C260.3,501.0 262.9,501.9 264.7,502.7C266.5,503.5 268.2,504.5 270.0,505.4C271.8,506.3 274.1,507.2 275.4,508.0C276.7,508.8 277.6,509.7 278.0,510.0M205.0,512.0C206.4,511.3 210.8,509.1 213.6,507.9C216.4,506.7 219.4,505.7 222.1,505.0C224.8,504.3 228.7,503.8 230.0,503.5M148.0,510.0C149.4,509.6 153.5,508.5 156.6,507.6C159.7,506.7 164.7,504.9 166.3,504.4" fill="none" stroke="#000" stroke-width="1.6"/>
</g>
<rect x="277" y="453.5" width="62.5" height="54" fill="#fff"/>
<circle cx="288.3" cy="462.1" r="3.7" fill="#ff1c1c"/>
<circle cx="288.3" cy="480.3" r="3.7" fill="#1c1cff"/>
<circle cx="288.3" cy="498.9" r="3.7" fill="#bfcd3c"/>
<text x="298.8" y="466.9" class="lg">Te p<tspan font-size="10" dy="3">x</tspan></text>
<text x="298.8" y="485.2" class="lg">Te p<tspan font-size="10" dy="3">y</tspan></text>
<text x="298.8" y="503.6" class="lg">Te p<tspan font-size="10" dy="3">z</tspan></text>
<rect x="39.1" y="266.9" width="301.5" height="242.3" fill="none" stroke="#000" stroke-width="2"/>
<rect x="40.2" y="361.2" width="38.8" height="61.5" fill="none" stroke="#c4c4c4" stroke-width="2.6"/>
<rect x="164.2" y="360.6" width="26.8" height="63" fill="none" stroke="#7c7c7c" stroke-width="2.6"/>
<line x1="34.5" y1="267.5" x2="39" y2="267.5" stroke="#000" stroke-width="1.6"/>
<text x="34" y="272.9" class="tk" text-anchor="end">4</text>
<line x1="34.5" y1="327.2" x2="39" y2="327.2" stroke="#000" stroke-width="1.6"/>
<text x="34" y="332.59999999999997" class="tk" text-anchor="end">2</text>
<line x1="34.5" y1="387.5" x2="39" y2="387.5" stroke="#000" stroke-width="1.6"/>
<text x="34" y="392.9" class="tk" text-anchor="end">0</text>
<line x1="34.5" y1="448" x2="39" y2="448" stroke="#000" stroke-width="1.6"/>
<text x="34" y="453.4" class="tk" text-anchor="end">-2</text>
<line x1="34.5" y1="508.3" x2="39" y2="508.3" stroke="#000" stroke-width="1.6"/>
<text x="34" y="513.7" class="tk" text-anchor="end">-4</text>
<text x="40" y="524.2" class="kp" text-anchor="middle">Γ</text>
<text x="79.5" y="524.2" class="kp" text-anchor="middle">X</text>
<text x="110" y="524.2" class="kp" text-anchor="middle">S</text>
<text x="150.6" y="524.2" class="kp" text-anchor="middle">Y</text>
<text x="181" y="524.2" class="kp" text-anchor="middle">Γ</text>
<text x="200" y="524.2" class="kp" text-anchor="middle">Z</text>
<text x="239.5" y="524.2" class="kp" text-anchor="middle">U</text>
<text x="270.5" y="524.2" class="kp" text-anchor="middle">R</text>
<text x="310" y="524.2" class="kp" text-anchor="middle">T</text>
<text x="340" y="524.2" class="kp" text-anchor="middle">Z</text>
<text transform="translate(14.8,380.8) rotate(-90)" class="el" text-anchor="middle">Energy (eV)</text>
<text x="354.5" y="259.3" class="lab">d</text>
<g clip-path="url(#clipd)">
<line x1="376.3" y1="315.8" x2="498.3" y2="315.8" stroke="#8a8a8a" stroke-width="1.2"/>
<path d="M376.0,290.0C377.5,290.4 382.3,291.3 385.0,292.5C387.7,293.7 389.8,295.8 392.0,297.0C394.2,298.2 397.0,299.5 398.0,300.0" fill="none" stroke="#8080ff" stroke-width="1.2" stroke-linecap="round" stroke-linejoin="round" stroke-opacity="0.15"/>
<circle cx="397.9" cy="268.0" r="2.40" fill="#ff2020" fill-opacity="0.33" stroke="#ff2020" stroke-width="1.2" stroke-opacity="0.95"/><circle cx="398.5" cy="270.4" r="2.38" fill="#ff2020" fill-opacity="0.33" stroke="#ff2020" stroke-width="1.2" stroke-opacity="0.94"/><circle cx="399.2" cy="272.8" r="2.36" fill="#ff2020" fill-opacity="0.32" stroke="#ff2020" stroke-width="1.2" stroke-opacity="0.92"/><circle cx="399.8" cy="275.3" r="2.34" fill="#ff2020" fill-opacity="0.32" stroke="#ff2020" stroke-width="1.2" stroke-opacity="0.91"/><circle cx="400.4" cy="277.7" r="2.32" fill="#ff2020" fill-opacity="0.31" stroke="#ff2020" stroke-width="1.2" stroke-opacity="0.90"/><circle cx="401.1" cy="280.1" r="2.30" fill="#ff2020" fill-opacity="0.31" stroke="#ff2020" stroke-width="1.2" stroke-opacity="0.89"/><circle cx="401.7" cy="282.5" r="2.28" fill="#ff2020" fill-opacity="0.31" stroke="#ff2020" stroke-width="1.2" stroke-opacity="0.87"/><circle cx="402.3" cy="284.9" r="2.26" fill="#ff2020" fill-opacity="0.30" stroke="#ff2020" stroke-width="1.2" stroke-opacity="0.86"/><circle cx="403.0" cy="287.3" r="2.24" fill="#ff2020" fill-opacity="0.30" stroke="#ff2020" stroke-width="1.2" stroke-opacity="0.85"/><circle cx="403.6" cy="289.8" r="2.22" fill="#ff2020" fill-opacity="0.29" stroke="#ff2020" stroke-width="1.2" stroke-opacity="0.84"/><circle cx="404.3" cy="292.2" r="2.20" fill="#ff2020" fill-opacity="0.29" stroke="#ff2020" stroke-width="1.2" stroke-opacity="0.82"/><circle cx="405.0" cy="294.6" r="2.18" fill="#ff2020" fill-opacity="0.28" stroke="#ff2020" stroke-width="1.2" stroke-opacity="0.81"/><circle cx="405.7" cy="297.0" r="2.16" fill="#ff2020" fill-opacity="0.28" stroke="#ff2020" stroke-width="1.2" stroke-opacity="0.80"/><circle cx="406.5" cy="299.3" r="2.14" fill="#ff2020" fill-opacity="0.27" stroke="#ff2020" stroke-width="1.2" stroke-opacity="0.78"/><circle cx="407.2" cy="301.7" r="2.12" fill="#ff2020" fill-opacity="0.27" stroke="#ff2020" stroke-width="1.2" stroke-opacity="0.77"/><circle cx="407.9" cy="304.1" r="2.10" fill="#ff2020" fill-opacity="0.27" stroke="#ff2020" stroke-width="1.2" stroke-opacity="0.76"/><circle cx="408.6" cy="306.5" r="2.07" fill="#ff2020" fill-opacity="0.26" stroke="#ff2020" stroke-width="1.2" stroke-opacity="0.75"/><circle cx="409.3" cy="308.9" r="2.05" fill="#ff2020" fill-opacity="0.26" stroke="#ff2020" stroke-width="1.2" stroke-opacity="0.73"/><circle cx="410.1" cy="311.3" r="2.03" fill="#ff2020" fill-opacity="0.25" stroke="#ff2020" stroke-width="1.2" stroke-opacity="0.72"/><circle cx="410.8" cy="313.7" r="2.01" fill="#ff2020" fill-opacity="0.25" stroke="#ff2020" stroke-width="1.2" stroke-opacity="0.71"/><circle cx="411.5" cy="316.1" r="1.99" fill="#ff2020" fill-opacity="0.24" stroke="#ff2020" stroke-width="1.2" stroke-opacity="0.70"/><circle cx="412.2" cy="318.5" r="1.97" fill="#ff2020" fill-opacity="0.24" stroke="#ff2020" stroke-width="1.2" stroke-opacity="0.68"/><circle cx="412.9" cy="320.9" r="1.95" fill="#ff2020" fill-opacity="0.23" stroke="#ff2020" stroke-width="1.2" stroke-opacity="0.67"/><circle cx="413.6" cy="323.3" r="1.93" fill="#ff2020" fill-opacity="0.23" stroke="#ff2020" stroke-width="1.2" stroke-opacity="0.66"/><circle cx="414.3" cy="325.7" r="1.91" fill="#ff2020" fill-opacity="0.23" stroke="#ff2020" stroke-width="1.2" stroke-opacity="0.65"/><circle cx="415.0" cy="328.1" r="1.89" fill="#ff2020" fill-opacity="0.22" stroke="#ff2020" stroke-width="1.2" stroke-opacity="0.63"/><circle cx="415.7" cy="330.5" r="1.87" fill="#ff2020" fill-opacity="0.22" stroke="#ff2020" stroke-width="1.2" stroke-opacity="0.62"/><circle cx="416.3" cy="332.9" r="1.85" fill="#ff2020" fill-opacity="0.21" stroke="#ff2020" stroke-width="1.2" stroke-opacity="0.61"/><circle cx="416.9" cy="335.4" r="1.83" fill="#ff2020" fill-opacity="0.21" stroke="#ff2020" stroke-width="1.2" stroke-opacity="0.59"/><circle cx="417.5" cy="337.8" r="1.81" fill="#ff2020" fill-opacity="0.20" stroke="#ff2020" stroke-width="1.2" stroke-opacity="0.58"/><circle cx="418.1" cy="340.2" r="1.79" fill="#ff2020" fill-opacity="0.20" stroke="#ff2020" stroke-width="1.2" stroke-opacity="0.57"/><circle cx="418.7" cy="342.6" r="1.77" fill="#ff2020" fill-opacity="0.19" stroke="#ff2020" stroke-width="1.2" stroke-opacity="0.56"/><circle cx="419.3" cy="345.1" r="1.75" fill="#ff2020" fill-opacity="0.19" stroke="#ff2020" stroke-width="1.2" stroke-opacity="0.54"/><circle cx="419.9" cy="347.5" r="1.73" fill="#ff2020" fill-opacity="0.19" stroke="#ff2020" stroke-width="1.2" stroke-opacity="0.53"/><circle cx="420.5" cy="349.9" r="1.71" fill="#ff2020" fill-opacity="0.18" stroke="#ff2020" stroke-width="1.2" stroke-opacity="0.52"/><circle cx="421.1" cy="352.4" r="1.69" fill="#ff2020" fill-opacity="0.18" stroke="#ff2020" stroke-width="1.2" stroke-opacity="0.51"/><circle cx="421.7" cy="354.8" r="1.67" fill="#ff2020" fill-opacity="0.17" stroke="#ff2020" stroke-width="1.2" stroke-opacity="0.49"/><circle cx="422.2" cy="357.2" r="1.65" fill="#ff2020" fill-opacity="0.17" stroke="#ff2020" stroke-width="1.2" stroke-opacity="0.48"/><circle cx="422.8" cy="359.7" r="1.63" fill="#ff2020" fill-opacity="0.16" stroke="#ff2020" stroke-width="1.2" stroke-opacity="0.47"/><circle cx="423.4" cy="362.1" r="1.61" fill="#ff2020" fill-opacity="0.16" stroke="#ff2020" stroke-width="1.2" stroke-opacity="0.45"/>
<circle cx="413.0" cy="268.0" r="2.10" fill="#ff2020" fill-opacity="0.30" stroke="#ff2020" stroke-width="1.1" stroke-opacity="0.85"/><circle cx="413.7" cy="270.4" r="2.07" fill="#ff2020" fill-opacity="0.29" stroke="#ff2020" stroke-width="1.1" stroke-opacity="0.82"/><circle cx="414.4" cy="272.8" r="2.04" fill="#ff2020" fill-opacity="0.27" stroke="#ff2020" stroke-width="1.1" stroke-opacity="0.78"/><circle cx="415.1" cy="275.2" r="2.02" fill="#ff2020" fill-opacity="0.26" stroke="#ff2020" stroke-width="1.1" stroke-opacity="0.75"/><circle cx="415.8" cy="277.6" r="1.99" fill="#ff2020" fill-opacity="0.25" stroke="#ff2020" stroke-width="1.1" stroke-opacity="0.71"/><circle cx="416.5" cy="280.0" r="1.96" fill="#ff2020" fill-opacity="0.24" stroke="#ff2020" stroke-width="1.1" stroke-opacity="0.68"/><circle cx="417.2" cy="282.4" r="1.93" fill="#ff2020" fill-opacity="0.22" stroke="#ff2020" stroke-width="1.1" stroke-opacity="0.64"/><circle cx="417.9" cy="284.8" r="1.91" fill="#ff2020" fill-opacity="0.21" stroke="#ff2020" stroke-width="1.1" stroke-opacity="0.61"/><circle cx="418.6" cy="287.2" r="1.88" fill="#ff2020" fill-opacity="0.20" stroke="#ff2020" stroke-width="1.1" stroke-opacity="0.57"/><circle cx="419.3" cy="289.6" r="1.85" fill="#ff2020" fill-opacity="0.19" stroke="#ff2020" stroke-width="1.1" stroke-opacity="0.54"/><circle cx="420.0" cy="292.0" r="1.82" fill="#ff2020" fill-opacity="0.18" stroke="#ff2020" stroke-width="1.1" stroke-opacity="0.50"/><circle cx="420.7" cy="294.4" r="1.80" fill="#ff2020" fill-opacity="0.16" stroke="#ff2020" stroke-width="1.1" stroke-opacity="0.47"/><circle cx="421.4" cy="296.8" r="1.77" fill="#ff2020" fill-opacity="0.15" stroke="#ff2020" stroke-width="1.1" stroke-opacity="0.43"/><circle cx="422.1" cy="299.2" r="1.74" fill="#ff2020" fill-opacity="0.14" stroke="#ff2020" stroke-width="1.1" stroke-opacity="0.40"/><circle cx="422.9" cy="301.6" r="1.71" fill="#ff2020" fill-opacity="0.13" stroke="#ff2020" stroke-width="1.1" stroke-opacity="0.37"/><circle cx="424.0" cy="303.8" r="1.68" fill="#ff2020" fill-opacity="0.12" stroke="#ff2020" stroke-width="1.1" stroke-opacity="0.33"/><circle cx="425.1" cy="306.0" r="1.66" fill="#ff2020" fill-opacity="0.10" stroke="#ff2020" stroke-width="1.1" stroke-opacity="0.30"/><circle cx="426.2" cy="308.3" r="1.63" fill="#ff2020" fill-opacity="0.09" stroke="#ff2020" stroke-width="1.1" stroke-opacity="0.26"/><circle cx="427.3" cy="310.5" r="1.60" fill="#ff2020" fill-opacity="0.08" stroke="#ff2020" stroke-width="1.1" stroke-opacity="0.23"/><circle cx="429.5" cy="309.7" r="1.57" fill="#ff2020" fill-opacity="0.07" stroke="#ff2020" stroke-width="1.1" stroke-opacity="0.19"/><circle cx="431.5" cy="308.3" r="1.55" fill="#ff2020" fill-opacity="0.06" stroke="#ff2020" stroke-width="1.1" stroke-opacity="0.16"/><circle cx="433.0" cy="306.3" r="1.52" fill="#ff2020" fill-opacity="0.04" stroke="#ff2020" stroke-width="1.1" stroke-opacity="0.12"/>
<circle cx="418.8" cy="333.6" r="1.70" fill="#ff2020" fill-opacity="0.14" stroke="#ff2020" stroke-width="1.0" stroke-opacity="0.40"/><circle cx="420.6" cy="335.5" r="1.70" fill="#ff2020" fill-opacity="0.14" stroke="#ff2020" stroke-width="1.0" stroke-opacity="0.39"/><circle cx="422.4" cy="337.3" r="1.70" fill="#ff2020" fill-opacity="0.13" stroke="#ff2020" stroke-width="1.0" stroke-opacity="0.38"/><circle cx="424.2" cy="339.2" r="1.70" fill="#ff2020" fill-opacity="0.13" stroke="#ff2020" stroke-width="1.0" stroke-opacity="0.37"/><circle cx="426.1" cy="341.1" r="1.70" fill="#ff2020" fill-opacity="0.12" stroke="#ff2020" stroke-width="1.0" stroke-opacity="0.36"/><circle cx="427.9" cy="342.9" r="1.70" fill="#ff2020" fill-opacity="0.12" stroke="#ff2020" stroke-width="1.0" stroke-opacity="0.35"/><circle cx="429.7" cy="344.7" r="1.70" fill="#ff2020" fill-opacity="0.12" stroke="#ff2020" stroke-width="1.0" stroke-opacity="0.33"/><circle cx="431.0" cy="347.0" r="1.70" fill="#ff2020" fill-opacity="0.11" stroke="#ff2020" stroke-width="1.0" stroke-opacity="0.32"/><circle cx="432.2" cy="349.3" r="1.70" fill="#ff2020" fill-opacity="0.11" stroke="#ff2020" stroke-width="1.0" stroke-opacity="0.31"/><circle cx="433.3" cy="351.6" r="1.70" fill="#ff2020" fill-opacity="0.11" stroke="#ff2020" stroke-width="1.0" stroke-opacity="0.30"/><circle cx="434.4" cy="354.0" r="1.70" fill="#ff2020" fill-opacity="0.10" stroke="#ff2020" stroke-width="1.0" stroke-opacity="0.29"/><circle cx="435.3" cy="356.4" r="1.70" fill="#ff2020" fill-opacity="0.10" stroke="#ff2020" stroke-width="1.0" stroke-opacity="0.28"/><circle cx="436.3" cy="358.8" r="1.70" fill="#ff2020" fill-opacity="0.09" stroke="#ff2020" stroke-width="1.0" stroke-opacity="0.27"/><circle cx="437.2" cy="361.3" r="1.70" fill="#ff2020" fill-opacity="0.09" stroke="#ff2020" stroke-width="1.0" stroke-opacity="0.26"/>
<path d="M374.0,302.0C375.8,302.0 381.7,302.2 385.0,302.0C388.3,301.8 391.5,301.6 394.0,301.0C396.5,300.4 397.1,299.5 399.8,298.3C402.5,297.1 406.6,295.2 410.0,294.0C413.4,292.8 416.7,291.9 420.0,291.0C423.3,290.1 426.3,289.7 430.0,288.5C433.7,287.3 438.3,285.2 442.4,283.6C446.5,282.0 450.7,279.8 454.8,278.6C458.9,277.4 464.1,276.7 467.2,276.4C470.3,276.1 470.3,276.0 473.4,276.8C476.5,277.6 482.3,279.4 485.8,281.1C489.3,282.9 492.4,285.9 494.4,287.3C496.3,288.8 497.0,289.4 497.5,289.8" fill="none" stroke="#1c1cff" stroke-width="4.8" stroke-linecap="round" stroke-linejoin="round" />
<path d="M497.5,289.8C497.2,290.1 497.6,289.5 495.7,291.6C493.8,293.7 488.9,298.8 485.8,302.2C482.7,305.6 479.6,309.4 477.1,312.1C474.6,314.8 473.4,315.3 470.9,318.3C468.4,321.3 464.8,326.8 462.2,330.0C459.6,333.2 458.0,334.2 455.0,337.4C452.0,340.6 447.7,345.0 444.0,349.0C440.3,353.0 434.9,359.0 432.6,361.5C430.3,364.0 430.4,363.6 430.0,364.0" fill="none" stroke="#1c1cff" stroke-width="3.8" stroke-linecap="round" stroke-linejoin="round" />
<path d="M418.8,335.5C419.8,335.2 422.6,334.5 424.5,333.6C426.4,332.7 428.1,331.7 430.0,330.0C431.9,328.3 433.5,324.9 436.2,323.2C438.9,321.4 443.0,320.0 446.1,319.5C449.2,319.0 452.1,319.5 454.8,320.1C457.5,320.7 459.9,321.7 462.2,323.2C464.5,324.7 466.6,327.3 468.4,329.0C470.2,330.7 472.2,332.8 473.0,333.5" fill="none" stroke="#bfcd3c" stroke-width="4.6" stroke-linecap="round" stroke-linejoin="round" />
<path d="M473.0,333.5C474.2,334.9 478.0,339.1 480.0,342.0C482.0,344.9 483.2,347.3 485.0,351.0C486.8,354.7 490.0,361.8 491.0,364.0" fill="none" stroke="#bfcd3c" stroke-width="3.6" stroke-linecap="round" stroke-linejoin="round" />
<path d="M374.0,358.6C376.7,357.9 385.7,355.6 390.0,354.5C394.3,353.4 397.7,352.7 400.0,352.2C402.3,351.7 402.4,352.3 403.6,351.5C404.8,350.7 406.2,348.7 407.4,347.5C408.6,346.3 409.7,345.2 411.0,344.5C412.3,343.8 413.7,342.8 415.0,343.0C416.3,343.2 418.2,345.1 418.8,345.5" fill="none" stroke="#bfcd3c" stroke-width="4.6" stroke-linecap="round" stroke-linejoin="round" />
</g>
<rect x="376.3" y="268.5" width="122" height="94.2" fill="none" stroke="#b8b8b8" stroke-width="1.6"/>
<line x1="445" y1="308.3" x2="436" y2="313.9" stroke="#000" stroke-width="2.3"/>
<polygon points="430.3,317.6 435,310.2 439.2,316.6" fill="#000"/>
<text x="371.8" y="273.7" class="tk" text-anchor="end">1</text>
<line x1="372.3" y1="268.3" x2="376.3" y2="268.3" stroke="#b8b8b8" stroke-width="1.5"/>
<text x="371.8" y="320.9" class="tk" text-anchor="end">0</text>
<line x1="372.3" y1="315.5" x2="376.3" y2="315.5" stroke="#b8b8b8" stroke-width="1.5"/>
<text x="371.8" y="366.6" class="tk" text-anchor="end">-1</text>
<line x1="372.3" y1="361.20000000000005" x2="376.3" y2="361.20000000000005" stroke="#b8b8b8" stroke-width="1.5"/>
<text x="376" y="376.9" class="kp2">Γ</text>
<text x="489.5" y="376.9" class="kp2">X</text>
<text x="515.5" y="259.8" class="lab">e</text>
<g clip-path="url(#clipe)">
<line x1="539" y1="315.8" x2="670.3" y2="315.8" stroke="#888" stroke-width="1.2"/>
<line x1="622.5" y1="268.5" x2="622.5" y2="362.7" stroke="#777" stroke-width="1.3"/>
<path d="M590.0,301.0C593.7,299.5 606.1,293.6 612.3,291.8C618.5,290.1 617.7,291.9 627.2,290.5C636.7,289.1 662.4,284.8 669.4,283.7" fill="none" stroke="#9090ff" stroke-width="1.2" stroke-linecap="round" stroke-linejoin="round" stroke-opacity="0.12"/>
<path d="M630.0,304.0C633.7,304.7 645.5,306.7 652.0,308.0C658.5,309.3 666.2,311.3 669.0,312.0" fill="none" stroke="#9090ff" stroke-width="1.6" stroke-linecap="round" stroke-linejoin="round" stroke-opacity="0.2"/>
<path d="M557.0,364.0C559.2,361.6 566.2,353.8 570.0,349.5C573.8,345.2 576.7,342.2 580.0,338.3C583.3,334.4 587.1,329.6 590.0,326.0C592.9,322.4 596.2,318.1 597.4,316.5" fill="none" stroke="#3030ff" stroke-width="2.6" stroke-linecap="round" stroke-linejoin="round" stroke-opacity="0.85"/>
<path d="M594.5,320.0C595.0,319.4 595.7,318.4 597.4,316.5C599.1,314.6 602.4,310.6 604.9,308.5C607.4,306.4 609.8,305.2 612.3,304.2C614.8,303.2 617.3,302.6 619.8,302.3C622.3,302.0 623.9,301.9 627.2,302.3C630.5,302.7 635.5,303.6 639.6,304.8C643.7,306.1 647.0,307.6 652.0,309.8C657.0,312.0 666.1,316.3 669.4,317.8C672.7,319.3 671.6,318.8 672.0,319.0" fill="none" stroke="#1c1cff" stroke-width="3.2" stroke-linecap="butt"/>
<path d="M600.0,313.0C600.8,312.2 602.9,310.0 604.9,308.5C606.9,307.0 609.8,305.2 612.3,304.2C614.8,303.2 617.3,302.6 619.8,302.3C622.3,302.0 623.9,301.9 627.2,302.3C630.5,302.7 635.5,303.6 639.6,304.8C643.7,306.1 647.0,307.6 652.0,309.8C657.0,312.0 666.1,316.3 669.4,317.8C672.7,319.3 671.6,318.8 672.0,319.0" fill="none" stroke="#1c1cff" stroke-width="4.6" stroke-linecap="butt"/>
<path d="M572.0,367.0C573.0,366.1 575.0,362.9 578.0,361.6C581.0,360.4 585.5,359.9 590.0,359.5C594.5,359.1 599.7,359.1 605.0,359.1C610.3,359.2 617.3,359.4 622.0,359.8C626.7,360.2 629.7,360.3 633.0,361.5C636.3,362.7 640.5,366.1 642.0,367.0" fill="none" stroke="#bfcd3c" stroke-width="6.2" stroke-linecap="round" stroke-linejoin="round" />
</g>
<rect x="539" y="268.5" width="131.3" height="94.2" fill="none" stroke="#868686" stroke-width="1.6"/>
<text x="533.6" y="273.6" class="tk" text-anchor="end">1</text>
<line x1="535" y1="268.3" x2="539" y2="268.3" stroke="#868686" stroke-width="1.5"/>
<text x="533.6" y="320.9" class="tk" text-anchor="end">0</text>
<line x1="535" y1="315.59999999999997" x2="539" y2="315.59999999999997" stroke="#868686" stroke-width="1.5"/>
<text x="533.6" y="366.6" class="tk" text-anchor="end">-1</text>
<line x1="535" y1="361.3" x2="539" y2="361.3" stroke="#868686" stroke-width="1.5"/>
<text x="580" y="377.5" class="kp">Y</text>
<text x="618.6" y="377.5" class="kp">Γ</text>
<text x="651.4" y="377.5" class="kp">Z</text>
<line x1="598" y1="372.3" x2="609.7" y2="372.3" stroke="#000" stroke-width="2.6"/>
<polygon points="593,372.3 600.5,367.8 600.5,376.8" fill="#000"/>
<line x1="633.3" y1="372.3" x2="644.5" y2="372.3" stroke="#000" stroke-width="2.6"/>
<polygon points="649.3,372.3 641.8,367.8 641.8,376.8" fill="#000"/>
<text x="356" y="408.9" class="lab">f</text>
<path d="M369.9,441.8L419.8,415.1M419.8,415.1L498.6,445.4M498.6,445.4L449.2,475.4M449.2,475.4L369.9,441.8M370.8,470.5L449.2,505.4M449.2,505.4L497.4,473.7M497.4,473.7L420.5,441.8M420.5,441.8L370.8,470.5M369.9,441.8L370.8,470.5M419.8,415.1L420.5,441.8M498.6,445.4L497.4,473.7M449.2,475.4L449.2,505.4" fill="none" stroke="#1a1a1a" stroke-width="1.1"/>
<line x1="369.9" y1="441.8" x2="369.7" y2="434" stroke="#000" stroke-width="1"/>
<polygon points="369.6,430.3 367.5,435.6 371.7,435.6" fill="#000"/>
<line x1="420.5" y1="441.8" x2="426" y2="439" stroke="#000" stroke-width="1"/>
<polygon points="429.5,437.2 424,437 426.2,441.3" fill="#000"/>
<line x1="449.2" y1="505.4" x2="457" y2="508.9" stroke="#000" stroke-width="1"/>
<polygon points="461.2,510.7 455.4,511.2 457.4,506.6" fill="#000"/>
<text x="416.3" y="411.2" class="bz">T</text>
<text x="357" y="446.8" class="bz">Z</text>
<text x="414.8" y="457.5" class="bz">Y</text>
<text x="358.6" y="481.6" class="bz">Γ</text>
<text x="498.6" y="443" class="bz">R</text>
<text x="443.6" y="472" class="bz">U</text>
<text x="496.1" y="486.8" class="bz">S</text>
<text x="440.5" y="519" class="bz">X</text>
<text x="367" y="430" class="bs">c*</text>
<text x="429.8" y="442" class="bs">b*</text>
<text x="462.8" y="517.4" class="bs">a*</text>
<text x="515.5" y="407.2" class="lab">g</text>
<rect x="537.6" y="410.8" width="134.9" height="99.2" fill="none" stroke="#111" stroke-width="1.6"/>
<path d="M537.6,448.0C539.3,447.5 543.9,445.1 547.6,444.8C551.3,444.5 555.1,445.2 560.0,446.2C564.9,447.2 572.0,449.7 577.0,451.0C582.0,452.3 585.5,453.1 590.0,453.8C594.5,454.5 599.2,455.0 604.0,455.0C608.8,455.0 613.9,454.5 618.5,453.8C623.1,453.1 626.5,452.3 631.5,451.0C636.5,449.7 643.6,447.2 648.5,446.2C653.4,445.2 657.2,444.5 660.9,444.8C664.6,445.1 669.2,447.5 670.9,448.0" fill="none" stroke="#2222e8" stroke-width="2.3"/>
<path d="M537.6,473.0C539.3,473.4 543.9,475.0 547.6,475.2C551.3,475.4 555.1,474.9 560.0,474.0C564.9,473.1 572.0,470.6 577.0,469.5C582.0,468.4 585.5,468.0 590.0,467.6C594.5,467.2 599.2,467.0 604.0,467.0C608.8,467.0 613.9,467.2 618.5,467.6C623.1,468.0 626.5,468.4 631.5,469.5C636.5,470.6 643.6,473.1 648.5,474.0C653.4,474.9 657.2,475.4 660.9,475.2C664.6,475.0 669.2,473.4 670.9,473.0" fill="none" stroke="#2222e8" stroke-width="2.3"/>
<path d="M537.6,448 Q556,461.5 537.6,473" fill="none" stroke="#2222e8" stroke-width="3.8"/>
<path d="M670.9,448 Q652.5,461.5 670.9,473" fill="none" stroke="#2222e8" stroke-width="3.8"/>
<path d="M577.3,411.5 Q574.3,461.5 577.3,509.5 M577.3,411.5 Q593.3,461.5 577.3,509.5 M630.8,411.5 Q614.8,461.5 630.8,509.5 M630.8,411.5 Q633.8,461.5 630.8,509.5" fill="none" stroke="#ff2020" stroke-width="1.5"/>
<line x1="582" y1="488.9" x2="626" y2="488.9" stroke="#000" stroke-width="2.6"/>
<polygon points="576.8,488.9 584.5,484.3 584.5,493.5" fill="#000"/>
<polygon points="631.2,488.9 623.5,484.3 623.5,493.5" fill="#000"/>
<circle cx="604.3" cy="410.8" r="2.9" fill="#fff" stroke="#000" stroke-width="1.4"/>
<circle cx="672.2" cy="410.8" r="2.9" fill="#fff" stroke="#000" stroke-width="1.4"/>
<circle cx="672.2" cy="461.7" r="2.9" fill="#fff" stroke="#000" stroke-width="1.4"/>
<circle cx="604.3" cy="461.7" r="2.9" fill="#fff" stroke="#000" stroke-width="1.4"/>
<text x="598.8" y="405.8" class="bz">Y</text>
<text x="666.3" y="406.8" class="bz">S</text>
<text x="673.5" y="457.5" class="bz">X</text>
<text x="601" y="451.6" class="bz">Γ</text>
<text x="598.5" y="500.3" class="bz">q<tspan font-size="10.5" dy="3">N</tspan></text>
</svg></body></html>
